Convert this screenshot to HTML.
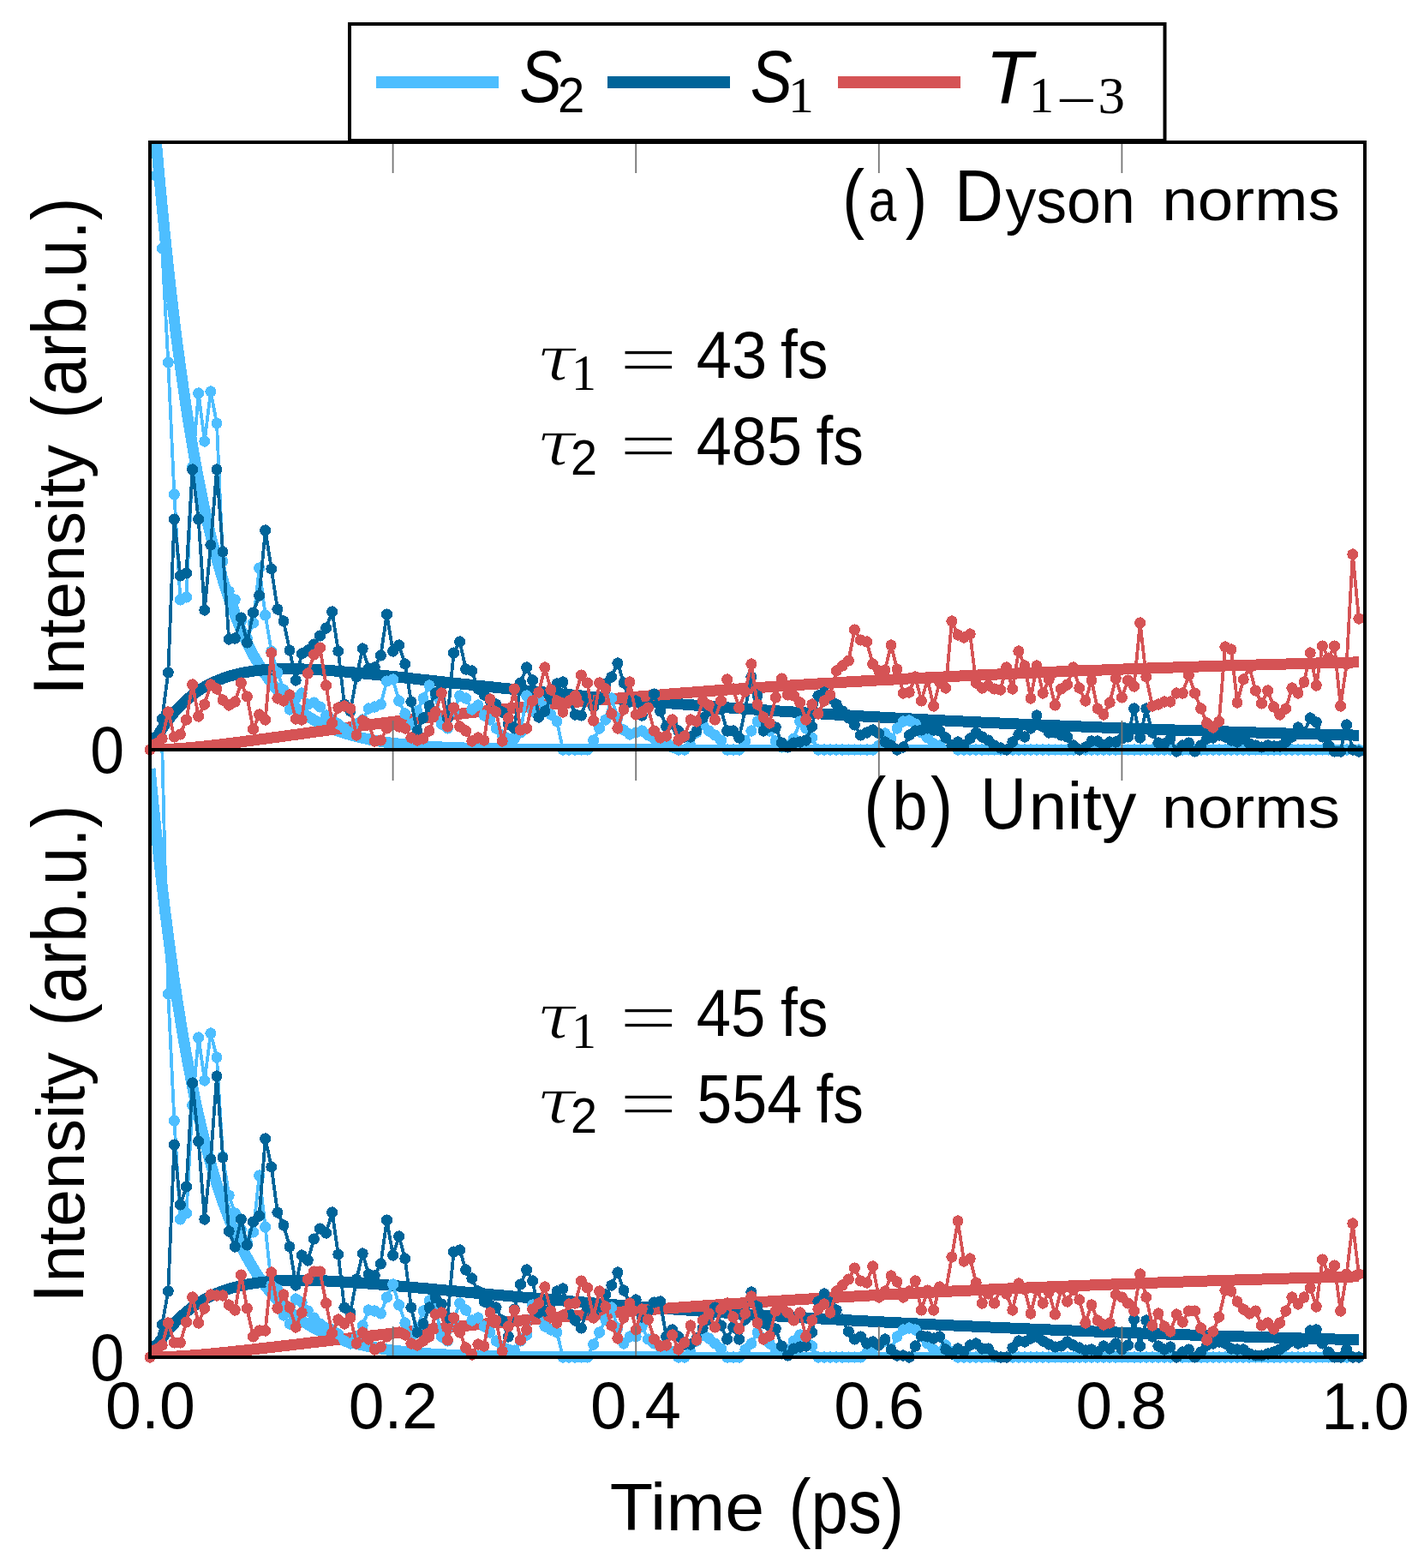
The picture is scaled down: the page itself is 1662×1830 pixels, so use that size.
<!DOCTYPE html>
<html><head><meta charset="utf-8"><title>Dyson and unity norms</title>
<style>
html,body{margin:0;padding:0;background:#fff;}
svg{display:block;}
text{font-family:"Liberation Sans",sans-serif;fill:#000;}
</style></head><body>
<svg width="1662" height="1830" viewBox="0 0 1662 1830">
<defs>
<clipPath id="clipa"><rect x="175" y="166" width="1418" height="709"/></clipPath>
<clipPath id="clipb"><rect x="175" y="875" width="1418" height="709"/></clipPath>
</defs>
<rect width="1662" height="1830" fill="#fff"/>
<g shape-rendering="crispEdges">
<g clip-path="url(#clipa)" fill="none" stroke-width="13" stroke-linejoin="round">
<path d="M175.0 75.0 L178.5 120.0 L182.1 162.4 L185.6 202.5 L189.1 240.3 L192.6 275.9 L196.2 309.6 L199.7 341.4 L203.2 371.4 L206.7 399.7 L210.3 426.4 L213.8 451.6 L217.3 475.4 L220.9 497.9 L224.4 519.1 L227.9 539.1 L231.4 558.0 L235.0 575.8 L238.5 592.6 L242.0 608.5 L245.5 623.5 L249.1 637.6 L252.6 650.9 L256.1 663.5 L259.7 675.4 L263.2 686.6 L266.7 697.2 L270.2 707.2 L273.8 716.6 L277.3 725.5 L280.8 733.9 L284.3 741.9 L287.9 749.4 L291.4 756.4 L294.9 763.1 L298.5 769.4 L302.0 775.3 L305.5 780.9 L309.0 786.2 L312.6 791.2 L316.1 795.9 L319.6 800.4 L323.1 804.5 L326.7 808.5 L330.2 812.2 L333.7 815.8 L337.3 819.1 L340.8 822.2 L344.3 825.2 L347.8 828.0 L351.4 830.6 L354.9 833.1 L358.4 835.5 L361.9 837.7 L365.5 839.8 L369.0 841.8 L372.5 843.7 L376.1 845.4 L379.6 847.1 L383.1 848.6 L386.6 850.1 L390.2 851.5 L393.7 852.8 L397.2 854.1 L400.7 855.3 L404.3 856.4 L407.8 857.4 L411.3 858.4 L414.9 859.3 L418.4 860.2 L421.9 861.1 L425.4 861.8 L429.0 862.6 L432.5 863.3 L436.0 863.9 L439.5 864.6 L443.1 865.1 L446.6 865.7 L450.1 866.2 L453.7 866.7 L457.2 867.2 L460.7 867.6 L464.2 868.0 L467.8 868.4 L471.3 868.8 L474.8 869.1 L478.3 869.5 L481.9 869.8 L485.4 870.1 L488.9 870.4 L492.5 870.6 L496.0 870.9 L499.5 871.1 L503.0 871.3 L506.6 871.5 L510.1 871.7 L513.6 871.9 L517.1 872.1 L520.7 872.2 L524.2 872.4 L527.7 872.5 L531.3 872.7 L534.8 872.8 L538.3 872.9 L541.8 873.0 L545.4 873.2 L548.9 873.3 L552.4 873.4 L555.9 873.5 L559.5 873.5 L563.0 873.6 L566.5 873.7 L570.1 873.8 L573.6 873.8 L577.1 873.9 L580.6 874.0 L584.2 874.0 L587.7 874.1 L591.2 874.1 L594.7 874.2 L598.3 874.2 L601.8 874.3 L605.3 874.3 L608.9 874.4 L612.4 874.4 L615.9 874.4 L619.4 874.5 L623.0 874.5 L626.5 874.5 L630.0 874.5 L633.5 874.6 L637.1 874.6 L640.6 874.6 L644.1 874.6 L647.7 874.7 L651.2 874.7 L654.7 874.7 L658.2 874.7 L661.8 874.7 L665.3 874.7 L668.8 874.8 L672.3 874.8 L675.9 874.8 L679.4 874.8 L682.9 874.8 L686.5 874.8 L690.0 874.8 L693.5 874.8 L697.0 874.8 L700.6 874.9 L704.1 874.9 L707.6 874.9 L711.1 874.9 L714.7 874.9 L718.2 874.9 L721.7 874.9 L725.3 874.9 L728.8 874.9 L732.3 874.9 L735.8 874.9 L739.4 874.9 L742.9 874.9 L746.4 874.9 L749.9 874.9 L753.5 874.9 L757.0 874.9 L760.5 874.9 L764.1 874.9 L767.6 875.0 L771.1 875.0 L774.6 875.0 L778.2 875.0 L781.7 875.0 L785.2 875.0 L788.7 875.0 L792.3 875.0 L795.8 875.0 L799.3 875.0 L802.9 875.0 L806.4 875.0 L809.9 875.0 L813.4 875.0 L817.0 875.0 L820.5 875.0 L824.0 875.0 L827.5 875.0 L831.1 875.0 L834.6 875.0 L838.1 875.0 L841.7 875.0 L845.2 875.0 L848.7 875.0 L852.2 875.0 L855.8 875.0 L859.3 875.0 L862.8 875.0 L866.3 875.0 L869.9 875.0 L873.4 875.0 L876.9 875.0 L880.5 875.0 L884.0 875.0 L887.5 875.0 L891.0 875.0 L894.6 875.0 L898.1 875.0 L901.6 875.0 L905.1 875.0 L908.7 875.0 L912.2 875.0 L915.7 875.0 L919.3 875.0 L922.8 875.0 L926.3 875.0 L929.8 875.0 L933.4 875.0 L936.9 875.0 L940.4 875.0 L943.9 875.0 L947.5 875.0 L951.0 875.0 L954.5 875.0 L958.1 875.0 L961.6 875.0 L965.1 875.0 L968.6 875.0 L972.2 875.0 L975.7 875.0 L979.2 875.0 L982.7 875.0 L986.3 875.0 L989.8 875.0 L993.3 875.0 L996.9 875.0 L1000.4 875.0 L1003.9 875.0 L1007.4 875.0 L1011.0 875.0 L1014.5 875.0 L1018.0 875.0 L1021.5 875.0 L1025.1 875.0 L1028.6 875.0 L1032.1 875.0 L1035.7 875.0 L1039.2 875.0 L1042.7 875.0 L1046.2 875.0 L1049.8 875.0 L1053.3 875.0 L1056.8 875.0 L1060.3 875.0 L1063.9 875.0 L1067.4 875.0 L1070.9 875.0 L1074.5 875.0 L1078.0 875.0 L1081.5 875.0 L1085.0 875.0 L1088.6 875.0 L1092.1 875.0 L1095.6 875.0 L1099.1 875.0 L1102.7 875.0 L1106.2 875.0 L1109.7 875.0 L1113.3 875.0 L1116.8 875.0 L1120.3 875.0 L1123.8 875.0 L1127.4 875.0 L1130.9 875.0 L1134.4 875.0 L1137.9 875.0 L1141.5 875.0 L1145.0 875.0 L1148.5 875.0 L1152.1 875.0 L1155.6 875.0 L1159.1 875.0 L1162.6 875.0 L1166.2 875.0 L1169.7 875.0 L1173.2 875.0 L1176.7 875.0 L1180.3 875.0 L1183.8 875.0 L1187.3 875.0 L1190.9 875.0 L1194.4 875.0 L1197.9 875.0 L1201.4 875.0 L1205.0 875.0 L1208.5 875.0 L1212.0 875.0 L1215.5 875.0 L1219.1 875.0 L1222.6 875.0 L1226.1 875.0 L1229.7 875.0 L1233.2 875.0 L1236.7 875.0 L1240.2 875.0 L1243.8 875.0 L1247.3 875.0 L1250.8 875.0 L1254.3 875.0 L1257.9 875.0 L1261.4 875.0 L1264.9 875.0 L1268.5 875.0 L1272.0 875.0 L1275.5 875.0 L1279.0 875.0 L1282.6 875.0 L1286.1 875.0 L1289.6 875.0 L1293.1 875.0 L1296.7 875.0 L1300.2 875.0 L1303.7 875.0 L1307.3 875.0 L1310.8 875.0 L1314.3 875.0 L1317.8 875.0 L1321.4 875.0 L1324.9 875.0 L1328.4 875.0 L1331.9 875.0 L1335.5 875.0 L1339.0 875.0 L1342.5 875.0 L1346.1 875.0 L1349.6 875.0 L1353.1 875.0 L1356.6 875.0 L1360.2 875.0 L1363.7 875.0 L1367.2 875.0 L1370.7 875.0 L1374.3 875.0 L1377.8 875.0 L1381.3 875.0 L1384.9 875.0 L1388.4 875.0 L1391.9 875.0 L1395.4 875.0 L1399.0 875.0 L1402.5 875.0 L1406.0 875.0 L1409.5 875.0 L1413.1 875.0 L1416.6 875.0 L1420.1 875.0 L1423.7 875.0 L1427.2 875.0 L1430.7 875.0 L1434.2 875.0 L1437.8 875.0 L1441.3 875.0 L1444.8 875.0 L1448.3 875.0 L1451.9 875.0 L1455.4 875.0 L1458.9 875.0 L1462.5 875.0 L1466.0 875.0 L1469.5 875.0 L1473.0 875.0 L1476.6 875.0 L1480.1 875.0 L1483.6 875.0 L1487.1 875.0 L1490.7 875.0 L1494.2 875.0 L1497.7 875.0 L1501.3 875.0 L1504.8 875.0 L1508.3 875.0 L1511.8 875.0 L1515.4 875.0 L1518.9 875.0 L1522.4 875.0 L1525.9 875.0 L1529.5 875.0 L1533.0 875.0 L1536.5 875.0 L1540.1 875.0 L1543.6 875.0 L1547.1 875.0 L1550.6 875.0 L1554.2 875.0 L1557.7 875.0 L1561.2 875.0 L1564.7 875.0 L1568.3 875.0 L1571.8 875.0 L1575.3 875.0 L1578.9 875.0 L1582.4 875.0 L1585.9 875.0" stroke="#4DBEFF"/>
<path d="M175.0 875.0 L178.5 868.3 L182.1 862.0 L185.6 856.1 L189.1 850.6 L192.6 845.4 L196.2 840.6 L199.7 836.0 L203.2 831.7 L206.7 827.7 L210.3 824.0 L213.8 820.5 L217.3 817.3 L220.9 814.2 L224.4 811.4 L227.9 808.7 L231.4 806.2 L235.0 803.9 L238.5 801.8 L242.0 799.8 L245.5 798.0 L249.1 796.3 L252.6 794.7 L256.1 793.2 L259.7 791.9 L263.2 790.6 L266.7 789.5 L270.2 788.4 L273.8 787.5 L277.3 786.6 L280.8 785.8 L284.3 785.1 L287.9 784.4 L291.4 783.8 L294.9 783.3 L298.5 782.8 L302.0 782.4 L305.5 782.0 L309.0 781.7 L312.6 781.5 L316.1 781.2 L319.6 781.1 L323.1 780.9 L326.7 780.8 L330.2 780.7 L333.7 780.7 L337.3 780.7 L340.8 780.7 L344.3 780.7 L347.8 780.8 L351.4 780.9 L354.9 781.0 L358.4 781.1 L361.9 781.3 L365.5 781.5 L369.0 781.6 L372.5 781.8 L376.1 782.1 L379.6 782.3 L383.1 782.5 L386.6 782.8 L390.2 783.0 L393.7 783.3 L397.2 783.6 L400.7 783.9 L404.3 784.2 L407.8 784.5 L411.3 784.8 L414.9 785.1 L418.4 785.5 L421.9 785.8 L425.4 786.1 L429.0 786.5 L432.5 786.8 L436.0 787.2 L439.5 787.5 L443.1 787.9 L446.6 788.3 L450.1 788.6 L453.7 789.0 L457.2 789.4 L460.7 789.7 L464.2 790.1 L467.8 790.5 L471.3 790.9 L474.8 791.2 L478.3 791.6 L481.9 792.0 L485.4 792.4 L488.9 792.8 L492.5 793.2 L496.0 793.5 L499.5 793.9 L503.0 794.3 L506.6 794.7 L510.1 795.1 L513.6 795.4 L517.1 795.8 L520.7 796.2 L524.2 796.6 L527.7 797.0 L531.3 797.3 L534.8 797.7 L538.3 798.1 L541.8 798.5 L545.4 798.8 L548.9 799.2 L552.4 799.6 L555.9 800.0 L559.5 800.3 L563.0 800.7 L566.5 801.1 L570.1 801.4 L573.6 801.8 L577.1 802.2 L580.6 802.5 L584.2 802.9 L587.7 803.3 L591.2 803.6 L594.7 804.0 L598.3 804.3 L601.8 804.7 L605.3 805.0 L608.9 805.4 L612.4 805.7 L615.9 806.1 L619.4 806.4 L623.0 806.8 L626.5 807.1 L630.0 807.5 L633.5 807.8 L637.1 808.2 L640.6 808.5 L644.1 808.8 L647.7 809.2 L651.2 809.5 L654.7 809.8 L658.2 810.2 L661.8 810.5 L665.3 810.8 L668.8 811.2 L672.3 811.5 L675.9 811.8 L679.4 812.1 L682.9 812.4 L686.5 812.8 L690.0 813.1 L693.5 813.4 L697.0 813.7 L700.6 814.0 L704.1 814.3 L707.6 814.6 L711.1 814.9 L714.7 815.3 L718.2 815.6 L721.7 815.9 L725.3 816.2 L728.8 816.5 L732.3 816.8 L735.8 817.1 L739.4 817.4 L742.9 817.6 L746.4 817.9 L749.9 818.2 L753.5 818.5 L757.0 818.8 L760.5 819.1 L764.1 819.4 L767.6 819.7 L771.1 819.9 L774.6 820.2 L778.2 820.5 L781.7 820.8 L785.2 821.1 L788.7 821.3 L792.3 821.6 L795.8 821.9 L799.3 822.2 L802.9 822.4 L806.4 822.7 L809.9 823.0 L813.4 823.2 L817.0 823.5 L820.5 823.8 L824.0 824.0 L827.5 824.3 L831.1 824.5 L834.6 824.8 L838.1 825.1 L841.7 825.3 L845.2 825.6 L848.7 825.8 L852.2 826.1 L855.8 826.3 L859.3 826.6 L862.8 826.8 L866.3 827.1 L869.9 827.3 L873.4 827.6 L876.9 827.8 L880.5 828.0 L884.0 828.3 L887.5 828.5 L891.0 828.8 L894.6 829.0 L898.1 829.2 L901.6 829.5 L905.1 829.7 L908.7 829.9 L912.2 830.2 L915.7 830.4 L919.3 830.6 L922.8 830.8 L926.3 831.1 L929.8 831.3 L933.4 831.5 L936.9 831.7 L940.4 832.0 L943.9 832.2 L947.5 832.4 L951.0 832.6 L954.5 832.8 L958.1 833.0 L961.6 833.3 L965.1 833.5 L968.6 833.7 L972.2 833.9 L975.7 834.1 L979.2 834.3 L982.7 834.5 L986.3 834.7 L989.8 834.9 L993.3 835.1 L996.9 835.3 L1000.4 835.5 L1003.9 835.8 L1007.4 836.0 L1011.0 836.2 L1014.5 836.4 L1018.0 836.5 L1021.5 836.7 L1025.1 836.9 L1028.6 837.1 L1032.1 837.3 L1035.7 837.5 L1039.2 837.7 L1042.7 837.9 L1046.2 838.1 L1049.8 838.3 L1053.3 838.5 L1056.8 838.7 L1060.3 838.8 L1063.9 839.0 L1067.4 839.2 L1070.9 839.4 L1074.5 839.6 L1078.0 839.8 L1081.5 839.9 L1085.0 840.1 L1088.6 840.3 L1092.1 840.5 L1095.6 840.7 L1099.1 840.8 L1102.7 841.0 L1106.2 841.2 L1109.7 841.3 L1113.3 841.5 L1116.8 841.7 L1120.3 841.9 L1123.8 842.0 L1127.4 842.2 L1130.9 842.4 L1134.4 842.5 L1137.9 842.7 L1141.5 842.9 L1145.0 843.0 L1148.5 843.2 L1152.1 843.4 L1155.6 843.5 L1159.1 843.7 L1162.6 843.8 L1166.2 844.0 L1169.7 844.2 L1173.2 844.3 L1176.7 844.5 L1180.3 844.6 L1183.8 844.8 L1187.3 844.9 L1190.9 845.1 L1194.4 845.2 L1197.9 845.4 L1201.4 845.5 L1205.0 845.7 L1208.5 845.9 L1212.0 846.0 L1215.5 846.1 L1219.1 846.3 L1222.6 846.4 L1226.1 846.6 L1229.7 846.7 L1233.2 846.9 L1236.7 847.0 L1240.2 847.2 L1243.8 847.3 L1247.3 847.4 L1250.8 847.6 L1254.3 847.7 L1257.9 847.9 L1261.4 848.0 L1264.9 848.1 L1268.5 848.3 L1272.0 848.4 L1275.5 848.6 L1279.0 848.7 L1282.6 848.8 L1286.1 849.0 L1289.6 849.1 L1293.1 849.2 L1296.7 849.4 L1300.2 849.5 L1303.7 849.6 L1307.3 849.7 L1310.8 849.9 L1314.3 850.0 L1317.8 850.1 L1321.4 850.3 L1324.9 850.4 L1328.4 850.5 L1331.9 850.6 L1335.5 850.8 L1339.0 850.9 L1342.5 851.0 L1346.1 851.1 L1349.6 851.3 L1353.1 851.4 L1356.6 851.5 L1360.2 851.6 L1363.7 851.7 L1367.2 851.9 L1370.7 852.0 L1374.3 852.1 L1377.8 852.2 L1381.3 852.3 L1384.9 852.4 L1388.4 852.6 L1391.9 852.7 L1395.4 852.8 L1399.0 852.9 L1402.5 853.0 L1406.0 853.1 L1409.5 853.2 L1413.1 853.4 L1416.6 853.5 L1420.1 853.6 L1423.7 853.7 L1427.2 853.8 L1430.7 853.9 L1434.2 854.0 L1437.8 854.1 L1441.3 854.2 L1444.8 854.3 L1448.3 854.4 L1451.9 854.5 L1455.4 854.6 L1458.9 854.7 L1462.5 854.9 L1466.0 855.0 L1469.5 855.1 L1473.0 855.2 L1476.6 855.3 L1480.1 855.4 L1483.6 855.5 L1487.1 855.6 L1490.7 855.7 L1494.2 855.8 L1497.7 855.9 L1501.3 856.0 L1504.8 856.1 L1508.3 856.2 L1511.8 856.2 L1515.4 856.3 L1518.9 856.4 L1522.4 856.5 L1525.9 856.6 L1529.5 856.7 L1533.0 856.8 L1536.5 856.9 L1540.1 857.0 L1543.6 857.1 L1547.1 857.2 L1550.6 857.3 L1554.2 857.4 L1557.7 857.5 L1561.2 857.5 L1564.7 857.6 L1568.3 857.7 L1571.8 857.8 L1575.3 857.9 L1578.9 858.0 L1582.4 858.1 L1585.9 858.2" stroke="#006499"/>
<path d="M175.0 875.0 L178.5 875.0 L182.1 874.9 L185.6 874.9 L189.1 874.7 L192.6 874.6 L196.2 874.4 L199.7 874.3 L203.2 874.0 L206.7 873.8 L210.3 873.6 L213.8 873.3 L217.3 873.0 L220.9 872.7 L224.4 872.4 L227.9 872.0 L231.4 871.7 L235.0 871.3 L238.5 871.0 L242.0 870.6 L245.5 870.2 L249.1 869.8 L252.6 869.4 L256.1 869.0 L259.7 868.6 L263.2 868.1 L266.7 867.7 L270.2 867.3 L273.8 866.8 L277.3 866.4 L280.8 865.9 L284.3 865.5 L287.9 865.0 L291.4 864.5 L294.9 864.1 L298.5 863.6 L302.0 863.1 L305.5 862.6 L309.0 862.2 L312.6 861.7 L316.1 861.2 L319.6 860.7 L323.1 860.3 L326.7 859.8 L330.2 859.3 L333.7 858.8 L337.3 858.3 L340.8 857.8 L344.3 857.4 L347.8 856.9 L351.4 856.4 L354.9 855.9 L358.4 855.4 L361.9 855.0 L365.5 854.5 L369.0 854.0 L372.5 853.5 L376.1 853.0 L379.6 852.6 L383.1 852.1 L386.6 851.6 L390.2 851.2 L393.7 850.7 L397.2 850.2 L400.7 849.8 L404.3 849.3 L407.8 848.8 L411.3 848.4 L414.9 847.9 L418.4 847.4 L421.9 847.0 L425.4 846.5 L429.0 846.1 L432.5 845.6 L436.0 845.2 L439.5 844.7 L443.1 844.3 L446.6 843.8 L450.1 843.4 L453.7 843.0 L457.2 842.5 L460.7 842.1 L464.2 841.6 L467.8 841.2 L471.3 840.8 L474.8 840.4 L478.3 839.9 L481.9 839.5 L485.4 839.1 L488.9 838.7 L492.5 838.2 L496.0 837.8 L499.5 837.4 L503.0 837.0 L506.6 836.6 L510.1 836.2 L513.6 835.8 L517.1 835.4 L520.7 835.0 L524.2 834.5 L527.7 834.1 L531.3 833.8 L534.8 833.4 L538.3 833.0 L541.8 832.6 L545.4 832.2 L548.9 831.8 L552.4 831.4 L555.9 831.0 L559.5 830.6 L563.0 830.3 L566.5 829.9 L570.1 829.5 L573.6 829.1 L577.1 828.8 L580.6 828.4 L584.2 828.0 L587.7 827.6 L591.2 827.3 L594.7 826.9 L598.3 826.6 L601.8 826.2 L605.3 825.8 L608.9 825.5 L612.4 825.1 L615.9 824.8 L619.4 824.4 L623.0 824.1 L626.5 823.7 L630.0 823.4 L633.5 823.0 L637.1 822.7 L640.6 822.3 L644.1 822.0 L647.7 821.7 L651.2 821.3 L654.7 821.0 L658.2 820.7 L661.8 820.3 L665.3 820.0 L668.8 819.7 L672.3 819.4 L675.9 819.0 L679.4 818.7 L682.9 818.4 L686.5 818.1 L690.0 817.8 L693.5 817.4 L697.0 817.1 L700.6 816.8 L704.1 816.5 L707.6 816.2 L711.1 815.9 L714.7 815.6 L718.2 815.3 L721.7 815.0 L725.3 814.7 L728.8 814.4 L732.3 814.1 L735.8 813.8 L739.4 813.5 L742.9 813.2 L746.4 812.9 L749.9 812.6 L753.5 812.3 L757.0 812.0 L760.5 811.7 L764.1 811.4 L767.6 811.2 L771.1 810.9 L774.6 810.6 L778.2 810.3 L781.7 810.0 L785.2 809.8 L788.7 809.5 L792.3 809.2 L795.8 808.9 L799.3 808.7 L802.9 808.4 L806.4 808.1 L809.9 807.9 L813.4 807.6 L817.0 807.3 L820.5 807.1 L824.0 806.8 L827.5 806.6 L831.1 806.3 L834.6 806.0 L838.1 805.8 L841.7 805.5 L845.2 805.3 L848.7 805.0 L852.2 804.8 L855.8 804.5 L859.3 804.3 L862.8 804.0 L866.3 803.8 L869.9 803.5 L873.4 803.3 L876.9 803.1 L880.5 802.8 L884.0 802.6 L887.5 802.3 L891.0 802.1 L894.6 801.9 L898.1 801.6 L901.6 801.4 L905.1 801.2 L908.7 800.9 L912.2 800.7 L915.7 800.5 L919.3 800.2 L922.8 800.0 L926.3 799.8 L929.8 799.6 L933.4 799.3 L936.9 799.1 L940.4 798.9 L943.9 798.7 L947.5 798.5 L951.0 798.3 L954.5 798.0 L958.1 797.8 L961.6 797.6 L965.1 797.4 L968.6 797.2 L972.2 797.0 L975.7 796.8 L979.2 796.6 L982.7 796.3 L986.3 796.1 L989.8 795.9 L993.3 795.7 L996.9 795.5 L1000.4 795.3 L1003.9 795.1 L1007.4 794.9 L1011.0 794.7 L1014.5 794.5 L1018.0 794.3 L1021.5 794.1 L1025.1 793.9 L1028.6 793.7 L1032.1 793.5 L1035.7 793.4 L1039.2 793.2 L1042.7 793.0 L1046.2 792.8 L1049.8 792.6 L1053.3 792.4 L1056.8 792.2 L1060.3 792.0 L1063.9 791.9 L1067.4 791.7 L1070.9 791.5 L1074.5 791.3 L1078.0 791.1 L1081.5 790.9 L1085.0 790.8 L1088.6 790.6 L1092.1 790.4 L1095.6 790.2 L1099.1 790.1 L1102.7 789.9 L1106.2 789.7 L1109.7 789.5 L1113.3 789.4 L1116.8 789.2 L1120.3 789.0 L1123.8 788.9 L1127.4 788.7 L1130.9 788.5 L1134.4 788.4 L1137.9 788.2 L1141.5 788.0 L1145.0 787.9 L1148.5 787.7 L1152.1 787.5 L1155.6 787.4 L1159.1 787.2 L1162.6 787.1 L1166.2 786.9 L1169.7 786.7 L1173.2 786.6 L1176.7 786.4 L1180.3 786.3 L1183.8 786.1 L1187.3 786.0 L1190.9 785.8 L1194.4 785.7 L1197.9 785.5 L1201.4 785.4 L1205.0 785.2 L1208.5 785.1 L1212.0 784.9 L1215.5 784.8 L1219.1 784.6 L1222.6 784.5 L1226.1 784.3 L1229.7 784.2 L1233.2 784.0 L1236.7 783.9 L1240.2 783.7 L1243.8 783.6 L1247.3 783.5 L1250.8 783.3 L1254.3 783.2 L1257.9 783.0 L1261.4 782.9 L1264.9 782.8 L1268.5 782.6 L1272.0 782.5 L1275.5 782.4 L1279.0 782.2 L1282.6 782.1 L1286.1 782.0 L1289.6 781.8 L1293.1 781.7 L1296.7 781.6 L1300.2 781.4 L1303.7 781.3 L1307.3 781.2 L1310.8 781.0 L1314.3 780.9 L1317.8 780.8 L1321.4 780.7 L1324.9 780.5 L1328.4 780.4 L1331.9 780.3 L1335.5 780.2 L1339.0 780.0 L1342.5 779.9 L1346.1 779.8 L1349.6 779.7 L1353.1 779.5 L1356.6 779.4 L1360.2 779.3 L1363.7 779.2 L1367.2 779.1 L1370.7 778.9 L1374.3 778.8 L1377.8 778.7 L1381.3 778.6 L1384.9 778.5 L1388.4 778.4 L1391.9 778.3 L1395.4 778.1 L1399.0 778.0 L1402.5 777.9 L1406.0 777.8 L1409.5 777.7 L1413.1 777.6 L1416.6 777.5 L1420.1 777.4 L1423.7 777.2 L1427.2 777.1 L1430.7 777.0 L1434.2 776.9 L1437.8 776.8 L1441.3 776.7 L1444.8 776.6 L1448.3 776.5 L1451.9 776.4 L1455.4 776.3 L1458.9 776.2 L1462.5 776.1 L1466.0 776.0 L1469.5 775.9 L1473.0 775.8 L1476.6 775.7 L1480.1 775.6 L1483.6 775.5 L1487.1 775.4 L1490.7 775.3 L1494.2 775.2 L1497.7 775.1 L1501.3 775.0 L1504.8 774.9 L1508.3 774.8 L1511.8 774.7 L1515.4 774.6 L1518.9 774.5 L1522.4 774.4 L1525.9 774.3 L1529.5 774.2 L1533.0 774.1 L1536.5 774.0 L1540.1 773.9 L1543.6 773.8 L1547.1 773.8 L1550.6 773.7 L1554.2 773.6 L1557.7 773.5 L1561.2 773.4 L1564.7 773.3 L1568.3 773.2 L1571.8 773.1 L1575.3 773.0 L1578.9 773.0 L1582.4 772.9 L1585.9 772.8" stroke="#D55355"/>
</g>
<path d="M175.0 -200.0 L182.1 205.0 L189.2 290.0 L196.3 423.0 L203.4 577.0 L210.4 700.0 L217.5 697.0 L224.6 545.0 L231.7 459.0 L238.8 515.0 L245.9 457.0 L253.0 494.0 L260.1 655.0 L267.2 690.0 L274.3 700.0 L281.4 725.0 L288.4 745.0 L295.5 727.0 L302.6 663.0 L309.7 718.0 L316.8 760.0 L323.9 785.0 L331.0 805.0 L338.1 828.0 L345.2 815.0 L352.2 809.0 L359.3 822.0 L366.4 820.0 L373.5 825.0 L380.6 835.0 L387.7 840.0 L394.8 845.0 L401.9 850.0 L409.0 855.0 L416.1 845.0 L423.2 840.0 L430.2 827.0 L437.3 825.0 L444.4 822.0 L451.5 795.0 L458.6 793.0 L465.7 818.0 L472.8 833.0 L479.9 845.0 L487.0 830.0 L494.1 815.0 L501.1 800.0 L508.2 812.0 L515.3 845.0 L522.4 850.0 L529.5 830.0 L536.6 812.0 L543.7 815.0 L550.8 828.0 L557.9 823.0 L565.0 835.0 L572.0 840.0 L579.1 850.0 L586.2 858.0 L593.3 862.0 L600.4 862.0 L607.5 855.0 L614.6 812.0 L621.7 830.0 L628.8 816.0 L635.9 825.0 L642.9 834.0 L650.0 842.0 L657.1 875.0 L664.2 875.0 L671.3 875.0 L678.4 875.0 L685.5 875.0 L692.6 864.0 L699.7 850.0 L706.8 840.0 L713.8 815.0 L720.9 838.0 L728.0 852.0 L735.1 857.0 L742.2 855.0 L749.3 853.0 L756.4 858.0 L763.5 862.0 L770.6 866.0 L777.6 866.0 L784.7 872.0 L791.8 875.0 L798.9 875.0 L806.0 870.0 L813.1 855.0 L820.2 845.0 L827.3 853.0 L834.4 858.0 L841.5 864.0 L848.6 875.0 L855.6 875.0 L862.7 875.0 L869.8 865.0 L876.9 853.0 L884.0 842.0 L891.1 850.0 L898.2 853.0 L905.3 865.0 L912.4 872.0 L919.5 870.0 L926.5 862.0 L933.6 842.0 L940.7 850.0 L947.8 861.0 L954.9 875.0 L962.0 875.0 L969.1 875.0 L976.2 875.0 L983.3 875.0 L990.4 875.0 L997.4 875.0 L1004.5 875.0 L1011.6 875.0 L1018.7 875.0 L1025.8 870.0 L1032.9 856.0 L1040.0 862.0 L1047.1 850.0 L1054.2 842.0 L1061.2 841.0 L1068.3 845.0 L1075.4 855.0 L1082.5 861.0 L1089.6 868.0 L1096.7 870.0 L1103.8 861.0 L1110.9 870.0 L1118.0 875.0 L1125.1 875.0 L1132.2 875.0 L1139.2 875.0 L1146.3 875.0 L1153.4 875.0 L1160.5 875.0 L1167.6 875.0 L1174.7 875.0 L1181.8 875.0 L1188.9 875.0 L1196.0 875.0 L1203.0 875.0 L1210.1 875.0 L1217.2 875.0 L1224.3 875.0 L1231.4 875.0 L1238.5 875.0 L1245.6 875.0 L1252.7 875.0 L1259.8 875.0 L1266.9 875.0 L1274.0 875.0 L1281.0 875.0 L1288.1 875.0 L1295.2 875.0 L1302.3 875.0 L1309.4 875.0 L1316.5 875.0 L1323.6 875.0 L1330.7 875.0 L1337.8 875.0 L1344.9 875.0 L1351.9 875.0 L1359.0 875.0 L1366.1 875.0 L1373.2 875.0 L1380.3 875.0 L1387.4 875.0 L1394.5 875.0 L1401.6 875.0 L1408.7 875.0 L1415.8 875.0 L1422.8 875.0 L1429.9 875.0 L1437.0 875.0 L1444.1 875.0 L1451.2 875.0 L1458.3 875.0 L1465.4 875.0 L1472.5 875.0 L1479.6 875.0 L1486.7 875.0 L1493.7 875.0 L1500.8 875.0 L1507.9 875.0 L1515.0 875.0 L1522.1 875.0 L1529.2 875.0 L1536.3 875.0 L1543.4 875.0 L1550.5 875.0 L1557.5 875.0 L1564.6 875.0 L1571.7 875.0 L1578.8 875.0 L1585.9 875.0" fill="none" stroke="#4DBEFF" stroke-width="3.8" stroke-linejoin="round" clip-path="url(#clipa)"/>
<path d="M182.1 198.0v14.0M189.2 283.0v14.0M196.3 416.0v14.0M203.4 570.0v14.0M210.4 693.0v14.0M217.5 690.0v14.0M224.6 538.0v14.0M231.7 452.0v14.0M238.8 508.0v14.0M245.9 450.0v14.0M253.0 487.0v14.0M260.1 648.0v14.0M267.2 683.0v14.0M274.3 693.0v14.0M281.4 718.0v14.0M288.4 738.0v14.0M295.5 720.0v14.0M302.6 656.0v14.0M309.7 711.0v14.0M316.8 753.0v14.0M323.9 778.0v14.0M331.0 798.0v14.0M338.1 821.0v14.0M345.2 808.0v14.0M352.2 802.0v14.0M359.3 815.0v14.0M366.4 813.0v14.0M373.5 818.0v14.0M380.6 828.0v14.0M387.7 833.0v14.0M394.8 838.0v14.0M401.9 843.0v14.0M409.0 848.0v14.0M416.1 838.0v14.0M423.2 833.0v14.0M430.2 820.0v14.0M437.3 818.0v14.0M444.4 815.0v14.0M451.5 788.0v14.0M458.6 786.0v14.0M465.7 811.0v14.0M472.8 826.0v14.0M479.9 838.0v14.0M487.0 823.0v14.0M494.1 808.0v14.0M501.1 793.0v14.0M508.2 805.0v14.0M515.3 838.0v14.0M522.4 843.0v14.0M529.5 823.0v14.0M536.6 805.0v14.0M543.7 808.0v14.0M550.8 821.0v14.0M557.9 816.0v14.0M565.0 828.0v14.0M572.0 833.0v14.0M579.1 843.0v14.0M586.2 851.0v14.0M593.3 855.0v14.0M600.4 855.0v14.0M607.5 848.0v14.0M614.6 805.0v14.0M621.7 823.0v14.0M628.8 809.0v14.0M635.9 818.0v14.0M642.9 827.0v14.0M650.0 835.0v14.0M657.1 868.0v14.0M664.2 868.0v14.0M671.3 868.0v14.0M678.4 868.0v14.0M685.5 868.0v14.0M692.6 857.0v14.0M699.7 843.0v14.0M706.8 833.0v14.0M713.8 808.0v14.0M720.9 831.0v14.0M728.0 845.0v14.0M735.1 850.0v14.0M742.2 848.0v14.0M749.3 846.0v14.0M756.4 851.0v14.0M763.5 855.0v14.0M770.6 859.0v14.0M777.6 859.0v14.0M784.7 865.0v14.0M791.8 868.0v14.0M798.9 868.0v14.0M806.0 863.0v14.0M813.1 848.0v14.0M820.2 838.0v14.0M827.3 846.0v14.0M834.4 851.0v14.0M841.5 857.0v14.0M848.6 868.0v14.0M855.6 868.0v14.0M862.7 868.0v14.0M869.8 858.0v14.0M876.9 846.0v14.0M884.0 835.0v14.0M891.1 843.0v14.0M898.2 846.0v14.0M905.3 858.0v14.0M912.4 865.0v14.0M919.5 863.0v14.0M926.5 855.0v14.0M933.6 835.0v14.0M940.7 843.0v14.0M947.8 854.0v14.0M954.9 868.0v14.0M962.0 868.0v14.0M969.1 868.0v14.0M976.2 868.0v14.0M983.3 868.0v14.0M990.4 868.0v14.0M997.4 868.0v14.0M1004.5 868.0v14.0M1011.6 868.0v14.0M1018.7 868.0v14.0M1025.8 863.0v14.0M1032.9 849.0v14.0M1040.0 855.0v14.0M1047.1 843.0v14.0M1054.2 835.0v14.0M1061.2 834.0v14.0M1068.3 838.0v14.0M1075.4 848.0v14.0M1082.5 854.0v14.0M1089.6 861.0v14.0M1096.7 863.0v14.0M1103.8 854.0v14.0M1110.9 863.0v14.0M1118.0 868.0v14.0M1125.1 868.0v14.0M1132.2 868.0v14.0M1139.2 868.0v14.0M1146.3 868.0v14.0M1153.4 868.0v14.0M1160.5 868.0v14.0M1167.6 868.0v14.0M1174.7 868.0v14.0M1181.8 868.0v14.0M1188.9 868.0v14.0M1196.0 868.0v14.0M1203.0 868.0v14.0M1210.1 868.0v14.0M1217.2 868.0v14.0M1224.3 868.0v14.0M1231.4 868.0v14.0M1238.5 868.0v14.0M1245.6 868.0v14.0M1252.7 868.0v14.0M1259.8 868.0v14.0M1266.9 868.0v14.0M1274.0 868.0v14.0M1281.0 868.0v14.0M1288.1 868.0v14.0M1295.2 868.0v14.0M1302.3 868.0v14.0M1309.4 868.0v14.0M1316.5 868.0v14.0M1323.6 868.0v14.0M1330.7 868.0v14.0M1337.8 868.0v14.0M1344.9 868.0v14.0M1351.9 868.0v14.0M1359.0 868.0v14.0M1366.1 868.0v14.0M1373.2 868.0v14.0M1380.3 868.0v14.0M1387.4 868.0v14.0M1394.5 868.0v14.0M1401.6 868.0v14.0M1408.7 868.0v14.0M1415.8 868.0v14.0M1422.8 868.0v14.0M1429.9 868.0v14.0M1437.0 868.0v14.0M1444.1 868.0v14.0M1451.2 868.0v14.0M1458.3 868.0v14.0M1465.4 868.0v14.0M1472.5 868.0v14.0M1479.6 868.0v14.0M1486.7 868.0v14.0M1493.7 868.0v14.0M1500.8 868.0v14.0M1507.9 868.0v14.0M1515.0 868.0v14.0M1522.1 868.0v14.0M1529.2 868.0v14.0M1536.3 868.0v14.0M1543.4 868.0v14.0M1550.5 868.0v14.0M1557.5 868.0v14.0M1564.6 868.0v14.0M1571.7 868.0v14.0M1578.8 868.0v14.0M1585.9 868.0v14.0" stroke="#4DBEFF" stroke-width="1.8" fill="none"/>
<g fill="#4DBEFF"><circle cx="182.1" cy="205.0" r="6.5"/><circle cx="189.2" cy="290.0" r="6.5"/><circle cx="196.3" cy="423.0" r="6.5"/><circle cx="203.4" cy="577.0" r="6.5"/><circle cx="210.4" cy="700.0" r="6.5"/><circle cx="217.5" cy="697.0" r="6.5"/><circle cx="224.6" cy="545.0" r="6.5"/><circle cx="231.7" cy="459.0" r="6.5"/><circle cx="238.8" cy="515.0" r="6.5"/><circle cx="245.9" cy="457.0" r="6.5"/><circle cx="253.0" cy="494.0" r="6.5"/><circle cx="260.1" cy="655.0" r="6.5"/><circle cx="267.2" cy="690.0" r="6.5"/><circle cx="274.3" cy="700.0" r="6.5"/><circle cx="281.4" cy="725.0" r="6.5"/><circle cx="288.4" cy="745.0" r="6.5"/><circle cx="295.5" cy="727.0" r="6.5"/><circle cx="302.6" cy="663.0" r="6.5"/><circle cx="309.7" cy="718.0" r="6.5"/><circle cx="316.8" cy="760.0" r="6.5"/><circle cx="323.9" cy="785.0" r="6.5"/><circle cx="331.0" cy="805.0" r="6.5"/><circle cx="338.1" cy="828.0" r="6.5"/><circle cx="345.2" cy="815.0" r="6.5"/><circle cx="352.2" cy="809.0" r="6.5"/><circle cx="359.3" cy="822.0" r="6.5"/><circle cx="366.4" cy="820.0" r="6.5"/><circle cx="373.5" cy="825.0" r="6.5"/><circle cx="380.6" cy="835.0" r="6.5"/><circle cx="387.7" cy="840.0" r="6.5"/><circle cx="394.8" cy="845.0" r="6.5"/><circle cx="401.9" cy="850.0" r="6.5"/><circle cx="409.0" cy="855.0" r="6.5"/><circle cx="416.1" cy="845.0" r="6.5"/><circle cx="423.2" cy="840.0" r="6.5"/><circle cx="430.2" cy="827.0" r="6.5"/><circle cx="437.3" cy="825.0" r="6.5"/><circle cx="444.4" cy="822.0" r="6.5"/><circle cx="451.5" cy="795.0" r="6.5"/><circle cx="458.6" cy="793.0" r="6.5"/><circle cx="465.7" cy="818.0" r="6.5"/><circle cx="472.8" cy="833.0" r="6.5"/><circle cx="479.9" cy="845.0" r="6.5"/><circle cx="487.0" cy="830.0" r="6.5"/><circle cx="494.1" cy="815.0" r="6.5"/><circle cx="501.1" cy="800.0" r="6.5"/><circle cx="508.2" cy="812.0" r="6.5"/><circle cx="515.3" cy="845.0" r="6.5"/><circle cx="522.4" cy="850.0" r="6.5"/><circle cx="529.5" cy="830.0" r="6.5"/><circle cx="536.6" cy="812.0" r="6.5"/><circle cx="543.7" cy="815.0" r="6.5"/><circle cx="550.8" cy="828.0" r="6.5"/><circle cx="557.9" cy="823.0" r="6.5"/><circle cx="565.0" cy="835.0" r="6.5"/><circle cx="572.0" cy="840.0" r="6.5"/><circle cx="579.1" cy="850.0" r="6.5"/><circle cx="586.2" cy="858.0" r="6.5"/><circle cx="593.3" cy="862.0" r="6.5"/><circle cx="600.4" cy="862.0" r="6.5"/><circle cx="607.5" cy="855.0" r="6.5"/><circle cx="614.6" cy="812.0" r="6.5"/><circle cx="621.7" cy="830.0" r="6.5"/><circle cx="628.8" cy="816.0" r="6.5"/><circle cx="635.9" cy="825.0" r="6.5"/><circle cx="642.9" cy="834.0" r="6.5"/><circle cx="650.0" cy="842.0" r="6.5"/><circle cx="657.1" cy="875.0" r="6.5"/><circle cx="664.2" cy="875.0" r="6.5"/><circle cx="671.3" cy="875.0" r="6.5"/><circle cx="678.4" cy="875.0" r="6.5"/><circle cx="685.5" cy="875.0" r="6.5"/><circle cx="692.6" cy="864.0" r="6.5"/><circle cx="699.7" cy="850.0" r="6.5"/><circle cx="706.8" cy="840.0" r="6.5"/><circle cx="713.8" cy="815.0" r="6.5"/><circle cx="720.9" cy="838.0" r="6.5"/><circle cx="728.0" cy="852.0" r="6.5"/><circle cx="735.1" cy="857.0" r="6.5"/><circle cx="742.2" cy="855.0" r="6.5"/><circle cx="749.3" cy="853.0" r="6.5"/><circle cx="756.4" cy="858.0" r="6.5"/><circle cx="763.5" cy="862.0" r="6.5"/><circle cx="770.6" cy="866.0" r="6.5"/><circle cx="777.6" cy="866.0" r="6.5"/><circle cx="784.7" cy="872.0" r="6.5"/><circle cx="791.8" cy="875.0" r="6.5"/><circle cx="798.9" cy="875.0" r="6.5"/><circle cx="806.0" cy="870.0" r="6.5"/><circle cx="813.1" cy="855.0" r="6.5"/><circle cx="820.2" cy="845.0" r="6.5"/><circle cx="827.3" cy="853.0" r="6.5"/><circle cx="834.4" cy="858.0" r="6.5"/><circle cx="841.5" cy="864.0" r="6.5"/><circle cx="848.6" cy="875.0" r="6.5"/><circle cx="855.6" cy="875.0" r="6.5"/><circle cx="862.7" cy="875.0" r="6.5"/><circle cx="869.8" cy="865.0" r="6.5"/><circle cx="876.9" cy="853.0" r="6.5"/><circle cx="884.0" cy="842.0" r="6.5"/><circle cx="891.1" cy="850.0" r="6.5"/><circle cx="898.2" cy="853.0" r="6.5"/><circle cx="905.3" cy="865.0" r="6.5"/><circle cx="912.4" cy="872.0" r="6.5"/><circle cx="919.5" cy="870.0" r="6.5"/><circle cx="926.5" cy="862.0" r="6.5"/><circle cx="933.6" cy="842.0" r="6.5"/><circle cx="940.7" cy="850.0" r="6.5"/><circle cx="947.8" cy="861.0" r="6.5"/><circle cx="954.9" cy="875.0" r="6.5"/><circle cx="962.0" cy="875.0" r="6.5"/><circle cx="969.1" cy="875.0" r="6.5"/><circle cx="976.2" cy="875.0" r="6.5"/><circle cx="983.3" cy="875.0" r="6.5"/><circle cx="990.4" cy="875.0" r="6.5"/><circle cx="997.4" cy="875.0" r="6.5"/><circle cx="1004.5" cy="875.0" r="6.5"/><circle cx="1011.6" cy="875.0" r="6.5"/><circle cx="1018.7" cy="875.0" r="6.5"/><circle cx="1025.8" cy="870.0" r="6.5"/><circle cx="1032.9" cy="856.0" r="6.5"/><circle cx="1040.0" cy="862.0" r="6.5"/><circle cx="1047.1" cy="850.0" r="6.5"/><circle cx="1054.2" cy="842.0" r="6.5"/><circle cx="1061.2" cy="841.0" r="6.5"/><circle cx="1068.3" cy="845.0" r="6.5"/><circle cx="1075.4" cy="855.0" r="6.5"/><circle cx="1082.5" cy="861.0" r="6.5"/><circle cx="1089.6" cy="868.0" r="6.5"/><circle cx="1096.7" cy="870.0" r="6.5"/><circle cx="1103.8" cy="861.0" r="6.5"/><circle cx="1110.9" cy="870.0" r="6.5"/><circle cx="1118.0" cy="875.0" r="6.5"/><circle cx="1125.1" cy="875.0" r="6.5"/><circle cx="1132.2" cy="875.0" r="6.5"/><circle cx="1139.2" cy="875.0" r="6.5"/><circle cx="1146.3" cy="875.0" r="6.5"/><circle cx="1153.4" cy="875.0" r="6.5"/><circle cx="1160.5" cy="875.0" r="6.5"/><circle cx="1167.6" cy="875.0" r="6.5"/><circle cx="1174.7" cy="875.0" r="6.5"/><circle cx="1181.8" cy="875.0" r="6.5"/><circle cx="1188.9" cy="875.0" r="6.5"/><circle cx="1196.0" cy="875.0" r="6.5"/><circle cx="1203.0" cy="875.0" r="6.5"/><circle cx="1210.1" cy="875.0" r="6.5"/><circle cx="1217.2" cy="875.0" r="6.5"/><circle cx="1224.3" cy="875.0" r="6.5"/><circle cx="1231.4" cy="875.0" r="6.5"/><circle cx="1238.5" cy="875.0" r="6.5"/><circle cx="1245.6" cy="875.0" r="6.5"/><circle cx="1252.7" cy="875.0" r="6.5"/><circle cx="1259.8" cy="875.0" r="6.5"/><circle cx="1266.9" cy="875.0" r="6.5"/><circle cx="1274.0" cy="875.0" r="6.5"/><circle cx="1281.0" cy="875.0" r="6.5"/><circle cx="1288.1" cy="875.0" r="6.5"/><circle cx="1295.2" cy="875.0" r="6.5"/><circle cx="1302.3" cy="875.0" r="6.5"/><circle cx="1309.4" cy="875.0" r="6.5"/><circle cx="1316.5" cy="875.0" r="6.5"/><circle cx="1323.6" cy="875.0" r="6.5"/><circle cx="1330.7" cy="875.0" r="6.5"/><circle cx="1337.8" cy="875.0" r="6.5"/><circle cx="1344.9" cy="875.0" r="6.5"/><circle cx="1351.9" cy="875.0" r="6.5"/><circle cx="1359.0" cy="875.0" r="6.5"/><circle cx="1366.1" cy="875.0" r="6.5"/><circle cx="1373.2" cy="875.0" r="6.5"/><circle cx="1380.3" cy="875.0" r="6.5"/><circle cx="1387.4" cy="875.0" r="6.5"/><circle cx="1394.5" cy="875.0" r="6.5"/><circle cx="1401.6" cy="875.0" r="6.5"/><circle cx="1408.7" cy="875.0" r="6.5"/><circle cx="1415.8" cy="875.0" r="6.5"/><circle cx="1422.8" cy="875.0" r="6.5"/><circle cx="1429.9" cy="875.0" r="6.5"/><circle cx="1437.0" cy="875.0" r="6.5"/><circle cx="1444.1" cy="875.0" r="6.5"/><circle cx="1451.2" cy="875.0" r="6.5"/><circle cx="1458.3" cy="875.0" r="6.5"/><circle cx="1465.4" cy="875.0" r="6.5"/><circle cx="1472.5" cy="875.0" r="6.5"/><circle cx="1479.6" cy="875.0" r="6.5"/><circle cx="1486.7" cy="875.0" r="6.5"/><circle cx="1493.7" cy="875.0" r="6.5"/><circle cx="1500.8" cy="875.0" r="6.5"/><circle cx="1507.9" cy="875.0" r="6.5"/><circle cx="1515.0" cy="875.0" r="6.5"/><circle cx="1522.1" cy="875.0" r="6.5"/><circle cx="1529.2" cy="875.0" r="6.5"/><circle cx="1536.3" cy="875.0" r="6.5"/><circle cx="1543.4" cy="875.0" r="6.5"/><circle cx="1550.5" cy="875.0" r="6.5"/><circle cx="1557.5" cy="875.0" r="6.5"/><circle cx="1564.6" cy="875.0" r="6.5"/><circle cx="1571.7" cy="875.0" r="6.5"/><circle cx="1578.8" cy="875.0" r="6.5"/><circle cx="1585.9" cy="875.0" r="6.5"/></g>
<path d="M175.0 875.0 L182.1 860.0 L189.2 839.0 L196.3 785.0 L203.4 606.0 L210.4 672.0 L217.5 669.0 L224.6 548.0 L231.7 606.0 L238.8 712.0 L245.9 636.0 L253.0 548.0 L260.1 644.0 L267.2 746.0 L274.3 745.0 L281.4 721.0 L288.4 750.0 L295.5 715.0 L302.6 695.0 L309.7 619.0 L316.8 664.0 L323.9 711.0 L331.0 725.0 L338.1 759.0 L345.2 794.0 L352.2 763.0 L359.3 759.0 L366.4 752.0 L373.5 742.0 L380.6 733.0 L387.7 714.0 L394.8 760.0 L401.9 822.0 L409.0 830.0 L416.1 790.0 L423.2 757.0 L430.2 780.0 L437.3 779.0 L444.4 765.0 L451.5 717.0 L458.6 760.0 L465.7 753.0 L472.8 775.0 L479.9 819.0 L487.0 853.0 L494.1 838.0 L501.1 824.0 L508.2 809.0 L515.3 800.0 L522.4 838.0 L529.5 762.0 L536.6 749.0 L543.7 781.0 L550.8 783.0 L557.9 804.0 L565.0 811.0 L572.0 818.0 L579.1 822.0 L586.2 831.0 L593.3 845.0 L600.4 850.0 L607.5 797.0 L614.6 779.0 L621.7 794.0 L628.8 837.0 L635.9 830.0 L642.9 815.0 L650.0 798.0 L657.1 796.0 L664.2 815.0 L671.3 834.0 L678.4 835.0 L685.5 814.0 L692.6 825.0 L699.7 816.0 L706.8 798.0 L713.8 790.0 L720.9 774.0 L728.0 797.0 L735.1 819.0 L742.2 818.0 L749.3 835.0 L756.4 825.0 L763.5 810.0 L770.6 830.0 L777.6 848.0 L784.7 845.0 L791.8 853.0 L798.9 860.0 L806.0 860.0 L813.1 853.0 L820.2 838.0 L827.3 830.0 L834.4 828.0 L841.5 828.0 L848.6 853.0 L855.6 853.0 L862.7 861.0 L869.8 828.0 L876.9 790.0 L884.0 812.0 L891.1 853.0 L898.2 848.0 L905.3 849.0 L912.4 867.0 L919.5 872.0 L926.5 867.0 L933.6 866.0 L940.7 864.0 L947.8 848.0 L954.9 812.0 L962.0 808.0 L969.1 815.0 L976.2 822.0 L983.3 830.0 L990.4 838.0 L997.4 846.0 L1004.5 858.0 L1011.6 855.0 L1018.7 852.0 L1025.8 856.0 L1032.9 866.0 L1040.0 870.0 L1047.1 875.0 L1054.2 872.0 L1061.2 858.0 L1068.3 853.0 L1075.4 852.0 L1082.5 850.0 L1089.6 852.0 L1096.7 853.0 L1103.8 861.0 L1110.9 870.0 L1118.0 866.0 L1125.1 870.0 L1132.2 862.0 L1139.2 855.0 L1146.3 860.0 L1153.4 864.0 L1160.5 870.0 L1167.6 873.0 L1174.7 875.0 L1181.8 866.0 L1188.9 857.0 L1196.0 860.0 L1203.0 850.0 L1210.1 835.0 L1217.2 848.0 L1224.3 855.0 L1231.4 855.0 L1238.5 858.0 L1245.6 860.0 L1252.7 870.0 L1259.8 875.0 L1266.9 872.0 L1274.0 865.0 L1281.0 865.0 L1288.1 870.0 L1295.2 866.0 L1302.3 866.0 L1309.4 862.0 L1316.5 860.0 L1323.6 827.0 L1330.7 861.0 L1337.8 827.0 L1344.9 855.0 L1351.9 867.0 L1359.0 868.0 L1366.1 862.0 L1373.2 877.0 L1380.3 870.0 L1387.4 867.0 L1394.5 877.0 L1401.6 870.0 L1408.7 862.0 L1415.8 861.0 L1422.8 858.0 L1429.9 860.0 L1437.0 864.0 L1444.1 866.0 L1451.2 862.0 L1458.3 868.0 L1465.4 870.0 L1472.5 872.0 L1479.6 870.0 L1486.7 871.0 L1493.7 871.0 L1500.8 866.0 L1507.9 860.0 L1515.0 849.0 L1522.1 855.0 L1529.2 838.0 L1536.3 843.0 L1543.4 860.0 L1550.5 870.0 L1557.5 877.0 L1564.6 877.0 L1571.7 846.0 L1578.8 875.0 L1585.9 877.0" fill="none" stroke="#006499" stroke-width="3.8" stroke-linejoin="round" clip-path="url(#clipa)"/>
<path d="M175.0 868.0v14.0M182.1 853.0v14.0M189.2 832.0v14.0M196.3 778.0v14.0M203.4 599.0v14.0M210.4 665.0v14.0M217.5 662.0v14.0M224.6 541.0v14.0M231.7 599.0v14.0M238.8 705.0v14.0M245.9 629.0v14.0M253.0 541.0v14.0M260.1 637.0v14.0M267.2 739.0v14.0M274.3 738.0v14.0M281.4 714.0v14.0M288.4 743.0v14.0M295.5 708.0v14.0M302.6 688.0v14.0M309.7 612.0v14.0M316.8 657.0v14.0M323.9 704.0v14.0M331.0 718.0v14.0M338.1 752.0v14.0M345.2 787.0v14.0M352.2 756.0v14.0M359.3 752.0v14.0M366.4 745.0v14.0M373.5 735.0v14.0M380.6 726.0v14.0M387.7 707.0v14.0M394.8 753.0v14.0M401.9 815.0v14.0M409.0 823.0v14.0M416.1 783.0v14.0M423.2 750.0v14.0M430.2 773.0v14.0M437.3 772.0v14.0M444.4 758.0v14.0M451.5 710.0v14.0M458.6 753.0v14.0M465.7 746.0v14.0M472.8 768.0v14.0M479.9 812.0v14.0M487.0 846.0v14.0M494.1 831.0v14.0M501.1 817.0v14.0M508.2 802.0v14.0M515.3 793.0v14.0M522.4 831.0v14.0M529.5 755.0v14.0M536.6 742.0v14.0M543.7 774.0v14.0M550.8 776.0v14.0M557.9 797.0v14.0M565.0 804.0v14.0M572.0 811.0v14.0M579.1 815.0v14.0M586.2 824.0v14.0M593.3 838.0v14.0M600.4 843.0v14.0M607.5 790.0v14.0M614.6 772.0v14.0M621.7 787.0v14.0M628.8 830.0v14.0M635.9 823.0v14.0M642.9 808.0v14.0M650.0 791.0v14.0M657.1 789.0v14.0M664.2 808.0v14.0M671.3 827.0v14.0M678.4 828.0v14.0M685.5 807.0v14.0M692.6 818.0v14.0M699.7 809.0v14.0M706.8 791.0v14.0M713.8 783.0v14.0M720.9 767.0v14.0M728.0 790.0v14.0M735.1 812.0v14.0M742.2 811.0v14.0M749.3 828.0v14.0M756.4 818.0v14.0M763.5 803.0v14.0M770.6 823.0v14.0M777.6 841.0v14.0M784.7 838.0v14.0M791.8 846.0v14.0M798.9 853.0v14.0M806.0 853.0v14.0M813.1 846.0v14.0M820.2 831.0v14.0M827.3 823.0v14.0M834.4 821.0v14.0M841.5 821.0v14.0M848.6 846.0v14.0M855.6 846.0v14.0M862.7 854.0v14.0M869.8 821.0v14.0M876.9 783.0v14.0M884.0 805.0v14.0M891.1 846.0v14.0M898.2 841.0v14.0M905.3 842.0v14.0M912.4 860.0v14.0M919.5 865.0v14.0M926.5 860.0v14.0M933.6 859.0v14.0M940.7 857.0v14.0M947.8 841.0v14.0M954.9 805.0v14.0M962.0 801.0v14.0M969.1 808.0v14.0M976.2 815.0v14.0M983.3 823.0v14.0M990.4 831.0v14.0M997.4 839.0v14.0M1004.5 851.0v14.0M1011.6 848.0v14.0M1018.7 845.0v14.0M1025.8 849.0v14.0M1032.9 859.0v14.0M1040.0 863.0v14.0M1047.1 868.0v14.0M1054.2 865.0v14.0M1061.2 851.0v14.0M1068.3 846.0v14.0M1075.4 845.0v14.0M1082.5 843.0v14.0M1089.6 845.0v14.0M1096.7 846.0v14.0M1103.8 854.0v14.0M1110.9 863.0v14.0M1118.0 859.0v14.0M1125.1 863.0v14.0M1132.2 855.0v14.0M1139.2 848.0v14.0M1146.3 853.0v14.0M1153.4 857.0v14.0M1160.5 863.0v14.0M1167.6 866.0v14.0M1174.7 868.0v14.0M1181.8 859.0v14.0M1188.9 850.0v14.0M1196.0 853.0v14.0M1203.0 843.0v14.0M1210.1 828.0v14.0M1217.2 841.0v14.0M1224.3 848.0v14.0M1231.4 848.0v14.0M1238.5 851.0v14.0M1245.6 853.0v14.0M1252.7 863.0v14.0M1259.8 868.0v14.0M1266.9 865.0v14.0M1274.0 858.0v14.0M1281.0 858.0v14.0M1288.1 863.0v14.0M1295.2 859.0v14.0M1302.3 859.0v14.0M1309.4 855.0v14.0M1316.5 853.0v14.0M1323.6 820.0v14.0M1330.7 854.0v14.0M1337.8 820.0v14.0M1344.9 848.0v14.0M1351.9 860.0v14.0M1359.0 861.0v14.0M1366.1 855.0v14.0M1373.2 870.0v14.0M1380.3 863.0v14.0M1387.4 860.0v14.0M1394.5 870.0v14.0M1401.6 863.0v14.0M1408.7 855.0v14.0M1415.8 854.0v14.0M1422.8 851.0v14.0M1429.9 853.0v14.0M1437.0 857.0v14.0M1444.1 859.0v14.0M1451.2 855.0v14.0M1458.3 861.0v14.0M1465.4 863.0v14.0M1472.5 865.0v14.0M1479.6 863.0v14.0M1486.7 864.0v14.0M1493.7 864.0v14.0M1500.8 859.0v14.0M1507.9 853.0v14.0M1515.0 842.0v14.0M1522.1 848.0v14.0M1529.2 831.0v14.0M1536.3 836.0v14.0M1543.4 853.0v14.0M1550.5 863.0v14.0M1557.5 870.0v14.0M1564.6 870.0v14.0M1571.7 839.0v14.0M1578.8 868.0v14.0M1585.9 870.0v14.0" stroke="#006499" stroke-width="1.8" fill="none"/>
<g fill="#006499"><circle cx="175.0" cy="875.0" r="6.5"/><circle cx="182.1" cy="860.0" r="6.5"/><circle cx="189.2" cy="839.0" r="6.5"/><circle cx="196.3" cy="785.0" r="6.5"/><circle cx="203.4" cy="606.0" r="6.5"/><circle cx="210.4" cy="672.0" r="6.5"/><circle cx="217.5" cy="669.0" r="6.5"/><circle cx="224.6" cy="548.0" r="6.5"/><circle cx="231.7" cy="606.0" r="6.5"/><circle cx="238.8" cy="712.0" r="6.5"/><circle cx="245.9" cy="636.0" r="6.5"/><circle cx="253.0" cy="548.0" r="6.5"/><circle cx="260.1" cy="644.0" r="6.5"/><circle cx="267.2" cy="746.0" r="6.5"/><circle cx="274.3" cy="745.0" r="6.5"/><circle cx="281.4" cy="721.0" r="6.5"/><circle cx="288.4" cy="750.0" r="6.5"/><circle cx="295.5" cy="715.0" r="6.5"/><circle cx="302.6" cy="695.0" r="6.5"/><circle cx="309.7" cy="619.0" r="6.5"/><circle cx="316.8" cy="664.0" r="6.5"/><circle cx="323.9" cy="711.0" r="6.5"/><circle cx="331.0" cy="725.0" r="6.5"/><circle cx="338.1" cy="759.0" r="6.5"/><circle cx="345.2" cy="794.0" r="6.5"/><circle cx="352.2" cy="763.0" r="6.5"/><circle cx="359.3" cy="759.0" r="6.5"/><circle cx="366.4" cy="752.0" r="6.5"/><circle cx="373.5" cy="742.0" r="6.5"/><circle cx="380.6" cy="733.0" r="6.5"/><circle cx="387.7" cy="714.0" r="6.5"/><circle cx="394.8" cy="760.0" r="6.5"/><circle cx="401.9" cy="822.0" r="6.5"/><circle cx="409.0" cy="830.0" r="6.5"/><circle cx="416.1" cy="790.0" r="6.5"/><circle cx="423.2" cy="757.0" r="6.5"/><circle cx="430.2" cy="780.0" r="6.5"/><circle cx="437.3" cy="779.0" r="6.5"/><circle cx="444.4" cy="765.0" r="6.5"/><circle cx="451.5" cy="717.0" r="6.5"/><circle cx="458.6" cy="760.0" r="6.5"/><circle cx="465.7" cy="753.0" r="6.5"/><circle cx="472.8" cy="775.0" r="6.5"/><circle cx="479.9" cy="819.0" r="6.5"/><circle cx="487.0" cy="853.0" r="6.5"/><circle cx="494.1" cy="838.0" r="6.5"/><circle cx="501.1" cy="824.0" r="6.5"/><circle cx="508.2" cy="809.0" r="6.5"/><circle cx="515.3" cy="800.0" r="6.5"/><circle cx="522.4" cy="838.0" r="6.5"/><circle cx="529.5" cy="762.0" r="6.5"/><circle cx="536.6" cy="749.0" r="6.5"/><circle cx="543.7" cy="781.0" r="6.5"/><circle cx="550.8" cy="783.0" r="6.5"/><circle cx="557.9" cy="804.0" r="6.5"/><circle cx="565.0" cy="811.0" r="6.5"/><circle cx="572.0" cy="818.0" r="6.5"/><circle cx="579.1" cy="822.0" r="6.5"/><circle cx="586.2" cy="831.0" r="6.5"/><circle cx="593.3" cy="845.0" r="6.5"/><circle cx="600.4" cy="850.0" r="6.5"/><circle cx="607.5" cy="797.0" r="6.5"/><circle cx="614.6" cy="779.0" r="6.5"/><circle cx="621.7" cy="794.0" r="6.5"/><circle cx="628.8" cy="837.0" r="6.5"/><circle cx="635.9" cy="830.0" r="6.5"/><circle cx="642.9" cy="815.0" r="6.5"/><circle cx="650.0" cy="798.0" r="6.5"/><circle cx="657.1" cy="796.0" r="6.5"/><circle cx="664.2" cy="815.0" r="6.5"/><circle cx="671.3" cy="834.0" r="6.5"/><circle cx="678.4" cy="835.0" r="6.5"/><circle cx="685.5" cy="814.0" r="6.5"/><circle cx="692.6" cy="825.0" r="6.5"/><circle cx="699.7" cy="816.0" r="6.5"/><circle cx="706.8" cy="798.0" r="6.5"/><circle cx="713.8" cy="790.0" r="6.5"/><circle cx="720.9" cy="774.0" r="6.5"/><circle cx="728.0" cy="797.0" r="6.5"/><circle cx="735.1" cy="819.0" r="6.5"/><circle cx="742.2" cy="818.0" r="6.5"/><circle cx="749.3" cy="835.0" r="6.5"/><circle cx="756.4" cy="825.0" r="6.5"/><circle cx="763.5" cy="810.0" r="6.5"/><circle cx="770.6" cy="830.0" r="6.5"/><circle cx="777.6" cy="848.0" r="6.5"/><circle cx="784.7" cy="845.0" r="6.5"/><circle cx="791.8" cy="853.0" r="6.5"/><circle cx="798.9" cy="860.0" r="6.5"/><circle cx="806.0" cy="860.0" r="6.5"/><circle cx="813.1" cy="853.0" r="6.5"/><circle cx="820.2" cy="838.0" r="6.5"/><circle cx="827.3" cy="830.0" r="6.5"/><circle cx="834.4" cy="828.0" r="6.5"/><circle cx="841.5" cy="828.0" r="6.5"/><circle cx="848.6" cy="853.0" r="6.5"/><circle cx="855.6" cy="853.0" r="6.5"/><circle cx="862.7" cy="861.0" r="6.5"/><circle cx="869.8" cy="828.0" r="6.5"/><circle cx="876.9" cy="790.0" r="6.5"/><circle cx="884.0" cy="812.0" r="6.5"/><circle cx="891.1" cy="853.0" r="6.5"/><circle cx="898.2" cy="848.0" r="6.5"/><circle cx="905.3" cy="849.0" r="6.5"/><circle cx="912.4" cy="867.0" r="6.5"/><circle cx="919.5" cy="872.0" r="6.5"/><circle cx="926.5" cy="867.0" r="6.5"/><circle cx="933.6" cy="866.0" r="6.5"/><circle cx="940.7" cy="864.0" r="6.5"/><circle cx="947.8" cy="848.0" r="6.5"/><circle cx="954.9" cy="812.0" r="6.5"/><circle cx="962.0" cy="808.0" r="6.5"/><circle cx="969.1" cy="815.0" r="6.5"/><circle cx="976.2" cy="822.0" r="6.5"/><circle cx="983.3" cy="830.0" r="6.5"/><circle cx="990.4" cy="838.0" r="6.5"/><circle cx="997.4" cy="846.0" r="6.5"/><circle cx="1004.5" cy="858.0" r="6.5"/><circle cx="1011.6" cy="855.0" r="6.5"/><circle cx="1018.7" cy="852.0" r="6.5"/><circle cx="1025.8" cy="856.0" r="6.5"/><circle cx="1032.9" cy="866.0" r="6.5"/><circle cx="1040.0" cy="870.0" r="6.5"/><circle cx="1047.1" cy="875.0" r="6.5"/><circle cx="1054.2" cy="872.0" r="6.5"/><circle cx="1061.2" cy="858.0" r="6.5"/><circle cx="1068.3" cy="853.0" r="6.5"/><circle cx="1075.4" cy="852.0" r="6.5"/><circle cx="1082.5" cy="850.0" r="6.5"/><circle cx="1089.6" cy="852.0" r="6.5"/><circle cx="1096.7" cy="853.0" r="6.5"/><circle cx="1103.8" cy="861.0" r="6.5"/><circle cx="1110.9" cy="870.0" r="6.5"/><circle cx="1118.0" cy="866.0" r="6.5"/><circle cx="1125.1" cy="870.0" r="6.5"/><circle cx="1132.2" cy="862.0" r="6.5"/><circle cx="1139.2" cy="855.0" r="6.5"/><circle cx="1146.3" cy="860.0" r="6.5"/><circle cx="1153.4" cy="864.0" r="6.5"/><circle cx="1160.5" cy="870.0" r="6.5"/><circle cx="1167.6" cy="873.0" r="6.5"/><circle cx="1174.7" cy="875.0" r="6.5"/><circle cx="1181.8" cy="866.0" r="6.5"/><circle cx="1188.9" cy="857.0" r="6.5"/><circle cx="1196.0" cy="860.0" r="6.5"/><circle cx="1203.0" cy="850.0" r="6.5"/><circle cx="1210.1" cy="835.0" r="6.5"/><circle cx="1217.2" cy="848.0" r="6.5"/><circle cx="1224.3" cy="855.0" r="6.5"/><circle cx="1231.4" cy="855.0" r="6.5"/><circle cx="1238.5" cy="858.0" r="6.5"/><circle cx="1245.6" cy="860.0" r="6.5"/><circle cx="1252.7" cy="870.0" r="6.5"/><circle cx="1259.8" cy="875.0" r="6.5"/><circle cx="1266.9" cy="872.0" r="6.5"/><circle cx="1274.0" cy="865.0" r="6.5"/><circle cx="1281.0" cy="865.0" r="6.5"/><circle cx="1288.1" cy="870.0" r="6.5"/><circle cx="1295.2" cy="866.0" r="6.5"/><circle cx="1302.3" cy="866.0" r="6.5"/><circle cx="1309.4" cy="862.0" r="6.5"/><circle cx="1316.5" cy="860.0" r="6.5"/><circle cx="1323.6" cy="827.0" r="6.5"/><circle cx="1330.7" cy="861.0" r="6.5"/><circle cx="1337.8" cy="827.0" r="6.5"/><circle cx="1344.9" cy="855.0" r="6.5"/><circle cx="1351.9" cy="867.0" r="6.5"/><circle cx="1359.0" cy="868.0" r="6.5"/><circle cx="1366.1" cy="862.0" r="6.5"/><circle cx="1373.2" cy="877.0" r="6.5"/><circle cx="1380.3" cy="870.0" r="6.5"/><circle cx="1387.4" cy="867.0" r="6.5"/><circle cx="1394.5" cy="877.0" r="6.5"/><circle cx="1401.6" cy="870.0" r="6.5"/><circle cx="1408.7" cy="862.0" r="6.5"/><circle cx="1415.8" cy="861.0" r="6.5"/><circle cx="1422.8" cy="858.0" r="6.5"/><circle cx="1429.9" cy="860.0" r="6.5"/><circle cx="1437.0" cy="864.0" r="6.5"/><circle cx="1444.1" cy="866.0" r="6.5"/><circle cx="1451.2" cy="862.0" r="6.5"/><circle cx="1458.3" cy="868.0" r="6.5"/><circle cx="1465.4" cy="870.0" r="6.5"/><circle cx="1472.5" cy="872.0" r="6.5"/><circle cx="1479.6" cy="870.0" r="6.5"/><circle cx="1486.7" cy="871.0" r="6.5"/><circle cx="1493.7" cy="871.0" r="6.5"/><circle cx="1500.8" cy="866.0" r="6.5"/><circle cx="1507.9" cy="860.0" r="6.5"/><circle cx="1515.0" cy="849.0" r="6.5"/><circle cx="1522.1" cy="855.0" r="6.5"/><circle cx="1529.2" cy="838.0" r="6.5"/><circle cx="1536.3" cy="843.0" r="6.5"/><circle cx="1543.4" cy="860.0" r="6.5"/><circle cx="1550.5" cy="870.0" r="6.5"/><circle cx="1557.5" cy="877.0" r="6.5"/><circle cx="1564.6" cy="877.0" r="6.5"/><circle cx="1571.7" cy="846.0" r="6.5"/><circle cx="1578.8" cy="875.0" r="6.5"/><circle cx="1585.9" cy="877.0" r="6.5"/></g>
<path d="M175.0 875.0 L182.1 868.0 L189.2 862.0 L196.3 831.0 L203.4 860.0 L210.4 857.0 L217.5 840.0 L224.6 799.0 L231.7 836.0 L238.8 822.0 L245.9 799.0 L253.0 804.0 L260.1 817.0 L267.2 823.0 L274.3 819.0 L281.4 797.0 L288.4 813.0 L295.5 851.0 L302.6 834.0 L309.7 840.0 L316.8 762.0 L323.9 815.0 L331.0 818.0 L338.1 811.0 L345.2 839.0 L352.2 840.0 L359.3 786.0 L366.4 764.0 L373.5 756.0 L380.6 800.0 L387.7 844.0 L394.8 826.0 L401.9 824.0 L409.0 827.0 L416.1 858.0 L423.2 841.0 L430.2 845.0 L437.3 865.0 L444.4 864.0 L451.5 850.0 L458.6 845.0 L465.7 848.0 L472.8 850.0 L479.9 861.0 L487.0 864.0 L494.1 862.0 L501.1 853.0 L508.2 831.0 L515.3 809.0 L522.4 848.0 L529.5 826.0 L536.6 848.0 L543.7 853.0 L550.8 865.0 L557.9 861.0 L565.0 864.0 L572.0 816.0 L579.1 831.0 L586.2 865.0 L593.3 838.0 L600.4 804.0 L607.5 852.0 L614.6 850.0 L621.7 818.0 L628.8 808.0 L635.9 779.0 L642.9 805.0 L650.0 818.0 L657.1 831.0 L664.2 818.0 L671.3 812.0 L678.4 788.0 L685.5 797.0 L692.6 841.0 L699.7 797.0 L706.8 804.0 L713.8 833.0 L720.9 850.0 L728.0 828.0 L735.1 796.0 L742.2 834.0 L749.3 831.0 L756.4 826.0 L763.5 853.0 L770.6 861.0 L777.6 859.0 L784.7 840.0 L791.8 864.0 L798.9 859.0 L806.0 840.0 L813.1 842.0 L820.2 818.0 L827.3 823.0 L834.4 840.0 L841.5 818.0 L848.6 793.0 L855.6 804.0 L862.7 826.0 L869.8 807.0 L876.9 775.0 L884.0 822.0 L891.1 837.0 L898.2 844.0 L905.3 814.0 L912.4 792.0 L919.5 811.0 L926.5 812.0 L933.6 820.0 L940.7 840.0 L947.8 822.0 L954.9 833.0 L962.0 818.0 L969.1 811.0 L976.2 783.0 L983.3 777.0 L990.4 771.0 L997.4 735.0 L1004.5 747.0 L1011.6 749.0 L1018.7 775.0 L1025.8 783.0 L1032.9 782.0 L1040.0 753.0 L1047.1 781.0 L1054.2 809.0 L1061.2 808.0 L1068.3 790.0 L1075.4 818.0 L1082.5 793.0 L1089.6 824.0 L1096.7 796.0 L1103.8 803.0 L1110.9 725.0 L1118.0 741.0 L1125.1 744.0 L1132.2 740.0 L1139.2 797.0 L1146.3 803.0 L1153.4 800.0 L1160.5 804.0 L1167.6 805.0 L1174.7 779.0 L1181.8 804.0 L1188.9 760.0 L1196.0 777.0 L1203.0 815.0 L1210.1 777.0 L1217.2 809.0 L1224.3 793.0 L1231.4 823.0 L1238.5 804.0 L1245.6 799.0 L1252.7 779.0 L1259.8 803.0 L1266.9 818.0 L1274.0 794.0 L1281.0 827.0 L1288.1 834.0 L1295.2 820.0 L1302.3 792.0 L1309.4 814.0 L1316.5 794.0 L1323.6 801.0 L1330.7 727.0 L1337.8 790.0 L1344.9 824.0 L1351.9 822.0 L1359.0 819.0 L1366.1 819.0 L1373.2 809.0 L1380.3 809.0 L1387.4 788.0 L1394.5 809.0 L1401.6 827.0 L1408.7 844.0 L1415.8 849.0 L1422.8 842.0 L1429.9 755.0 L1437.0 758.0 L1444.1 820.0 L1451.2 793.0 L1458.3 779.0 L1465.4 806.0 L1472.5 821.0 L1479.6 806.0 L1486.7 825.0 L1493.7 834.0 L1500.8 827.0 L1507.9 803.0 L1515.0 809.0 L1522.1 796.0 L1529.2 762.0 L1536.3 800.0 L1543.4 754.0 L1550.5 768.0 L1557.5 754.0 L1564.6 824.0 L1571.7 775.0 L1578.8 647.0 L1585.9 722.0" fill="none" stroke="#D55355" stroke-width="3.8" stroke-linejoin="round" clip-path="url(#clipa)"/>
<path d="M175.0 868.0v14.0M182.1 861.0v14.0M189.2 855.0v14.0M196.3 824.0v14.0M203.4 853.0v14.0M210.4 850.0v14.0M217.5 833.0v14.0M224.6 792.0v14.0M231.7 829.0v14.0M238.8 815.0v14.0M245.9 792.0v14.0M253.0 797.0v14.0M260.1 810.0v14.0M267.2 816.0v14.0M274.3 812.0v14.0M281.4 790.0v14.0M288.4 806.0v14.0M295.5 844.0v14.0M302.6 827.0v14.0M309.7 833.0v14.0M316.8 755.0v14.0M323.9 808.0v14.0M331.0 811.0v14.0M338.1 804.0v14.0M345.2 832.0v14.0M352.2 833.0v14.0M359.3 779.0v14.0M366.4 757.0v14.0M373.5 749.0v14.0M380.6 793.0v14.0M387.7 837.0v14.0M394.8 819.0v14.0M401.9 817.0v14.0M409.0 820.0v14.0M416.1 851.0v14.0M423.2 834.0v14.0M430.2 838.0v14.0M437.3 858.0v14.0M444.4 857.0v14.0M451.5 843.0v14.0M458.6 838.0v14.0M465.7 841.0v14.0M472.8 843.0v14.0M479.9 854.0v14.0M487.0 857.0v14.0M494.1 855.0v14.0M501.1 846.0v14.0M508.2 824.0v14.0M515.3 802.0v14.0M522.4 841.0v14.0M529.5 819.0v14.0M536.6 841.0v14.0M543.7 846.0v14.0M550.8 858.0v14.0M557.9 854.0v14.0M565.0 857.0v14.0M572.0 809.0v14.0M579.1 824.0v14.0M586.2 858.0v14.0M593.3 831.0v14.0M600.4 797.0v14.0M607.5 845.0v14.0M614.6 843.0v14.0M621.7 811.0v14.0M628.8 801.0v14.0M635.9 772.0v14.0M642.9 798.0v14.0M650.0 811.0v14.0M657.1 824.0v14.0M664.2 811.0v14.0M671.3 805.0v14.0M678.4 781.0v14.0M685.5 790.0v14.0M692.6 834.0v14.0M699.7 790.0v14.0M706.8 797.0v14.0M713.8 826.0v14.0M720.9 843.0v14.0M728.0 821.0v14.0M735.1 789.0v14.0M742.2 827.0v14.0M749.3 824.0v14.0M756.4 819.0v14.0M763.5 846.0v14.0M770.6 854.0v14.0M777.6 852.0v14.0M784.7 833.0v14.0M791.8 857.0v14.0M798.9 852.0v14.0M806.0 833.0v14.0M813.1 835.0v14.0M820.2 811.0v14.0M827.3 816.0v14.0M834.4 833.0v14.0M841.5 811.0v14.0M848.6 786.0v14.0M855.6 797.0v14.0M862.7 819.0v14.0M869.8 800.0v14.0M876.9 768.0v14.0M884.0 815.0v14.0M891.1 830.0v14.0M898.2 837.0v14.0M905.3 807.0v14.0M912.4 785.0v14.0M919.5 804.0v14.0M926.5 805.0v14.0M933.6 813.0v14.0M940.7 833.0v14.0M947.8 815.0v14.0M954.9 826.0v14.0M962.0 811.0v14.0M969.1 804.0v14.0M976.2 776.0v14.0M983.3 770.0v14.0M990.4 764.0v14.0M997.4 728.0v14.0M1004.5 740.0v14.0M1011.6 742.0v14.0M1018.7 768.0v14.0M1025.8 776.0v14.0M1032.9 775.0v14.0M1040.0 746.0v14.0M1047.1 774.0v14.0M1054.2 802.0v14.0M1061.2 801.0v14.0M1068.3 783.0v14.0M1075.4 811.0v14.0M1082.5 786.0v14.0M1089.6 817.0v14.0M1096.7 789.0v14.0M1103.8 796.0v14.0M1110.9 718.0v14.0M1118.0 734.0v14.0M1125.1 737.0v14.0M1132.2 733.0v14.0M1139.2 790.0v14.0M1146.3 796.0v14.0M1153.4 793.0v14.0M1160.5 797.0v14.0M1167.6 798.0v14.0M1174.7 772.0v14.0M1181.8 797.0v14.0M1188.9 753.0v14.0M1196.0 770.0v14.0M1203.0 808.0v14.0M1210.1 770.0v14.0M1217.2 802.0v14.0M1224.3 786.0v14.0M1231.4 816.0v14.0M1238.5 797.0v14.0M1245.6 792.0v14.0M1252.7 772.0v14.0M1259.8 796.0v14.0M1266.9 811.0v14.0M1274.0 787.0v14.0M1281.0 820.0v14.0M1288.1 827.0v14.0M1295.2 813.0v14.0M1302.3 785.0v14.0M1309.4 807.0v14.0M1316.5 787.0v14.0M1323.6 794.0v14.0M1330.7 720.0v14.0M1337.8 783.0v14.0M1344.9 817.0v14.0M1351.9 815.0v14.0M1359.0 812.0v14.0M1366.1 812.0v14.0M1373.2 802.0v14.0M1380.3 802.0v14.0M1387.4 781.0v14.0M1394.5 802.0v14.0M1401.6 820.0v14.0M1408.7 837.0v14.0M1415.8 842.0v14.0M1422.8 835.0v14.0M1429.9 748.0v14.0M1437.0 751.0v14.0M1444.1 813.0v14.0M1451.2 786.0v14.0M1458.3 772.0v14.0M1465.4 799.0v14.0M1472.5 814.0v14.0M1479.6 799.0v14.0M1486.7 818.0v14.0M1493.7 827.0v14.0M1500.8 820.0v14.0M1507.9 796.0v14.0M1515.0 802.0v14.0M1522.1 789.0v14.0M1529.2 755.0v14.0M1536.3 793.0v14.0M1543.4 747.0v14.0M1550.5 761.0v14.0M1557.5 747.0v14.0M1564.6 817.0v14.0M1571.7 768.0v14.0M1578.8 640.0v14.0M1585.9 715.0v14.0" stroke="#D55355" stroke-width="1.8" fill="none"/>
<g fill="#D55355"><circle cx="175.0" cy="875.0" r="6.5"/><circle cx="182.1" cy="868.0" r="6.5"/><circle cx="189.2" cy="862.0" r="6.5"/><circle cx="196.3" cy="831.0" r="6.5"/><circle cx="203.4" cy="860.0" r="6.5"/><circle cx="210.4" cy="857.0" r="6.5"/><circle cx="217.5" cy="840.0" r="6.5"/><circle cx="224.6" cy="799.0" r="6.5"/><circle cx="231.7" cy="836.0" r="6.5"/><circle cx="238.8" cy="822.0" r="6.5"/><circle cx="245.9" cy="799.0" r="6.5"/><circle cx="253.0" cy="804.0" r="6.5"/><circle cx="260.1" cy="817.0" r="6.5"/><circle cx="267.2" cy="823.0" r="6.5"/><circle cx="274.3" cy="819.0" r="6.5"/><circle cx="281.4" cy="797.0" r="6.5"/><circle cx="288.4" cy="813.0" r="6.5"/><circle cx="295.5" cy="851.0" r="6.5"/><circle cx="302.6" cy="834.0" r="6.5"/><circle cx="309.7" cy="840.0" r="6.5"/><circle cx="316.8" cy="762.0" r="6.5"/><circle cx="323.9" cy="815.0" r="6.5"/><circle cx="331.0" cy="818.0" r="6.5"/><circle cx="338.1" cy="811.0" r="6.5"/><circle cx="345.2" cy="839.0" r="6.5"/><circle cx="352.2" cy="840.0" r="6.5"/><circle cx="359.3" cy="786.0" r="6.5"/><circle cx="366.4" cy="764.0" r="6.5"/><circle cx="373.5" cy="756.0" r="6.5"/><circle cx="380.6" cy="800.0" r="6.5"/><circle cx="387.7" cy="844.0" r="6.5"/><circle cx="394.8" cy="826.0" r="6.5"/><circle cx="401.9" cy="824.0" r="6.5"/><circle cx="409.0" cy="827.0" r="6.5"/><circle cx="416.1" cy="858.0" r="6.5"/><circle cx="423.2" cy="841.0" r="6.5"/><circle cx="430.2" cy="845.0" r="6.5"/><circle cx="437.3" cy="865.0" r="6.5"/><circle cx="444.4" cy="864.0" r="6.5"/><circle cx="451.5" cy="850.0" r="6.5"/><circle cx="458.6" cy="845.0" r="6.5"/><circle cx="465.7" cy="848.0" r="6.5"/><circle cx="472.8" cy="850.0" r="6.5"/><circle cx="479.9" cy="861.0" r="6.5"/><circle cx="487.0" cy="864.0" r="6.5"/><circle cx="494.1" cy="862.0" r="6.5"/><circle cx="501.1" cy="853.0" r="6.5"/><circle cx="508.2" cy="831.0" r="6.5"/><circle cx="515.3" cy="809.0" r="6.5"/><circle cx="522.4" cy="848.0" r="6.5"/><circle cx="529.5" cy="826.0" r="6.5"/><circle cx="536.6" cy="848.0" r="6.5"/><circle cx="543.7" cy="853.0" r="6.5"/><circle cx="550.8" cy="865.0" r="6.5"/><circle cx="557.9" cy="861.0" r="6.5"/><circle cx="565.0" cy="864.0" r="6.5"/><circle cx="572.0" cy="816.0" r="6.5"/><circle cx="579.1" cy="831.0" r="6.5"/><circle cx="586.2" cy="865.0" r="6.5"/><circle cx="593.3" cy="838.0" r="6.5"/><circle cx="600.4" cy="804.0" r="6.5"/><circle cx="607.5" cy="852.0" r="6.5"/><circle cx="614.6" cy="850.0" r="6.5"/><circle cx="621.7" cy="818.0" r="6.5"/><circle cx="628.8" cy="808.0" r="6.5"/><circle cx="635.9" cy="779.0" r="6.5"/><circle cx="642.9" cy="805.0" r="6.5"/><circle cx="650.0" cy="818.0" r="6.5"/><circle cx="657.1" cy="831.0" r="6.5"/><circle cx="664.2" cy="818.0" r="6.5"/><circle cx="671.3" cy="812.0" r="6.5"/><circle cx="678.4" cy="788.0" r="6.5"/><circle cx="685.5" cy="797.0" r="6.5"/><circle cx="692.6" cy="841.0" r="6.5"/><circle cx="699.7" cy="797.0" r="6.5"/><circle cx="706.8" cy="804.0" r="6.5"/><circle cx="713.8" cy="833.0" r="6.5"/><circle cx="720.9" cy="850.0" r="6.5"/><circle cx="728.0" cy="828.0" r="6.5"/><circle cx="735.1" cy="796.0" r="6.5"/><circle cx="742.2" cy="834.0" r="6.5"/><circle cx="749.3" cy="831.0" r="6.5"/><circle cx="756.4" cy="826.0" r="6.5"/><circle cx="763.5" cy="853.0" r="6.5"/><circle cx="770.6" cy="861.0" r="6.5"/><circle cx="777.6" cy="859.0" r="6.5"/><circle cx="784.7" cy="840.0" r="6.5"/><circle cx="791.8" cy="864.0" r="6.5"/><circle cx="798.9" cy="859.0" r="6.5"/><circle cx="806.0" cy="840.0" r="6.5"/><circle cx="813.1" cy="842.0" r="6.5"/><circle cx="820.2" cy="818.0" r="6.5"/><circle cx="827.3" cy="823.0" r="6.5"/><circle cx="834.4" cy="840.0" r="6.5"/><circle cx="841.5" cy="818.0" r="6.5"/><circle cx="848.6" cy="793.0" r="6.5"/><circle cx="855.6" cy="804.0" r="6.5"/><circle cx="862.7" cy="826.0" r="6.5"/><circle cx="869.8" cy="807.0" r="6.5"/><circle cx="876.9" cy="775.0" r="6.5"/><circle cx="884.0" cy="822.0" r="6.5"/><circle cx="891.1" cy="837.0" r="6.5"/><circle cx="898.2" cy="844.0" r="6.5"/><circle cx="905.3" cy="814.0" r="6.5"/><circle cx="912.4" cy="792.0" r="6.5"/><circle cx="919.5" cy="811.0" r="6.5"/><circle cx="926.5" cy="812.0" r="6.5"/><circle cx="933.6" cy="820.0" r="6.5"/><circle cx="940.7" cy="840.0" r="6.5"/><circle cx="947.8" cy="822.0" r="6.5"/><circle cx="954.9" cy="833.0" r="6.5"/><circle cx="962.0" cy="818.0" r="6.5"/><circle cx="969.1" cy="811.0" r="6.5"/><circle cx="976.2" cy="783.0" r="6.5"/><circle cx="983.3" cy="777.0" r="6.5"/><circle cx="990.4" cy="771.0" r="6.5"/><circle cx="997.4" cy="735.0" r="6.5"/><circle cx="1004.5" cy="747.0" r="6.5"/><circle cx="1011.6" cy="749.0" r="6.5"/><circle cx="1018.7" cy="775.0" r="6.5"/><circle cx="1025.8" cy="783.0" r="6.5"/><circle cx="1032.9" cy="782.0" r="6.5"/><circle cx="1040.0" cy="753.0" r="6.5"/><circle cx="1047.1" cy="781.0" r="6.5"/><circle cx="1054.2" cy="809.0" r="6.5"/><circle cx="1061.2" cy="808.0" r="6.5"/><circle cx="1068.3" cy="790.0" r="6.5"/><circle cx="1075.4" cy="818.0" r="6.5"/><circle cx="1082.5" cy="793.0" r="6.5"/><circle cx="1089.6" cy="824.0" r="6.5"/><circle cx="1096.7" cy="796.0" r="6.5"/><circle cx="1103.8" cy="803.0" r="6.5"/><circle cx="1110.9" cy="725.0" r="6.5"/><circle cx="1118.0" cy="741.0" r="6.5"/><circle cx="1125.1" cy="744.0" r="6.5"/><circle cx="1132.2" cy="740.0" r="6.5"/><circle cx="1139.2" cy="797.0" r="6.5"/><circle cx="1146.3" cy="803.0" r="6.5"/><circle cx="1153.4" cy="800.0" r="6.5"/><circle cx="1160.5" cy="804.0" r="6.5"/><circle cx="1167.6" cy="805.0" r="6.5"/><circle cx="1174.7" cy="779.0" r="6.5"/><circle cx="1181.8" cy="804.0" r="6.5"/><circle cx="1188.9" cy="760.0" r="6.5"/><circle cx="1196.0" cy="777.0" r="6.5"/><circle cx="1203.0" cy="815.0" r="6.5"/><circle cx="1210.1" cy="777.0" r="6.5"/><circle cx="1217.2" cy="809.0" r="6.5"/><circle cx="1224.3" cy="793.0" r="6.5"/><circle cx="1231.4" cy="823.0" r="6.5"/><circle cx="1238.5" cy="804.0" r="6.5"/><circle cx="1245.6" cy="799.0" r="6.5"/><circle cx="1252.7" cy="779.0" r="6.5"/><circle cx="1259.8" cy="803.0" r="6.5"/><circle cx="1266.9" cy="818.0" r="6.5"/><circle cx="1274.0" cy="794.0" r="6.5"/><circle cx="1281.0" cy="827.0" r="6.5"/><circle cx="1288.1" cy="834.0" r="6.5"/><circle cx="1295.2" cy="820.0" r="6.5"/><circle cx="1302.3" cy="792.0" r="6.5"/><circle cx="1309.4" cy="814.0" r="6.5"/><circle cx="1316.5" cy="794.0" r="6.5"/><circle cx="1323.6" cy="801.0" r="6.5"/><circle cx="1330.7" cy="727.0" r="6.5"/><circle cx="1337.8" cy="790.0" r="6.5"/><circle cx="1344.9" cy="824.0" r="6.5"/><circle cx="1351.9" cy="822.0" r="6.5"/><circle cx="1359.0" cy="819.0" r="6.5"/><circle cx="1366.1" cy="819.0" r="6.5"/><circle cx="1373.2" cy="809.0" r="6.5"/><circle cx="1380.3" cy="809.0" r="6.5"/><circle cx="1387.4" cy="788.0" r="6.5"/><circle cx="1394.5" cy="809.0" r="6.5"/><circle cx="1401.6" cy="827.0" r="6.5"/><circle cx="1408.7" cy="844.0" r="6.5"/><circle cx="1415.8" cy="849.0" r="6.5"/><circle cx="1422.8" cy="842.0" r="6.5"/><circle cx="1429.9" cy="755.0" r="6.5"/><circle cx="1437.0" cy="758.0" r="6.5"/><circle cx="1444.1" cy="820.0" r="6.5"/><circle cx="1451.2" cy="793.0" r="6.5"/><circle cx="1458.3" cy="779.0" r="6.5"/><circle cx="1465.4" cy="806.0" r="6.5"/><circle cx="1472.5" cy="821.0" r="6.5"/><circle cx="1479.6" cy="806.0" r="6.5"/><circle cx="1486.7" cy="825.0" r="6.5"/><circle cx="1493.7" cy="834.0" r="6.5"/><circle cx="1500.8" cy="827.0" r="6.5"/><circle cx="1507.9" cy="803.0" r="6.5"/><circle cx="1515.0" cy="809.0" r="6.5"/><circle cx="1522.1" cy="796.0" r="6.5"/><circle cx="1529.2" cy="762.0" r="6.5"/><circle cx="1536.3" cy="800.0" r="6.5"/><circle cx="1543.4" cy="754.0" r="6.5"/><circle cx="1550.5" cy="768.0" r="6.5"/><circle cx="1557.5" cy="754.0" r="6.5"/><circle cx="1564.6" cy="824.0" r="6.5"/><circle cx="1571.7" cy="775.0" r="6.5"/><circle cx="1578.8" cy="647.0" r="6.5"/><circle cx="1585.9" cy="722.0" r="6.5"/></g>
<g clip-path="url(#clipb)" fill="none" stroke-width="13" stroke-linejoin="round">
<path d="M175.0 897.0 L178.5 933.9 L182.1 968.9 L185.6 1002.0 L189.1 1033.3 L192.6 1062.9 L196.2 1090.9 L199.7 1117.4 L203.2 1142.5 L206.7 1166.3 L210.3 1188.7 L213.8 1210.0 L217.3 1230.1 L220.9 1249.1 L224.4 1267.1 L227.9 1284.2 L231.4 1300.3 L235.0 1315.6 L238.5 1330.0 L242.0 1343.7 L245.5 1356.6 L249.1 1368.8 L252.6 1380.4 L256.1 1391.3 L259.7 1401.7 L263.2 1411.5 L266.7 1420.8 L270.2 1429.6 L273.8 1437.9 L277.3 1445.7 L280.8 1453.2 L284.3 1460.2 L287.9 1466.9 L291.4 1473.2 L294.9 1479.1 L298.5 1484.8 L302.0 1490.1 L305.5 1495.1 L309.0 1499.9 L312.6 1504.4 L316.1 1508.7 L319.6 1512.8 L323.1 1516.6 L326.7 1520.2 L330.2 1523.7 L333.7 1526.9 L337.3 1530.0 L340.8 1532.9 L344.3 1535.6 L347.8 1538.2 L351.4 1540.7 L354.9 1543.0 L358.4 1545.2 L361.9 1547.3 L365.5 1549.3 L369.0 1551.1 L372.5 1552.9 L376.1 1554.6 L379.6 1556.2 L383.1 1557.7 L386.6 1559.1 L390.2 1560.4 L393.7 1561.7 L397.2 1562.9 L400.7 1564.0 L404.3 1565.1 L407.8 1566.1 L411.3 1567.1 L414.9 1568.0 L418.4 1568.8 L421.9 1569.7 L425.4 1570.4 L429.0 1571.2 L432.5 1571.9 L436.0 1572.5 L439.5 1573.1 L443.1 1573.7 L446.6 1574.3 L450.1 1574.8 L453.7 1575.3 L457.2 1575.8 L460.7 1576.2 L464.2 1576.6 L467.8 1577.0 L471.3 1577.4 L474.8 1577.7 L478.3 1578.1 L481.9 1578.4 L485.4 1578.7 L488.9 1579.0 L492.5 1579.3 L496.0 1579.5 L499.5 1579.8 L503.0 1580.0 L506.6 1580.2 L510.1 1580.4 L513.6 1580.6 L517.1 1580.8 L520.7 1581.0 L524.2 1581.1 L527.7 1581.3 L531.3 1581.4 L534.8 1581.6 L538.3 1581.7 L541.8 1581.8 L545.4 1581.9 L548.9 1582.0 L552.4 1582.1 L555.9 1582.2 L559.5 1582.3 L563.0 1582.4 L566.5 1582.5 L570.1 1582.6 L573.6 1582.7 L577.1 1582.7 L580.6 1582.8 L584.2 1582.9 L587.7 1582.9 L591.2 1583.0 L594.7 1583.0 L598.3 1583.1 L601.8 1583.1 L605.3 1583.2 L608.9 1583.2 L612.4 1583.3 L615.9 1583.3 L619.4 1583.4 L623.0 1583.4 L626.5 1583.4 L630.0 1583.5 L633.5 1583.5 L637.1 1583.5 L640.6 1583.5 L644.1 1583.6 L647.7 1583.6 L651.2 1583.6 L654.7 1583.6 L658.2 1583.6 L661.8 1583.7 L665.3 1583.7 L668.8 1583.7 L672.3 1583.7 L675.9 1583.7 L679.4 1583.7 L682.9 1583.8 L686.5 1583.8 L690.0 1583.8 L693.5 1583.8 L697.0 1583.8 L700.6 1583.8 L704.1 1583.8 L707.6 1583.8 L711.1 1583.8 L714.7 1583.9 L718.2 1583.9 L721.7 1583.9 L725.3 1583.9 L728.8 1583.9 L732.3 1583.9 L735.8 1583.9 L739.4 1583.9 L742.9 1583.9 L746.4 1583.9 L749.9 1583.9 L753.5 1583.9 L757.0 1583.9 L760.5 1583.9 L764.1 1583.9 L767.6 1583.9 L771.1 1583.9 L774.6 1583.9 L778.2 1583.9 L781.7 1583.9 L785.2 1584.0 L788.7 1584.0 L792.3 1584.0 L795.8 1584.0 L799.3 1584.0 L802.9 1584.0 L806.4 1584.0 L809.9 1584.0 L813.4 1584.0 L817.0 1584.0 L820.5 1584.0 L824.0 1584.0 L827.5 1584.0 L831.1 1584.0 L834.6 1584.0 L838.1 1584.0 L841.7 1584.0 L845.2 1584.0 L848.7 1584.0 L852.2 1584.0 L855.8 1584.0 L859.3 1584.0 L862.8 1584.0 L866.3 1584.0 L869.9 1584.0 L873.4 1584.0 L876.9 1584.0 L880.5 1584.0 L884.0 1584.0 L887.5 1584.0 L891.0 1584.0 L894.6 1584.0 L898.1 1584.0 L901.6 1584.0 L905.1 1584.0 L908.7 1584.0 L912.2 1584.0 L915.7 1584.0 L919.3 1584.0 L922.8 1584.0 L926.3 1584.0 L929.8 1584.0 L933.4 1584.0 L936.9 1584.0 L940.4 1584.0 L943.9 1584.0 L947.5 1584.0 L951.0 1584.0 L954.5 1584.0 L958.1 1584.0 L961.6 1584.0 L965.1 1584.0 L968.6 1584.0 L972.2 1584.0 L975.7 1584.0 L979.2 1584.0 L982.7 1584.0 L986.3 1584.0 L989.8 1584.0 L993.3 1584.0 L996.9 1584.0 L1000.4 1584.0 L1003.9 1584.0 L1007.4 1584.0 L1011.0 1584.0 L1014.5 1584.0 L1018.0 1584.0 L1021.5 1584.0 L1025.1 1584.0 L1028.6 1584.0 L1032.1 1584.0 L1035.7 1584.0 L1039.2 1584.0 L1042.7 1584.0 L1046.2 1584.0 L1049.8 1584.0 L1053.3 1584.0 L1056.8 1584.0 L1060.3 1584.0 L1063.9 1584.0 L1067.4 1584.0 L1070.9 1584.0 L1074.5 1584.0 L1078.0 1584.0 L1081.5 1584.0 L1085.0 1584.0 L1088.6 1584.0 L1092.1 1584.0 L1095.6 1584.0 L1099.1 1584.0 L1102.7 1584.0 L1106.2 1584.0 L1109.7 1584.0 L1113.3 1584.0 L1116.8 1584.0 L1120.3 1584.0 L1123.8 1584.0 L1127.4 1584.0 L1130.9 1584.0 L1134.4 1584.0 L1137.9 1584.0 L1141.5 1584.0 L1145.0 1584.0 L1148.5 1584.0 L1152.1 1584.0 L1155.6 1584.0 L1159.1 1584.0 L1162.6 1584.0 L1166.2 1584.0 L1169.7 1584.0 L1173.2 1584.0 L1176.7 1584.0 L1180.3 1584.0 L1183.8 1584.0 L1187.3 1584.0 L1190.9 1584.0 L1194.4 1584.0 L1197.9 1584.0 L1201.4 1584.0 L1205.0 1584.0 L1208.5 1584.0 L1212.0 1584.0 L1215.5 1584.0 L1219.1 1584.0 L1222.6 1584.0 L1226.1 1584.0 L1229.7 1584.0 L1233.2 1584.0 L1236.7 1584.0 L1240.2 1584.0 L1243.8 1584.0 L1247.3 1584.0 L1250.8 1584.0 L1254.3 1584.0 L1257.9 1584.0 L1261.4 1584.0 L1264.9 1584.0 L1268.5 1584.0 L1272.0 1584.0 L1275.5 1584.0 L1279.0 1584.0 L1282.6 1584.0 L1286.1 1584.0 L1289.6 1584.0 L1293.1 1584.0 L1296.7 1584.0 L1300.2 1584.0 L1303.7 1584.0 L1307.3 1584.0 L1310.8 1584.0 L1314.3 1584.0 L1317.8 1584.0 L1321.4 1584.0 L1324.9 1584.0 L1328.4 1584.0 L1331.9 1584.0 L1335.5 1584.0 L1339.0 1584.0 L1342.5 1584.0 L1346.1 1584.0 L1349.6 1584.0 L1353.1 1584.0 L1356.6 1584.0 L1360.2 1584.0 L1363.7 1584.0 L1367.2 1584.0 L1370.7 1584.0 L1374.3 1584.0 L1377.8 1584.0 L1381.3 1584.0 L1384.9 1584.0 L1388.4 1584.0 L1391.9 1584.0 L1395.4 1584.0 L1399.0 1584.0 L1402.5 1584.0 L1406.0 1584.0 L1409.5 1584.0 L1413.1 1584.0 L1416.6 1584.0 L1420.1 1584.0 L1423.7 1584.0 L1427.2 1584.0 L1430.7 1584.0 L1434.2 1584.0 L1437.8 1584.0 L1441.3 1584.0 L1444.8 1584.0 L1448.3 1584.0 L1451.9 1584.0 L1455.4 1584.0 L1458.9 1584.0 L1462.5 1584.0 L1466.0 1584.0 L1469.5 1584.0 L1473.0 1584.0 L1476.6 1584.0 L1480.1 1584.0 L1483.6 1584.0 L1487.1 1584.0 L1490.7 1584.0 L1494.2 1584.0 L1497.7 1584.0 L1501.3 1584.0 L1504.8 1584.0 L1508.3 1584.0 L1511.8 1584.0 L1515.4 1584.0 L1518.9 1584.0 L1522.4 1584.0 L1525.9 1584.0 L1529.5 1584.0 L1533.0 1584.0 L1536.5 1584.0 L1540.1 1584.0 L1543.6 1584.0 L1547.1 1584.0 L1550.6 1584.0 L1554.2 1584.0 L1557.7 1584.0 L1561.2 1584.0 L1564.7 1584.0 L1568.3 1584.0 L1571.8 1584.0 L1575.3 1584.0 L1578.9 1584.0 L1582.4 1584.0 L1585.9 1584.0" stroke="#4DBEFF"/>
<path d="M175.0 1584.0 L178.5 1578.0 L182.1 1572.3 L185.6 1567.0 L189.1 1562.0 L192.6 1557.2 L196.2 1552.8 L199.7 1548.6 L203.2 1544.7 L206.7 1541.0 L210.3 1537.5 L213.8 1534.3 L217.3 1531.2 L220.9 1528.4 L224.4 1525.7 L227.9 1523.2 L231.4 1520.8 L235.0 1518.6 L238.5 1516.6 L242.0 1514.7 L245.5 1512.9 L249.1 1511.2 L252.6 1509.6 L256.1 1508.2 L259.7 1506.8 L263.2 1505.6 L266.7 1504.4 L270.2 1503.4 L273.8 1502.4 L277.3 1501.5 L280.8 1500.6 L284.3 1499.8 L287.9 1499.1 L291.4 1498.5 L294.9 1497.9 L298.5 1497.4 L302.0 1496.9 L305.5 1496.5 L309.0 1496.1 L312.6 1495.7 L316.1 1495.4 L319.6 1495.2 L323.1 1494.9 L326.7 1494.7 L330.2 1494.6 L333.7 1494.5 L337.3 1494.4 L340.8 1494.3 L344.3 1494.2 L347.8 1494.2 L351.4 1494.2 L354.9 1494.2 L358.4 1494.3 L361.9 1494.4 L365.5 1494.4 L369.0 1494.5 L372.5 1494.6 L376.1 1494.8 L379.6 1494.9 L383.1 1495.1 L386.6 1495.2 L390.2 1495.4 L393.7 1495.6 L397.2 1495.8 L400.7 1496.0 L404.3 1496.2 L407.8 1496.5 L411.3 1496.7 L414.9 1496.9 L418.4 1497.2 L421.9 1497.4 L425.4 1497.7 L429.0 1498.0 L432.5 1498.3 L436.0 1498.5 L439.5 1498.8 L443.1 1499.1 L446.6 1499.4 L450.1 1499.7 L453.7 1500.0 L457.2 1500.3 L460.7 1500.6 L464.2 1500.9 L467.8 1501.2 L471.3 1501.5 L474.8 1501.8 L478.3 1502.1 L481.9 1502.4 L485.4 1502.8 L488.9 1503.1 L492.5 1503.4 L496.0 1503.7 L499.5 1504.0 L503.0 1504.4 L506.6 1504.7 L510.1 1505.0 L513.6 1505.3 L517.1 1505.6 L520.7 1506.0 L524.2 1506.3 L527.7 1506.6 L531.3 1506.9 L534.8 1507.3 L538.3 1507.6 L541.8 1507.9 L545.4 1508.2 L548.9 1508.5 L552.4 1508.9 L555.9 1509.2 L559.5 1509.5 L563.0 1509.8 L566.5 1510.1 L570.1 1510.5 L573.6 1510.8 L577.1 1511.1 L580.6 1511.4 L584.2 1511.7 L587.7 1512.0 L591.2 1512.4 L594.7 1512.7 L598.3 1513.0 L601.8 1513.3 L605.3 1513.6 L608.9 1513.9 L612.4 1514.2 L615.9 1514.5 L619.4 1514.8 L623.0 1515.1 L626.5 1515.4 L630.0 1515.7 L633.5 1516.0 L637.1 1516.3 L640.6 1516.6 L644.1 1516.9 L647.7 1517.2 L651.2 1517.5 L654.7 1517.8 L658.2 1518.1 L661.8 1518.4 L665.3 1518.7 L668.8 1519.0 L672.3 1519.3 L675.9 1519.6 L679.4 1519.8 L682.9 1520.1 L686.5 1520.4 L690.0 1520.7 L693.5 1521.0 L697.0 1521.3 L700.6 1521.5 L704.1 1521.8 L707.6 1522.1 L711.1 1522.4 L714.7 1522.6 L718.2 1522.9 L721.7 1523.2 L725.3 1523.5 L728.8 1523.7 L732.3 1524.0 L735.8 1524.3 L739.4 1524.5 L742.9 1524.8 L746.4 1525.1 L749.9 1525.3 L753.5 1525.6 L757.0 1525.9 L760.5 1526.1 L764.1 1526.4 L767.6 1526.6 L771.1 1526.9 L774.6 1527.1 L778.2 1527.4 L781.7 1527.7 L785.2 1527.9 L788.7 1528.2 L792.3 1528.4 L795.8 1528.7 L799.3 1528.9 L802.9 1529.1 L806.4 1529.4 L809.9 1529.6 L813.4 1529.9 L817.0 1530.1 L820.5 1530.4 L824.0 1530.6 L827.5 1530.8 L831.1 1531.1 L834.6 1531.3 L838.1 1531.6 L841.7 1531.8 L845.2 1532.0 L848.7 1532.3 L852.2 1532.5 L855.8 1532.7 L859.3 1532.9 L862.8 1533.2 L866.3 1533.4 L869.9 1533.6 L873.4 1533.9 L876.9 1534.1 L880.5 1534.3 L884.0 1534.5 L887.5 1534.7 L891.0 1535.0 L894.6 1535.2 L898.1 1535.4 L901.6 1535.6 L905.1 1535.8 L908.7 1536.1 L912.2 1536.3 L915.7 1536.5 L919.3 1536.7 L922.8 1536.9 L926.3 1537.1 L929.8 1537.3 L933.4 1537.5 L936.9 1537.7 L940.4 1538.0 L943.9 1538.2 L947.5 1538.4 L951.0 1538.6 L954.5 1538.8 L958.1 1539.0 L961.6 1539.2 L965.1 1539.4 L968.6 1539.6 L972.2 1539.8 L975.7 1540.0 L979.2 1540.2 L982.7 1540.4 L986.3 1540.6 L989.8 1540.8 L993.3 1541.0 L996.9 1541.1 L1000.4 1541.3 L1003.9 1541.5 L1007.4 1541.7 L1011.0 1541.9 L1014.5 1542.1 L1018.0 1542.3 L1021.5 1542.5 L1025.1 1542.7 L1028.6 1542.8 L1032.1 1543.0 L1035.7 1543.2 L1039.2 1543.4 L1042.7 1543.6 L1046.2 1543.8 L1049.8 1543.9 L1053.3 1544.1 L1056.8 1544.3 L1060.3 1544.5 L1063.9 1544.6 L1067.4 1544.8 L1070.9 1545.0 L1074.5 1545.2 L1078.0 1545.3 L1081.5 1545.5 L1085.0 1545.7 L1088.6 1545.9 L1092.1 1546.0 L1095.6 1546.2 L1099.1 1546.4 L1102.7 1546.5 L1106.2 1546.7 L1109.7 1546.9 L1113.3 1547.0 L1116.8 1547.2 L1120.3 1547.4 L1123.8 1547.5 L1127.4 1547.7 L1130.9 1547.9 L1134.4 1548.0 L1137.9 1548.2 L1141.5 1548.4 L1145.0 1548.5 L1148.5 1548.7 L1152.1 1548.8 L1155.6 1549.0 L1159.1 1549.1 L1162.6 1549.3 L1166.2 1549.5 L1169.7 1549.6 L1173.2 1549.8 L1176.7 1549.9 L1180.3 1550.1 L1183.8 1550.2 L1187.3 1550.4 L1190.9 1550.5 L1194.4 1550.7 L1197.9 1550.8 L1201.4 1551.0 L1205.0 1551.1 L1208.5 1551.3 L1212.0 1551.4 L1215.5 1551.6 L1219.1 1551.7 L1222.6 1551.8 L1226.1 1552.0 L1229.7 1552.1 L1233.2 1552.3 L1236.7 1552.4 L1240.2 1552.6 L1243.8 1552.7 L1247.3 1552.8 L1250.8 1553.0 L1254.3 1553.1 L1257.9 1553.3 L1261.4 1553.4 L1264.9 1553.5 L1268.5 1553.7 L1272.0 1553.8 L1275.5 1553.9 L1279.0 1554.1 L1282.6 1554.2 L1286.1 1554.3 L1289.6 1554.5 L1293.1 1554.6 L1296.7 1554.7 L1300.2 1554.9 L1303.7 1555.0 L1307.3 1555.1 L1310.8 1555.3 L1314.3 1555.4 L1317.8 1555.5 L1321.4 1555.6 L1324.9 1555.8 L1328.4 1555.9 L1331.9 1556.0 L1335.5 1556.2 L1339.0 1556.3 L1342.5 1556.4 L1346.1 1556.5 L1349.6 1556.6 L1353.1 1556.8 L1356.6 1556.9 L1360.2 1557.0 L1363.7 1557.1 L1367.2 1557.3 L1370.7 1557.4 L1374.3 1557.5 L1377.8 1557.6 L1381.3 1557.7 L1384.9 1557.8 L1388.4 1558.0 L1391.9 1558.1 L1395.4 1558.2 L1399.0 1558.3 L1402.5 1558.4 L1406.0 1558.5 L1409.5 1558.7 L1413.1 1558.8 L1416.6 1558.9 L1420.1 1559.0 L1423.7 1559.1 L1427.2 1559.2 L1430.7 1559.3 L1434.2 1559.4 L1437.8 1559.6 L1441.3 1559.7 L1444.8 1559.8 L1448.3 1559.9 L1451.9 1560.0 L1455.4 1560.1 L1458.9 1560.2 L1462.5 1560.3 L1466.0 1560.4 L1469.5 1560.5 L1473.0 1560.6 L1476.6 1560.7 L1480.1 1560.8 L1483.6 1560.9 L1487.1 1561.0 L1490.7 1561.1 L1494.2 1561.2 L1497.7 1561.3 L1501.3 1561.4 L1504.8 1561.6 L1508.3 1561.7 L1511.8 1561.8 L1515.4 1561.9 L1518.9 1562.0 L1522.4 1562.0 L1525.9 1562.1 L1529.5 1562.2 L1533.0 1562.3 L1536.5 1562.4 L1540.1 1562.5 L1543.6 1562.6 L1547.1 1562.7 L1550.6 1562.8 L1554.2 1562.9 L1557.7 1563.0 L1561.2 1563.1 L1564.7 1563.2 L1568.3 1563.3 L1571.8 1563.4 L1575.3 1563.5 L1578.9 1563.6 L1582.4 1563.7 L1585.9 1563.8" stroke="#006499"/>
<path d="M175.0 1584.0 L178.5 1584.0 L182.1 1583.9 L185.6 1583.9 L189.1 1583.8 L192.6 1583.7 L196.2 1583.5 L199.7 1583.4 L203.2 1583.2 L206.7 1583.0 L210.3 1582.8 L213.8 1582.6 L217.3 1582.4 L220.9 1582.1 L224.4 1581.9 L227.9 1581.6 L231.4 1581.3 L235.0 1581.0 L238.5 1580.7 L242.0 1580.4 L245.5 1580.1 L249.1 1579.7 L252.6 1579.4 L256.1 1579.0 L259.7 1578.7 L263.2 1578.3 L266.7 1578.0 L270.2 1577.6 L273.8 1577.2 L277.3 1576.8 L280.8 1576.5 L284.3 1576.1 L287.9 1575.7 L291.4 1575.3 L294.9 1574.9 L298.5 1574.5 L302.0 1574.1 L305.5 1573.7 L309.0 1573.3 L312.6 1572.9 L316.1 1572.5 L319.6 1572.1 L323.1 1571.7 L326.7 1571.2 L330.2 1570.8 L333.7 1570.4 L337.3 1570.0 L340.8 1569.6 L344.3 1569.2 L347.8 1568.8 L351.4 1568.4 L354.9 1567.9 L358.4 1567.5 L361.9 1567.1 L365.5 1566.7 L369.0 1566.3 L372.5 1565.9 L376.1 1565.5 L379.6 1565.1 L383.1 1564.6 L386.6 1564.2 L390.2 1563.8 L393.7 1563.4 L397.2 1563.0 L400.7 1562.6 L404.3 1562.2 L407.8 1561.8 L411.3 1561.4 L414.9 1561.0 L418.4 1560.6 L421.9 1560.2 L425.4 1559.8 L429.0 1559.4 L432.5 1559.0 L436.0 1558.6 L439.5 1558.2 L443.1 1557.8 L446.6 1557.4 L450.1 1557.0 L453.7 1556.7 L457.2 1556.3 L460.7 1555.9 L464.2 1555.5 L467.8 1555.1 L471.3 1554.7 L474.8 1554.4 L478.3 1554.0 L481.9 1553.6 L485.4 1553.2 L488.9 1552.9 L492.5 1552.5 L496.0 1552.1 L499.5 1551.7 L503.0 1551.4 L506.6 1551.0 L510.1 1550.6 L513.6 1550.3 L517.1 1549.9 L520.7 1549.6 L524.2 1549.2 L527.7 1548.8 L531.3 1548.5 L534.8 1548.1 L538.3 1547.8 L541.8 1547.4 L545.4 1547.1 L548.9 1546.7 L552.4 1546.4 L555.9 1546.0 L559.5 1545.7 L563.0 1545.4 L566.5 1545.0 L570.1 1544.7 L573.6 1544.3 L577.1 1544.0 L580.6 1543.7 L584.2 1543.3 L587.7 1543.0 L591.2 1542.7 L594.7 1542.3 L598.3 1542.0 L601.8 1541.7 L605.3 1541.4 L608.9 1541.0 L612.4 1540.7 L615.9 1540.4 L619.4 1540.1 L623.0 1539.8 L626.5 1539.4 L630.0 1539.1 L633.5 1538.8 L637.1 1538.5 L640.6 1538.2 L644.1 1537.9 L647.7 1537.6 L651.2 1537.3 L654.7 1537.0 L658.2 1536.7 L661.8 1536.4 L665.3 1536.1 L668.8 1535.8 L672.3 1535.5 L675.9 1535.2 L679.4 1534.9 L682.9 1534.6 L686.5 1534.3 L690.0 1534.0 L693.5 1533.7 L697.0 1533.4 L700.6 1533.1 L704.1 1532.8 L707.6 1532.5 L711.1 1532.3 L714.7 1532.0 L718.2 1531.7 L721.7 1531.4 L725.3 1531.1 L728.8 1530.8 L732.3 1530.6 L735.8 1530.3 L739.4 1530.0 L742.9 1529.7 L746.4 1529.5 L749.9 1529.2 L753.5 1528.9 L757.0 1528.7 L760.5 1528.4 L764.1 1528.1 L767.6 1527.9 L771.1 1527.6 L774.6 1527.3 L778.2 1527.1 L781.7 1526.8 L785.2 1526.6 L788.7 1526.3 L792.3 1526.0 L795.8 1525.8 L799.3 1525.5 L802.9 1525.3 L806.4 1525.0 L809.9 1524.8 L813.4 1524.5 L817.0 1524.3 L820.5 1524.0 L824.0 1523.8 L827.5 1523.5 L831.1 1523.3 L834.6 1523.1 L838.1 1522.8 L841.7 1522.6 L845.2 1522.3 L848.7 1522.1 L852.2 1521.9 L855.8 1521.6 L859.3 1521.4 L862.8 1521.1 L866.3 1520.9 L869.9 1520.7 L873.4 1520.5 L876.9 1520.2 L880.5 1520.0 L884.0 1519.8 L887.5 1519.5 L891.0 1519.3 L894.6 1519.1 L898.1 1518.9 L901.6 1518.6 L905.1 1518.4 L908.7 1518.2 L912.2 1518.0 L915.7 1517.8 L919.3 1517.5 L922.8 1517.3 L926.3 1517.1 L929.8 1516.9 L933.4 1516.7 L936.9 1516.5 L940.4 1516.2 L943.9 1516.0 L947.5 1515.8 L951.0 1515.6 L954.5 1515.4 L958.1 1515.2 L961.6 1515.0 L965.1 1514.8 L968.6 1514.6 L972.2 1514.4 L975.7 1514.2 L979.2 1514.0 L982.7 1513.8 L986.3 1513.6 L989.8 1513.4 L993.3 1513.2 L996.9 1513.0 L1000.4 1512.8 L1003.9 1512.6 L1007.4 1512.4 L1011.0 1512.2 L1014.5 1512.0 L1018.0 1511.8 L1021.5 1511.6 L1025.1 1511.4 L1028.6 1511.2 L1032.1 1511.0 L1035.7 1510.8 L1039.2 1510.7 L1042.7 1510.5 L1046.2 1510.3 L1049.8 1510.1 L1053.3 1509.9 L1056.8 1509.7 L1060.3 1509.6 L1063.9 1509.4 L1067.4 1509.2 L1070.9 1509.0 L1074.5 1508.8 L1078.0 1508.7 L1081.5 1508.5 L1085.0 1508.3 L1088.6 1508.1 L1092.1 1507.9 L1095.6 1507.8 L1099.1 1507.6 L1102.7 1507.4 L1106.2 1507.3 L1109.7 1507.1 L1113.3 1506.9 L1116.8 1506.7 L1120.3 1506.6 L1123.8 1506.4 L1127.4 1506.2 L1130.9 1506.1 L1134.4 1505.9 L1137.9 1505.7 L1141.5 1505.6 L1145.0 1505.4 L1148.5 1505.2 L1152.1 1505.1 L1155.6 1504.9 L1159.1 1504.8 L1162.6 1504.6 L1166.2 1504.4 L1169.7 1504.3 L1173.2 1504.1 L1176.7 1504.0 L1180.3 1503.8 L1183.8 1503.7 L1187.3 1503.5 L1190.9 1503.3 L1194.4 1503.2 L1197.9 1503.0 L1201.4 1502.9 L1205.0 1502.7 L1208.5 1502.6 L1212.0 1502.4 L1215.5 1502.3 L1219.1 1502.1 L1222.6 1502.0 L1226.1 1501.8 L1229.7 1501.7 L1233.2 1501.5 L1236.7 1501.4 L1240.2 1501.3 L1243.8 1501.1 L1247.3 1501.0 L1250.8 1500.8 L1254.3 1500.7 L1257.9 1500.5 L1261.4 1500.4 L1264.9 1500.3 L1268.5 1500.1 L1272.0 1500.0 L1275.5 1499.8 L1279.0 1499.7 L1282.6 1499.6 L1286.1 1499.4 L1289.6 1499.3 L1293.1 1499.2 L1296.7 1499.0 L1300.2 1498.9 L1303.7 1498.7 L1307.3 1498.6 L1310.8 1498.5 L1314.3 1498.4 L1317.8 1498.2 L1321.4 1498.1 L1324.9 1498.0 L1328.4 1497.8 L1331.9 1497.7 L1335.5 1497.6 L1339.0 1497.4 L1342.5 1497.3 L1346.1 1497.2 L1349.6 1497.1 L1353.1 1496.9 L1356.6 1496.8 L1360.2 1496.7 L1363.7 1496.6 L1367.2 1496.4 L1370.7 1496.3 L1374.3 1496.2 L1377.8 1496.1 L1381.3 1496.0 L1384.9 1495.8 L1388.4 1495.7 L1391.9 1495.6 L1395.4 1495.5 L1399.0 1495.4 L1402.5 1495.2 L1406.0 1495.1 L1409.5 1495.0 L1413.1 1494.9 L1416.6 1494.8 L1420.1 1494.7 L1423.7 1494.5 L1427.2 1494.4 L1430.7 1494.3 L1434.2 1494.2 L1437.8 1494.1 L1441.3 1494.0 L1444.8 1493.9 L1448.3 1493.7 L1451.9 1493.6 L1455.4 1493.5 L1458.9 1493.4 L1462.5 1493.3 L1466.0 1493.2 L1469.5 1493.1 L1473.0 1493.0 L1476.6 1492.9 L1480.1 1492.8 L1483.6 1492.7 L1487.1 1492.6 L1490.7 1492.4 L1494.2 1492.3 L1497.7 1492.2 L1501.3 1492.1 L1504.8 1492.0 L1508.3 1491.9 L1511.8 1491.8 L1515.4 1491.7 L1518.9 1491.6 L1522.4 1491.5 L1525.9 1491.4 L1529.5 1491.3 L1533.0 1491.2 L1536.5 1491.1 L1540.1 1491.0 L1543.6 1490.9 L1547.1 1490.8 L1550.6 1490.7 L1554.2 1490.6 L1557.7 1490.5 L1561.2 1490.4 L1564.7 1490.3 L1568.3 1490.2 L1571.8 1490.1 L1575.3 1490.1 L1578.9 1490.0 L1582.4 1489.9 L1585.9 1489.8" stroke="#D55355"/>
</g>
<path d="M175.0 700.0 L182.1 820.0 L189.2 870.0 L196.3 1160.0 L203.4 1308.0 L210.4 1423.0 L217.5 1416.0 L224.6 1290.0 L231.7 1211.0 L238.8 1261.0 L245.9 1206.0 L253.0 1234.0 L260.1 1350.0 L267.2 1395.0 L274.3 1416.0 L281.4 1435.0 L288.4 1450.0 L295.5 1438.0 L302.6 1372.0 L309.7 1432.0 L316.8 1500.0 L323.9 1505.0 L331.0 1535.0 L338.1 1545.0 L345.2 1516.0 L352.2 1520.0 L359.3 1530.0 L366.4 1538.0 L373.5 1545.0 L380.6 1550.0 L387.7 1552.0 L394.8 1557.0 L401.9 1565.0 L409.0 1568.0 L416.1 1560.0 L423.2 1547.0 L430.2 1529.0 L437.3 1530.0 L444.4 1533.0 L451.5 1514.0 L458.6 1499.0 L465.7 1523.0 L472.8 1544.0 L479.9 1560.0 L487.0 1550.0 L494.1 1530.0 L501.1 1518.0 L508.2 1525.0 L515.3 1560.0 L522.4 1565.0 L529.5 1540.0 L536.6 1521.0 L543.7 1529.0 L550.8 1541.0 L557.9 1538.0 L565.0 1548.0 L572.0 1555.0 L579.1 1565.0 L586.2 1572.0 L593.3 1575.0 L600.4 1576.0 L607.5 1565.0 L614.6 1558.0 L621.7 1523.0 L628.8 1530.0 L635.9 1548.0 L642.9 1552.0 L650.0 1555.0 L657.1 1584.0 L664.2 1584.0 L671.3 1584.0 L678.4 1584.0 L685.5 1584.0 L692.6 1569.0 L699.7 1555.0 L706.8 1540.0 L713.8 1526.0 L720.9 1550.0 L728.0 1568.0 L735.1 1560.0 L742.2 1560.0 L749.3 1548.0 L756.4 1563.0 L763.5 1568.0 L770.6 1572.0 L777.6 1572.0 L784.7 1578.0 L791.8 1584.0 L798.9 1584.0 L806.0 1578.0 L813.1 1565.0 L820.2 1558.0 L827.3 1562.0 L834.4 1568.0 L841.5 1574.0 L848.6 1584.0 L855.6 1584.0 L862.7 1584.0 L869.8 1575.0 L876.9 1568.0 L884.0 1555.0 L891.1 1562.0 L898.2 1568.0 L905.3 1575.0 L912.4 1580.0 L919.5 1575.0 L926.5 1565.0 L933.6 1558.0 L940.7 1565.0 L947.8 1571.0 L954.9 1584.0 L962.0 1584.0 L969.1 1584.0 L976.2 1584.0 L983.3 1584.0 L990.4 1584.0 L997.4 1584.0 L1004.5 1584.0 L1011.6 1579.2 L1018.7 1574.5 L1025.8 1569.8 L1032.9 1565.0 L1040.0 1575.0 L1047.1 1560.0 L1054.2 1552.0 L1061.2 1550.0 L1068.3 1552.0 L1075.4 1560.0 L1082.5 1568.0 L1089.6 1575.0 L1096.7 1578.0 L1103.8 1570.0 L1110.9 1578.0 L1118.0 1584.0 L1125.1 1584.0 L1132.2 1584.0 L1139.2 1584.0 L1146.3 1584.0 L1153.4 1584.0 L1160.5 1584.0 L1167.6 1584.0 L1174.7 1584.0 L1181.8 1584.0 L1188.9 1584.0 L1196.0 1584.0 L1203.0 1584.0 L1210.1 1584.0 L1217.2 1584.0 L1224.3 1584.0 L1231.4 1584.0 L1238.5 1584.0 L1245.6 1584.0 L1252.7 1584.0 L1259.8 1584.0 L1266.9 1584.0 L1274.0 1584.0 L1281.0 1584.0 L1288.1 1584.0 L1295.2 1584.0 L1302.3 1584.0 L1309.4 1584.0 L1316.5 1584.0 L1323.6 1584.0 L1330.7 1584.0 L1337.8 1584.0 L1344.9 1584.0 L1351.9 1584.0 L1359.0 1584.0 L1366.1 1584.0 L1373.2 1584.0 L1380.3 1584.0 L1387.4 1584.0 L1394.5 1584.0 L1401.6 1584.0 L1408.7 1584.0 L1415.8 1584.0 L1422.8 1584.0 L1429.9 1584.0 L1437.0 1584.0 L1444.1 1584.0 L1451.2 1584.0 L1458.3 1584.0 L1465.4 1584.0 L1472.5 1584.0 L1479.6 1584.0 L1486.7 1584.0 L1493.7 1584.0 L1500.8 1584.0 L1507.9 1584.0 L1515.0 1584.0 L1522.1 1584.0 L1529.2 1584.0 L1536.3 1584.0 L1543.4 1584.0 L1550.5 1584.0 L1557.5 1584.0 L1564.6 1584.0 L1571.7 1584.0 L1578.8 1584.0 L1585.9 1584.0" fill="none" stroke="#4DBEFF" stroke-width="3.8" stroke-linejoin="round" clip-path="url(#clipb)"/>
<path d="M196.3 1153.0v14.0M203.4 1301.0v14.0M210.4 1416.0v14.0M217.5 1409.0v14.0M224.6 1283.0v14.0M231.7 1204.0v14.0M238.8 1254.0v14.0M245.9 1199.0v14.0M253.0 1227.0v14.0M260.1 1343.0v14.0M267.2 1388.0v14.0M274.3 1409.0v14.0M281.4 1428.0v14.0M288.4 1443.0v14.0M295.5 1431.0v14.0M302.6 1365.0v14.0M309.7 1425.0v14.0M316.8 1493.0v14.0M323.9 1498.0v14.0M331.0 1528.0v14.0M338.1 1538.0v14.0M345.2 1509.0v14.0M352.2 1513.0v14.0M359.3 1523.0v14.0M366.4 1531.0v14.0M373.5 1538.0v14.0M380.6 1543.0v14.0M387.7 1545.0v14.0M394.8 1550.0v14.0M401.9 1558.0v14.0M409.0 1561.0v14.0M416.1 1553.0v14.0M423.2 1540.0v14.0M430.2 1522.0v14.0M437.3 1523.0v14.0M444.4 1526.0v14.0M451.5 1507.0v14.0M458.6 1492.0v14.0M465.7 1516.0v14.0M472.8 1537.0v14.0M479.9 1553.0v14.0M487.0 1543.0v14.0M494.1 1523.0v14.0M501.1 1511.0v14.0M508.2 1518.0v14.0M515.3 1553.0v14.0M522.4 1558.0v14.0M529.5 1533.0v14.0M536.6 1514.0v14.0M543.7 1522.0v14.0M550.8 1534.0v14.0M557.9 1531.0v14.0M565.0 1541.0v14.0M572.0 1548.0v14.0M579.1 1558.0v14.0M586.2 1565.0v14.0M593.3 1568.0v14.0M600.4 1569.0v14.0M607.5 1558.0v14.0M614.6 1551.0v14.0M621.7 1516.0v14.0M628.8 1523.0v14.0M635.9 1541.0v14.0M642.9 1545.0v14.0M650.0 1548.0v14.0M657.1 1577.0v14.0M664.2 1577.0v14.0M671.3 1577.0v14.0M678.4 1577.0v14.0M685.5 1577.0v14.0M692.6 1562.0v14.0M699.7 1548.0v14.0M706.8 1533.0v14.0M713.8 1519.0v14.0M720.9 1543.0v14.0M728.0 1561.0v14.0M735.1 1553.0v14.0M742.2 1553.0v14.0M749.3 1541.0v14.0M756.4 1556.0v14.0M763.5 1561.0v14.0M770.6 1565.0v14.0M777.6 1565.0v14.0M784.7 1571.0v14.0M791.8 1577.0v14.0M798.9 1577.0v14.0M806.0 1571.0v14.0M813.1 1558.0v14.0M820.2 1551.0v14.0M827.3 1555.0v14.0M834.4 1561.0v14.0M841.5 1567.0v14.0M848.6 1577.0v14.0M855.6 1577.0v14.0M862.7 1577.0v14.0M869.8 1568.0v14.0M876.9 1561.0v14.0M884.0 1548.0v14.0M891.1 1555.0v14.0M898.2 1561.0v14.0M905.3 1568.0v14.0M912.4 1573.0v14.0M919.5 1568.0v14.0M926.5 1558.0v14.0M933.6 1551.0v14.0M940.7 1558.0v14.0M947.8 1564.0v14.0M954.9 1577.0v14.0M962.0 1577.0v14.0M969.1 1577.0v14.0M976.2 1577.0v14.0M983.3 1577.0v14.0M990.4 1577.0v14.0M997.4 1577.0v14.0M1004.5 1577.0v14.0M1011.6 1572.2v14.0M1018.7 1567.5v14.0M1025.8 1562.8v14.0M1032.9 1558.0v14.0M1040.0 1568.0v14.0M1047.1 1553.0v14.0M1054.2 1545.0v14.0M1061.2 1543.0v14.0M1068.3 1545.0v14.0M1075.4 1553.0v14.0M1082.5 1561.0v14.0M1089.6 1568.0v14.0M1096.7 1571.0v14.0M1103.8 1563.0v14.0M1110.9 1571.0v14.0M1118.0 1577.0v14.0M1125.1 1577.0v14.0M1132.2 1577.0v14.0M1139.2 1577.0v14.0M1146.3 1577.0v14.0M1153.4 1577.0v14.0M1160.5 1577.0v14.0M1167.6 1577.0v14.0M1174.7 1577.0v14.0M1181.8 1577.0v14.0M1188.9 1577.0v14.0M1196.0 1577.0v14.0M1203.0 1577.0v14.0M1210.1 1577.0v14.0M1217.2 1577.0v14.0M1224.3 1577.0v14.0M1231.4 1577.0v14.0M1238.5 1577.0v14.0M1245.6 1577.0v14.0M1252.7 1577.0v14.0M1259.8 1577.0v14.0M1266.9 1577.0v14.0M1274.0 1577.0v14.0M1281.0 1577.0v14.0M1288.1 1577.0v14.0M1295.2 1577.0v14.0M1302.3 1577.0v14.0M1309.4 1577.0v14.0M1316.5 1577.0v14.0M1323.6 1577.0v14.0M1330.7 1577.0v14.0M1337.8 1577.0v14.0M1344.9 1577.0v14.0M1351.9 1577.0v14.0M1359.0 1577.0v14.0M1366.1 1577.0v14.0M1373.2 1577.0v14.0M1380.3 1577.0v14.0M1387.4 1577.0v14.0M1394.5 1577.0v14.0M1401.6 1577.0v14.0M1408.7 1577.0v14.0M1415.8 1577.0v14.0M1422.8 1577.0v14.0M1429.9 1577.0v14.0M1437.0 1577.0v14.0M1444.1 1577.0v14.0M1451.2 1577.0v14.0M1458.3 1577.0v14.0M1465.4 1577.0v14.0M1472.5 1577.0v14.0M1479.6 1577.0v14.0M1486.7 1577.0v14.0M1493.7 1577.0v14.0M1500.8 1577.0v14.0M1507.9 1577.0v14.0M1515.0 1577.0v14.0M1522.1 1577.0v14.0M1529.2 1577.0v14.0M1536.3 1577.0v14.0M1543.4 1577.0v14.0M1550.5 1577.0v14.0M1557.5 1577.0v14.0M1564.6 1577.0v14.0M1571.7 1577.0v14.0M1578.8 1577.0v14.0M1585.9 1577.0v14.0" stroke="#4DBEFF" stroke-width="1.8" fill="none"/>
<g fill="#4DBEFF"><circle cx="196.3" cy="1160.0" r="6.5"/><circle cx="203.4" cy="1308.0" r="6.5"/><circle cx="210.4" cy="1423.0" r="6.5"/><circle cx="217.5" cy="1416.0" r="6.5"/><circle cx="224.6" cy="1290.0" r="6.5"/><circle cx="231.7" cy="1211.0" r="6.5"/><circle cx="238.8" cy="1261.0" r="6.5"/><circle cx="245.9" cy="1206.0" r="6.5"/><circle cx="253.0" cy="1234.0" r="6.5"/><circle cx="260.1" cy="1350.0" r="6.5"/><circle cx="267.2" cy="1395.0" r="6.5"/><circle cx="274.3" cy="1416.0" r="6.5"/><circle cx="281.4" cy="1435.0" r="6.5"/><circle cx="288.4" cy="1450.0" r="6.5"/><circle cx="295.5" cy="1438.0" r="6.5"/><circle cx="302.6" cy="1372.0" r="6.5"/><circle cx="309.7" cy="1432.0" r="6.5"/><circle cx="316.8" cy="1500.0" r="6.5"/><circle cx="323.9" cy="1505.0" r="6.5"/><circle cx="331.0" cy="1535.0" r="6.5"/><circle cx="338.1" cy="1545.0" r="6.5"/><circle cx="345.2" cy="1516.0" r="6.5"/><circle cx="352.2" cy="1520.0" r="6.5"/><circle cx="359.3" cy="1530.0" r="6.5"/><circle cx="366.4" cy="1538.0" r="6.5"/><circle cx="373.5" cy="1545.0" r="6.5"/><circle cx="380.6" cy="1550.0" r="6.5"/><circle cx="387.7" cy="1552.0" r="6.5"/><circle cx="394.8" cy="1557.0" r="6.5"/><circle cx="401.9" cy="1565.0" r="6.5"/><circle cx="409.0" cy="1568.0" r="6.5"/><circle cx="416.1" cy="1560.0" r="6.5"/><circle cx="423.2" cy="1547.0" r="6.5"/><circle cx="430.2" cy="1529.0" r="6.5"/><circle cx="437.3" cy="1530.0" r="6.5"/><circle cx="444.4" cy="1533.0" r="6.5"/><circle cx="451.5" cy="1514.0" r="6.5"/><circle cx="458.6" cy="1499.0" r="6.5"/><circle cx="465.7" cy="1523.0" r="6.5"/><circle cx="472.8" cy="1544.0" r="6.5"/><circle cx="479.9" cy="1560.0" r="6.5"/><circle cx="487.0" cy="1550.0" r="6.5"/><circle cx="494.1" cy="1530.0" r="6.5"/><circle cx="501.1" cy="1518.0" r="6.5"/><circle cx="508.2" cy="1525.0" r="6.5"/><circle cx="515.3" cy="1560.0" r="6.5"/><circle cx="522.4" cy="1565.0" r="6.5"/><circle cx="529.5" cy="1540.0" r="6.5"/><circle cx="536.6" cy="1521.0" r="6.5"/><circle cx="543.7" cy="1529.0" r="6.5"/><circle cx="550.8" cy="1541.0" r="6.5"/><circle cx="557.9" cy="1538.0" r="6.5"/><circle cx="565.0" cy="1548.0" r="6.5"/><circle cx="572.0" cy="1555.0" r="6.5"/><circle cx="579.1" cy="1565.0" r="6.5"/><circle cx="586.2" cy="1572.0" r="6.5"/><circle cx="593.3" cy="1575.0" r="6.5"/><circle cx="600.4" cy="1576.0" r="6.5"/><circle cx="607.5" cy="1565.0" r="6.5"/><circle cx="614.6" cy="1558.0" r="6.5"/><circle cx="621.7" cy="1523.0" r="6.5"/><circle cx="628.8" cy="1530.0" r="6.5"/><circle cx="635.9" cy="1548.0" r="6.5"/><circle cx="642.9" cy="1552.0" r="6.5"/><circle cx="650.0" cy="1555.0" r="6.5"/><circle cx="657.1" cy="1584.0" r="6.5"/><circle cx="664.2" cy="1584.0" r="6.5"/><circle cx="671.3" cy="1584.0" r="6.5"/><circle cx="678.4" cy="1584.0" r="6.5"/><circle cx="685.5" cy="1584.0" r="6.5"/><circle cx="692.6" cy="1569.0" r="6.5"/><circle cx="699.7" cy="1555.0" r="6.5"/><circle cx="706.8" cy="1540.0" r="6.5"/><circle cx="713.8" cy="1526.0" r="6.5"/><circle cx="720.9" cy="1550.0" r="6.5"/><circle cx="728.0" cy="1568.0" r="6.5"/><circle cx="735.1" cy="1560.0" r="6.5"/><circle cx="742.2" cy="1560.0" r="6.5"/><circle cx="749.3" cy="1548.0" r="6.5"/><circle cx="756.4" cy="1563.0" r="6.5"/><circle cx="763.5" cy="1568.0" r="6.5"/><circle cx="770.6" cy="1572.0" r="6.5"/><circle cx="777.6" cy="1572.0" r="6.5"/><circle cx="784.7" cy="1578.0" r="6.5"/><circle cx="791.8" cy="1584.0" r="6.5"/><circle cx="798.9" cy="1584.0" r="6.5"/><circle cx="806.0" cy="1578.0" r="6.5"/><circle cx="813.1" cy="1565.0" r="6.5"/><circle cx="820.2" cy="1558.0" r="6.5"/><circle cx="827.3" cy="1562.0" r="6.5"/><circle cx="834.4" cy="1568.0" r="6.5"/><circle cx="841.5" cy="1574.0" r="6.5"/><circle cx="848.6" cy="1584.0" r="6.5"/><circle cx="855.6" cy="1584.0" r="6.5"/><circle cx="862.7" cy="1584.0" r="6.5"/><circle cx="869.8" cy="1575.0" r="6.5"/><circle cx="876.9" cy="1568.0" r="6.5"/><circle cx="884.0" cy="1555.0" r="6.5"/><circle cx="891.1" cy="1562.0" r="6.5"/><circle cx="898.2" cy="1568.0" r="6.5"/><circle cx="905.3" cy="1575.0" r="6.5"/><circle cx="912.4" cy="1580.0" r="6.5"/><circle cx="919.5" cy="1575.0" r="6.5"/><circle cx="926.5" cy="1565.0" r="6.5"/><circle cx="933.6" cy="1558.0" r="6.5"/><circle cx="940.7" cy="1565.0" r="6.5"/><circle cx="947.8" cy="1571.0" r="6.5"/><circle cx="954.9" cy="1584.0" r="6.5"/><circle cx="962.0" cy="1584.0" r="6.5"/><circle cx="969.1" cy="1584.0" r="6.5"/><circle cx="976.2" cy="1584.0" r="6.5"/><circle cx="983.3" cy="1584.0" r="6.5"/><circle cx="990.4" cy="1584.0" r="6.5"/><circle cx="997.4" cy="1584.0" r="6.5"/><circle cx="1004.5" cy="1584.0" r="6.5"/><circle cx="1011.6" cy="1579.2" r="6.5"/><circle cx="1018.7" cy="1574.5" r="6.5"/><circle cx="1025.8" cy="1569.8" r="6.5"/><circle cx="1032.9" cy="1565.0" r="6.5"/><circle cx="1040.0" cy="1575.0" r="6.5"/><circle cx="1047.1" cy="1560.0" r="6.5"/><circle cx="1054.2" cy="1552.0" r="6.5"/><circle cx="1061.2" cy="1550.0" r="6.5"/><circle cx="1068.3" cy="1552.0" r="6.5"/><circle cx="1075.4" cy="1560.0" r="6.5"/><circle cx="1082.5" cy="1568.0" r="6.5"/><circle cx="1089.6" cy="1575.0" r="6.5"/><circle cx="1096.7" cy="1578.0" r="6.5"/><circle cx="1103.8" cy="1570.0" r="6.5"/><circle cx="1110.9" cy="1578.0" r="6.5"/><circle cx="1118.0" cy="1584.0" r="6.5"/><circle cx="1125.1" cy="1584.0" r="6.5"/><circle cx="1132.2" cy="1584.0" r="6.5"/><circle cx="1139.2" cy="1584.0" r="6.5"/><circle cx="1146.3" cy="1584.0" r="6.5"/><circle cx="1153.4" cy="1584.0" r="6.5"/><circle cx="1160.5" cy="1584.0" r="6.5"/><circle cx="1167.6" cy="1584.0" r="6.5"/><circle cx="1174.7" cy="1584.0" r="6.5"/><circle cx="1181.8" cy="1584.0" r="6.5"/><circle cx="1188.9" cy="1584.0" r="6.5"/><circle cx="1196.0" cy="1584.0" r="6.5"/><circle cx="1203.0" cy="1584.0" r="6.5"/><circle cx="1210.1" cy="1584.0" r="6.5"/><circle cx="1217.2" cy="1584.0" r="6.5"/><circle cx="1224.3" cy="1584.0" r="6.5"/><circle cx="1231.4" cy="1584.0" r="6.5"/><circle cx="1238.5" cy="1584.0" r="6.5"/><circle cx="1245.6" cy="1584.0" r="6.5"/><circle cx="1252.7" cy="1584.0" r="6.5"/><circle cx="1259.8" cy="1584.0" r="6.5"/><circle cx="1266.9" cy="1584.0" r="6.5"/><circle cx="1274.0" cy="1584.0" r="6.5"/><circle cx="1281.0" cy="1584.0" r="6.5"/><circle cx="1288.1" cy="1584.0" r="6.5"/><circle cx="1295.2" cy="1584.0" r="6.5"/><circle cx="1302.3" cy="1584.0" r="6.5"/><circle cx="1309.4" cy="1584.0" r="6.5"/><circle cx="1316.5" cy="1584.0" r="6.5"/><circle cx="1323.6" cy="1584.0" r="6.5"/><circle cx="1330.7" cy="1584.0" r="6.5"/><circle cx="1337.8" cy="1584.0" r="6.5"/><circle cx="1344.9" cy="1584.0" r="6.5"/><circle cx="1351.9" cy="1584.0" r="6.5"/><circle cx="1359.0" cy="1584.0" r="6.5"/><circle cx="1366.1" cy="1584.0" r="6.5"/><circle cx="1373.2" cy="1584.0" r="6.5"/><circle cx="1380.3" cy="1584.0" r="6.5"/><circle cx="1387.4" cy="1584.0" r="6.5"/><circle cx="1394.5" cy="1584.0" r="6.5"/><circle cx="1401.6" cy="1584.0" r="6.5"/><circle cx="1408.7" cy="1584.0" r="6.5"/><circle cx="1415.8" cy="1584.0" r="6.5"/><circle cx="1422.8" cy="1584.0" r="6.5"/><circle cx="1429.9" cy="1584.0" r="6.5"/><circle cx="1437.0" cy="1584.0" r="6.5"/><circle cx="1444.1" cy="1584.0" r="6.5"/><circle cx="1451.2" cy="1584.0" r="6.5"/><circle cx="1458.3" cy="1584.0" r="6.5"/><circle cx="1465.4" cy="1584.0" r="6.5"/><circle cx="1472.5" cy="1584.0" r="6.5"/><circle cx="1479.6" cy="1584.0" r="6.5"/><circle cx="1486.7" cy="1584.0" r="6.5"/><circle cx="1493.7" cy="1584.0" r="6.5"/><circle cx="1500.8" cy="1584.0" r="6.5"/><circle cx="1507.9" cy="1584.0" r="6.5"/><circle cx="1515.0" cy="1584.0" r="6.5"/><circle cx="1522.1" cy="1584.0" r="6.5"/><circle cx="1529.2" cy="1584.0" r="6.5"/><circle cx="1536.3" cy="1584.0" r="6.5"/><circle cx="1543.4" cy="1584.0" r="6.5"/><circle cx="1550.5" cy="1584.0" r="6.5"/><circle cx="1557.5" cy="1584.0" r="6.5"/><circle cx="1564.6" cy="1584.0" r="6.5"/><circle cx="1571.7" cy="1584.0" r="6.5"/><circle cx="1578.8" cy="1584.0" r="6.5"/><circle cx="1585.9" cy="1584.0" r="6.5"/></g>
<path d="M175.0 1584.0 L182.1 1570.0 L189.2 1546.0 L196.3 1507.0 L203.4 1336.0 L210.4 1406.0 L217.5 1385.0 L224.6 1264.0 L231.7 1332.0 L238.8 1423.0 L245.9 1353.0 L253.0 1256.0 L260.1 1351.0 L267.2 1437.0 L274.3 1455.0 L281.4 1423.0 L288.4 1453.0 L295.5 1426.0 L302.6 1419.0 L309.7 1329.0 L316.8 1362.0 L323.9 1415.0 L331.0 1430.0 L338.1 1455.0 L345.2 1500.0 L352.2 1465.0 L359.3 1471.0 L366.4 1446.0 L373.5 1434.0 L380.6 1439.0 L387.7 1415.0 L394.8 1464.0 L401.9 1526.0 L409.0 1532.0 L416.1 1493.0 L423.2 1463.0 L430.2 1487.0 L437.3 1489.0 L444.4 1475.0 L451.5 1424.0 L458.6 1465.0 L465.7 1443.0 L472.8 1469.0 L479.9 1526.0 L487.0 1555.0 L494.1 1545.0 L501.1 1526.0 L508.2 1514.0 L515.3 1522.0 L522.4 1538.0 L529.5 1461.0 L536.6 1459.0 L543.7 1482.0 L550.8 1492.0 L557.9 1507.0 L565.0 1519.0 L572.0 1523.0 L579.1 1526.0 L586.2 1541.0 L593.3 1560.0 L600.4 1528.0 L607.5 1499.0 L614.6 1482.0 L621.7 1495.0 L628.8 1532.0 L635.9 1530.0 L642.9 1520.0 L650.0 1507.0 L657.1 1504.0 L664.2 1533.0 L671.3 1541.0 L678.4 1550.0 L685.5 1526.0 L692.6 1535.0 L699.7 1525.0 L706.8 1511.0 L713.8 1500.0 L720.9 1485.0 L728.0 1506.0 L735.1 1521.0 L742.2 1517.0 L749.3 1537.0 L756.4 1530.0 L763.5 1520.0 L770.6 1519.0 L777.6 1560.0 L784.7 1552.0 L791.8 1560.0 L798.9 1569.0 L806.0 1569.0 L813.1 1562.0 L820.2 1550.0 L827.3 1540.0 L834.4 1526.0 L841.5 1547.0 L848.6 1563.0 L855.6 1549.0 L862.7 1563.0 L869.8 1540.0 L876.9 1508.0 L884.0 1525.0 L891.1 1544.0 L898.2 1548.0 L905.3 1551.0 L912.4 1571.0 L919.5 1582.0 L926.5 1574.0 L933.6 1572.0 L940.7 1571.0 L947.8 1555.0 L954.9 1519.0 L962.0 1510.0 L969.1 1520.0 L976.2 1529.0 L983.3 1540.0 L990.4 1554.0 L997.4 1563.0 L1004.5 1560.0 L1011.6 1568.0 L1018.7 1566.0 L1025.8 1570.0 L1032.9 1563.0 L1040.0 1575.0 L1047.1 1582.0 L1054.2 1582.0 L1061.2 1584.0 L1068.3 1571.0 L1075.4 1559.0 L1082.5 1560.0 L1089.6 1562.0 L1096.7 1560.0 L1103.8 1575.0 L1110.9 1580.0 L1118.0 1574.0 L1125.1 1578.0 L1132.2 1570.0 L1139.2 1568.0 L1146.3 1574.0 L1153.4 1574.0 L1160.5 1582.0 L1167.6 1584.0 L1174.7 1584.0 L1181.8 1573.0 L1188.9 1565.0 L1196.0 1566.0 L1203.0 1562.0 L1210.1 1560.0 L1217.2 1565.0 L1224.3 1569.0 L1231.4 1572.0 L1238.5 1571.0 L1245.6 1566.0 L1252.7 1570.0 L1259.8 1573.0 L1266.9 1576.0 L1274.0 1575.0 L1281.0 1578.0 L1288.1 1571.0 L1295.2 1574.0 L1302.3 1568.0 L1309.4 1575.0 L1316.5 1570.0 L1323.6 1540.0 L1330.7 1571.0 L1337.8 1541.0 L1344.9 1560.0 L1351.9 1571.0 L1359.0 1575.0 L1366.1 1572.0 L1373.2 1584.0 L1380.3 1578.0 L1387.4 1575.0 L1394.5 1584.0 L1401.6 1578.0 L1408.7 1570.0 L1415.8 1568.0 L1422.8 1566.0 L1429.9 1568.0 L1437.0 1574.0 L1444.1 1575.0 L1451.2 1575.0 L1458.3 1580.0 L1465.4 1582.0 L1472.5 1582.0 L1479.6 1580.0 L1486.7 1578.0 L1493.7 1575.0 L1500.8 1570.0 L1507.9 1565.0 L1515.0 1568.0 L1522.1 1566.0 L1529.2 1553.0 L1536.3 1552.0 L1543.4 1568.0 L1550.5 1578.0 L1557.5 1584.0 L1564.6 1584.0 L1571.7 1575.0 L1578.8 1584.0 L1585.9 1584.0" fill="none" stroke="#006499" stroke-width="3.8" stroke-linejoin="round" clip-path="url(#clipb)"/>
<path d="M175.0 1577.0v14.0M182.1 1563.0v14.0M189.2 1539.0v14.0M196.3 1500.0v14.0M203.4 1329.0v14.0M210.4 1399.0v14.0M217.5 1378.0v14.0M224.6 1257.0v14.0M231.7 1325.0v14.0M238.8 1416.0v14.0M245.9 1346.0v14.0M253.0 1249.0v14.0M260.1 1344.0v14.0M267.2 1430.0v14.0M274.3 1448.0v14.0M281.4 1416.0v14.0M288.4 1446.0v14.0M295.5 1419.0v14.0M302.6 1412.0v14.0M309.7 1322.0v14.0M316.8 1355.0v14.0M323.9 1408.0v14.0M331.0 1423.0v14.0M338.1 1448.0v14.0M345.2 1493.0v14.0M352.2 1458.0v14.0M359.3 1464.0v14.0M366.4 1439.0v14.0M373.5 1427.0v14.0M380.6 1432.0v14.0M387.7 1408.0v14.0M394.8 1457.0v14.0M401.9 1519.0v14.0M409.0 1525.0v14.0M416.1 1486.0v14.0M423.2 1456.0v14.0M430.2 1480.0v14.0M437.3 1482.0v14.0M444.4 1468.0v14.0M451.5 1417.0v14.0M458.6 1458.0v14.0M465.7 1436.0v14.0M472.8 1462.0v14.0M479.9 1519.0v14.0M487.0 1548.0v14.0M494.1 1538.0v14.0M501.1 1519.0v14.0M508.2 1507.0v14.0M515.3 1515.0v14.0M522.4 1531.0v14.0M529.5 1454.0v14.0M536.6 1452.0v14.0M543.7 1475.0v14.0M550.8 1485.0v14.0M557.9 1500.0v14.0M565.0 1512.0v14.0M572.0 1516.0v14.0M579.1 1519.0v14.0M586.2 1534.0v14.0M593.3 1553.0v14.0M600.4 1521.0v14.0M607.5 1492.0v14.0M614.6 1475.0v14.0M621.7 1488.0v14.0M628.8 1525.0v14.0M635.9 1523.0v14.0M642.9 1513.0v14.0M650.0 1500.0v14.0M657.1 1497.0v14.0M664.2 1526.0v14.0M671.3 1534.0v14.0M678.4 1543.0v14.0M685.5 1519.0v14.0M692.6 1528.0v14.0M699.7 1518.0v14.0M706.8 1504.0v14.0M713.8 1493.0v14.0M720.9 1478.0v14.0M728.0 1499.0v14.0M735.1 1514.0v14.0M742.2 1510.0v14.0M749.3 1530.0v14.0M756.4 1523.0v14.0M763.5 1513.0v14.0M770.6 1512.0v14.0M777.6 1553.0v14.0M784.7 1545.0v14.0M791.8 1553.0v14.0M798.9 1562.0v14.0M806.0 1562.0v14.0M813.1 1555.0v14.0M820.2 1543.0v14.0M827.3 1533.0v14.0M834.4 1519.0v14.0M841.5 1540.0v14.0M848.6 1556.0v14.0M855.6 1542.0v14.0M862.7 1556.0v14.0M869.8 1533.0v14.0M876.9 1501.0v14.0M884.0 1518.0v14.0M891.1 1537.0v14.0M898.2 1541.0v14.0M905.3 1544.0v14.0M912.4 1564.0v14.0M919.5 1575.0v14.0M926.5 1567.0v14.0M933.6 1565.0v14.0M940.7 1564.0v14.0M947.8 1548.0v14.0M954.9 1512.0v14.0M962.0 1503.0v14.0M969.1 1513.0v14.0M976.2 1522.0v14.0M983.3 1533.0v14.0M990.4 1547.0v14.0M997.4 1556.0v14.0M1004.5 1553.0v14.0M1011.6 1561.0v14.0M1018.7 1559.0v14.0M1025.8 1563.0v14.0M1032.9 1556.0v14.0M1040.0 1568.0v14.0M1047.1 1575.0v14.0M1054.2 1575.0v14.0M1061.2 1577.0v14.0M1068.3 1564.0v14.0M1075.4 1552.0v14.0M1082.5 1553.0v14.0M1089.6 1555.0v14.0M1096.7 1553.0v14.0M1103.8 1568.0v14.0M1110.9 1573.0v14.0M1118.0 1567.0v14.0M1125.1 1571.0v14.0M1132.2 1563.0v14.0M1139.2 1561.0v14.0M1146.3 1567.0v14.0M1153.4 1567.0v14.0M1160.5 1575.0v14.0M1167.6 1577.0v14.0M1174.7 1577.0v14.0M1181.8 1566.0v14.0M1188.9 1558.0v14.0M1196.0 1559.0v14.0M1203.0 1555.0v14.0M1210.1 1553.0v14.0M1217.2 1558.0v14.0M1224.3 1562.0v14.0M1231.4 1565.0v14.0M1238.5 1564.0v14.0M1245.6 1559.0v14.0M1252.7 1563.0v14.0M1259.8 1566.0v14.0M1266.9 1569.0v14.0M1274.0 1568.0v14.0M1281.0 1571.0v14.0M1288.1 1564.0v14.0M1295.2 1567.0v14.0M1302.3 1561.0v14.0M1309.4 1568.0v14.0M1316.5 1563.0v14.0M1323.6 1533.0v14.0M1330.7 1564.0v14.0M1337.8 1534.0v14.0M1344.9 1553.0v14.0M1351.9 1564.0v14.0M1359.0 1568.0v14.0M1366.1 1565.0v14.0M1373.2 1577.0v14.0M1380.3 1571.0v14.0M1387.4 1568.0v14.0M1394.5 1577.0v14.0M1401.6 1571.0v14.0M1408.7 1563.0v14.0M1415.8 1561.0v14.0M1422.8 1559.0v14.0M1429.9 1561.0v14.0M1437.0 1567.0v14.0M1444.1 1568.0v14.0M1451.2 1568.0v14.0M1458.3 1573.0v14.0M1465.4 1575.0v14.0M1472.5 1575.0v14.0M1479.6 1573.0v14.0M1486.7 1571.0v14.0M1493.7 1568.0v14.0M1500.8 1563.0v14.0M1507.9 1558.0v14.0M1515.0 1561.0v14.0M1522.1 1559.0v14.0M1529.2 1546.0v14.0M1536.3 1545.0v14.0M1543.4 1561.0v14.0M1550.5 1571.0v14.0M1557.5 1577.0v14.0M1564.6 1577.0v14.0M1571.7 1568.0v14.0M1578.8 1577.0v14.0M1585.9 1577.0v14.0" stroke="#006499" stroke-width="1.8" fill="none"/>
<g fill="#006499"><circle cx="175.0" cy="1584.0" r="6.5"/><circle cx="182.1" cy="1570.0" r="6.5"/><circle cx="189.2" cy="1546.0" r="6.5"/><circle cx="196.3" cy="1507.0" r="6.5"/><circle cx="203.4" cy="1336.0" r="6.5"/><circle cx="210.4" cy="1406.0" r="6.5"/><circle cx="217.5" cy="1385.0" r="6.5"/><circle cx="224.6" cy="1264.0" r="6.5"/><circle cx="231.7" cy="1332.0" r="6.5"/><circle cx="238.8" cy="1423.0" r="6.5"/><circle cx="245.9" cy="1353.0" r="6.5"/><circle cx="253.0" cy="1256.0" r="6.5"/><circle cx="260.1" cy="1351.0" r="6.5"/><circle cx="267.2" cy="1437.0" r="6.5"/><circle cx="274.3" cy="1455.0" r="6.5"/><circle cx="281.4" cy="1423.0" r="6.5"/><circle cx="288.4" cy="1453.0" r="6.5"/><circle cx="295.5" cy="1426.0" r="6.5"/><circle cx="302.6" cy="1419.0" r="6.5"/><circle cx="309.7" cy="1329.0" r="6.5"/><circle cx="316.8" cy="1362.0" r="6.5"/><circle cx="323.9" cy="1415.0" r="6.5"/><circle cx="331.0" cy="1430.0" r="6.5"/><circle cx="338.1" cy="1455.0" r="6.5"/><circle cx="345.2" cy="1500.0" r="6.5"/><circle cx="352.2" cy="1465.0" r="6.5"/><circle cx="359.3" cy="1471.0" r="6.5"/><circle cx="366.4" cy="1446.0" r="6.5"/><circle cx="373.5" cy="1434.0" r="6.5"/><circle cx="380.6" cy="1439.0" r="6.5"/><circle cx="387.7" cy="1415.0" r="6.5"/><circle cx="394.8" cy="1464.0" r="6.5"/><circle cx="401.9" cy="1526.0" r="6.5"/><circle cx="409.0" cy="1532.0" r="6.5"/><circle cx="416.1" cy="1493.0" r="6.5"/><circle cx="423.2" cy="1463.0" r="6.5"/><circle cx="430.2" cy="1487.0" r="6.5"/><circle cx="437.3" cy="1489.0" r="6.5"/><circle cx="444.4" cy="1475.0" r="6.5"/><circle cx="451.5" cy="1424.0" r="6.5"/><circle cx="458.6" cy="1465.0" r="6.5"/><circle cx="465.7" cy="1443.0" r="6.5"/><circle cx="472.8" cy="1469.0" r="6.5"/><circle cx="479.9" cy="1526.0" r="6.5"/><circle cx="487.0" cy="1555.0" r="6.5"/><circle cx="494.1" cy="1545.0" r="6.5"/><circle cx="501.1" cy="1526.0" r="6.5"/><circle cx="508.2" cy="1514.0" r="6.5"/><circle cx="515.3" cy="1522.0" r="6.5"/><circle cx="522.4" cy="1538.0" r="6.5"/><circle cx="529.5" cy="1461.0" r="6.5"/><circle cx="536.6" cy="1459.0" r="6.5"/><circle cx="543.7" cy="1482.0" r="6.5"/><circle cx="550.8" cy="1492.0" r="6.5"/><circle cx="557.9" cy="1507.0" r="6.5"/><circle cx="565.0" cy="1519.0" r="6.5"/><circle cx="572.0" cy="1523.0" r="6.5"/><circle cx="579.1" cy="1526.0" r="6.5"/><circle cx="586.2" cy="1541.0" r="6.5"/><circle cx="593.3" cy="1560.0" r="6.5"/><circle cx="600.4" cy="1528.0" r="6.5"/><circle cx="607.5" cy="1499.0" r="6.5"/><circle cx="614.6" cy="1482.0" r="6.5"/><circle cx="621.7" cy="1495.0" r="6.5"/><circle cx="628.8" cy="1532.0" r="6.5"/><circle cx="635.9" cy="1530.0" r="6.5"/><circle cx="642.9" cy="1520.0" r="6.5"/><circle cx="650.0" cy="1507.0" r="6.5"/><circle cx="657.1" cy="1504.0" r="6.5"/><circle cx="664.2" cy="1533.0" r="6.5"/><circle cx="671.3" cy="1541.0" r="6.5"/><circle cx="678.4" cy="1550.0" r="6.5"/><circle cx="685.5" cy="1526.0" r="6.5"/><circle cx="692.6" cy="1535.0" r="6.5"/><circle cx="699.7" cy="1525.0" r="6.5"/><circle cx="706.8" cy="1511.0" r="6.5"/><circle cx="713.8" cy="1500.0" r="6.5"/><circle cx="720.9" cy="1485.0" r="6.5"/><circle cx="728.0" cy="1506.0" r="6.5"/><circle cx="735.1" cy="1521.0" r="6.5"/><circle cx="742.2" cy="1517.0" r="6.5"/><circle cx="749.3" cy="1537.0" r="6.5"/><circle cx="756.4" cy="1530.0" r="6.5"/><circle cx="763.5" cy="1520.0" r="6.5"/><circle cx="770.6" cy="1519.0" r="6.5"/><circle cx="777.6" cy="1560.0" r="6.5"/><circle cx="784.7" cy="1552.0" r="6.5"/><circle cx="791.8" cy="1560.0" r="6.5"/><circle cx="798.9" cy="1569.0" r="6.5"/><circle cx="806.0" cy="1569.0" r="6.5"/><circle cx="813.1" cy="1562.0" r="6.5"/><circle cx="820.2" cy="1550.0" r="6.5"/><circle cx="827.3" cy="1540.0" r="6.5"/><circle cx="834.4" cy="1526.0" r="6.5"/><circle cx="841.5" cy="1547.0" r="6.5"/><circle cx="848.6" cy="1563.0" r="6.5"/><circle cx="855.6" cy="1549.0" r="6.5"/><circle cx="862.7" cy="1563.0" r="6.5"/><circle cx="869.8" cy="1540.0" r="6.5"/><circle cx="876.9" cy="1508.0" r="6.5"/><circle cx="884.0" cy="1525.0" r="6.5"/><circle cx="891.1" cy="1544.0" r="6.5"/><circle cx="898.2" cy="1548.0" r="6.5"/><circle cx="905.3" cy="1551.0" r="6.5"/><circle cx="912.4" cy="1571.0" r="6.5"/><circle cx="919.5" cy="1582.0" r="6.5"/><circle cx="926.5" cy="1574.0" r="6.5"/><circle cx="933.6" cy="1572.0" r="6.5"/><circle cx="940.7" cy="1571.0" r="6.5"/><circle cx="947.8" cy="1555.0" r="6.5"/><circle cx="954.9" cy="1519.0" r="6.5"/><circle cx="962.0" cy="1510.0" r="6.5"/><circle cx="969.1" cy="1520.0" r="6.5"/><circle cx="976.2" cy="1529.0" r="6.5"/><circle cx="983.3" cy="1540.0" r="6.5"/><circle cx="990.4" cy="1554.0" r="6.5"/><circle cx="997.4" cy="1563.0" r="6.5"/><circle cx="1004.5" cy="1560.0" r="6.5"/><circle cx="1011.6" cy="1568.0" r="6.5"/><circle cx="1018.7" cy="1566.0" r="6.5"/><circle cx="1025.8" cy="1570.0" r="6.5"/><circle cx="1032.9" cy="1563.0" r="6.5"/><circle cx="1040.0" cy="1575.0" r="6.5"/><circle cx="1047.1" cy="1582.0" r="6.5"/><circle cx="1054.2" cy="1582.0" r="6.5"/><circle cx="1061.2" cy="1584.0" r="6.5"/><circle cx="1068.3" cy="1571.0" r="6.5"/><circle cx="1075.4" cy="1559.0" r="6.5"/><circle cx="1082.5" cy="1560.0" r="6.5"/><circle cx="1089.6" cy="1562.0" r="6.5"/><circle cx="1096.7" cy="1560.0" r="6.5"/><circle cx="1103.8" cy="1575.0" r="6.5"/><circle cx="1110.9" cy="1580.0" r="6.5"/><circle cx="1118.0" cy="1574.0" r="6.5"/><circle cx="1125.1" cy="1578.0" r="6.5"/><circle cx="1132.2" cy="1570.0" r="6.5"/><circle cx="1139.2" cy="1568.0" r="6.5"/><circle cx="1146.3" cy="1574.0" r="6.5"/><circle cx="1153.4" cy="1574.0" r="6.5"/><circle cx="1160.5" cy="1582.0" r="6.5"/><circle cx="1167.6" cy="1584.0" r="6.5"/><circle cx="1174.7" cy="1584.0" r="6.5"/><circle cx="1181.8" cy="1573.0" r="6.5"/><circle cx="1188.9" cy="1565.0" r="6.5"/><circle cx="1196.0" cy="1566.0" r="6.5"/><circle cx="1203.0" cy="1562.0" r="6.5"/><circle cx="1210.1" cy="1560.0" r="6.5"/><circle cx="1217.2" cy="1565.0" r="6.5"/><circle cx="1224.3" cy="1569.0" r="6.5"/><circle cx="1231.4" cy="1572.0" r="6.5"/><circle cx="1238.5" cy="1571.0" r="6.5"/><circle cx="1245.6" cy="1566.0" r="6.5"/><circle cx="1252.7" cy="1570.0" r="6.5"/><circle cx="1259.8" cy="1573.0" r="6.5"/><circle cx="1266.9" cy="1576.0" r="6.5"/><circle cx="1274.0" cy="1575.0" r="6.5"/><circle cx="1281.0" cy="1578.0" r="6.5"/><circle cx="1288.1" cy="1571.0" r="6.5"/><circle cx="1295.2" cy="1574.0" r="6.5"/><circle cx="1302.3" cy="1568.0" r="6.5"/><circle cx="1309.4" cy="1575.0" r="6.5"/><circle cx="1316.5" cy="1570.0" r="6.5"/><circle cx="1323.6" cy="1540.0" r="6.5"/><circle cx="1330.7" cy="1571.0" r="6.5"/><circle cx="1337.8" cy="1541.0" r="6.5"/><circle cx="1344.9" cy="1560.0" r="6.5"/><circle cx="1351.9" cy="1571.0" r="6.5"/><circle cx="1359.0" cy="1575.0" r="6.5"/><circle cx="1366.1" cy="1572.0" r="6.5"/><circle cx="1373.2" cy="1584.0" r="6.5"/><circle cx="1380.3" cy="1578.0" r="6.5"/><circle cx="1387.4" cy="1575.0" r="6.5"/><circle cx="1394.5" cy="1584.0" r="6.5"/><circle cx="1401.6" cy="1578.0" r="6.5"/><circle cx="1408.7" cy="1570.0" r="6.5"/><circle cx="1415.8" cy="1568.0" r="6.5"/><circle cx="1422.8" cy="1566.0" r="6.5"/><circle cx="1429.9" cy="1568.0" r="6.5"/><circle cx="1437.0" cy="1574.0" r="6.5"/><circle cx="1444.1" cy="1575.0" r="6.5"/><circle cx="1451.2" cy="1575.0" r="6.5"/><circle cx="1458.3" cy="1580.0" r="6.5"/><circle cx="1465.4" cy="1582.0" r="6.5"/><circle cx="1472.5" cy="1582.0" r="6.5"/><circle cx="1479.6" cy="1580.0" r="6.5"/><circle cx="1486.7" cy="1578.0" r="6.5"/><circle cx="1493.7" cy="1575.0" r="6.5"/><circle cx="1500.8" cy="1570.0" r="6.5"/><circle cx="1507.9" cy="1565.0" r="6.5"/><circle cx="1515.0" cy="1568.0" r="6.5"/><circle cx="1522.1" cy="1566.0" r="6.5"/><circle cx="1529.2" cy="1553.0" r="6.5"/><circle cx="1536.3" cy="1552.0" r="6.5"/><circle cx="1543.4" cy="1568.0" r="6.5"/><circle cx="1550.5" cy="1578.0" r="6.5"/><circle cx="1557.5" cy="1584.0" r="6.5"/><circle cx="1564.6" cy="1584.0" r="6.5"/><circle cx="1571.7" cy="1575.0" r="6.5"/><circle cx="1578.8" cy="1584.0" r="6.5"/><circle cx="1585.9" cy="1584.0" r="6.5"/></g>
<path d="M175.0 1584.0 L182.1 1575.0 L189.2 1570.0 L196.3 1544.0 L203.4 1567.0 L210.4 1567.0 L217.5 1543.0 L224.6 1514.0 L231.7 1544.0 L238.8 1527.0 L245.9 1511.0 L253.0 1512.0 L260.1 1512.0 L267.2 1523.0 L274.3 1529.0 L281.4 1488.0 L288.4 1527.0 L295.5 1560.0 L302.6 1553.0 L309.7 1553.0 L316.8 1485.0 L323.9 1527.0 L331.0 1511.0 L338.1 1526.0 L345.2 1549.0 L352.2 1532.0 L359.3 1493.0 L366.4 1484.0 L373.5 1484.0 L380.6 1521.0 L387.7 1556.0 L394.8 1540.0 L401.9 1545.0 L409.0 1538.0 L416.1 1568.0 L423.2 1555.0 L430.2 1563.0 L437.3 1575.0 L444.4 1572.0 L451.5 1560.0 L458.6 1556.0 L465.7 1555.0 L472.8 1558.0 L479.9 1568.0 L487.0 1570.0 L494.1 1565.0 L501.1 1560.0 L508.2 1534.0 L515.3 1532.0 L522.4 1564.0 L529.5 1538.0 L536.6 1555.0 L543.7 1573.0 L550.8 1581.0 L557.9 1569.0 L565.0 1571.0 L572.0 1532.0 L579.1 1541.0 L586.2 1577.0 L593.3 1548.0 L600.4 1529.0 L607.5 1564.0 L614.6 1552.0 L621.7 1528.0 L628.8 1521.0 L635.9 1502.0 L642.9 1530.0 L650.0 1544.0 L657.1 1535.0 L664.2 1522.0 L671.3 1521.0 L678.4 1495.0 L685.5 1503.0 L692.6 1538.0 L699.7 1507.0 L706.8 1525.0 L713.8 1547.0 L720.9 1562.0 L728.0 1538.0 L735.1 1521.0 L742.2 1552.0 L749.3 1528.0 L756.4 1540.0 L763.5 1563.0 L770.6 1571.0 L777.6 1570.0 L784.7 1558.0 L791.8 1575.0 L798.9 1567.0 L806.0 1547.0 L813.1 1564.0 L820.2 1541.0 L827.3 1533.0 L834.4 1549.0 L841.5 1528.0 L848.6 1521.0 L855.6 1537.0 L862.7 1551.0 L869.8 1533.0 L876.9 1513.0 L884.0 1544.0 L891.1 1563.0 L898.2 1559.0 L905.3 1530.0 L912.4 1526.0 L919.5 1532.0 L926.5 1541.0 L933.6 1532.0 L940.7 1560.0 L947.8 1541.0 L954.9 1528.0 L962.0 1522.0 L969.1 1532.0 L976.2 1507.0 L983.3 1500.0 L990.4 1493.0 L997.4 1480.0 L1004.5 1495.0 L1011.6 1497.0 L1018.7 1478.0 L1025.8 1514.0 L1032.9 1507.0 L1040.0 1489.0 L1047.1 1496.0 L1054.2 1514.0 L1061.2 1507.0 L1068.3 1495.0 L1075.4 1529.0 L1082.5 1506.0 L1089.6 1529.0 L1096.7 1502.0 L1103.8 1507.0 L1110.9 1467.0 L1118.0 1425.0 L1125.1 1472.0 L1132.2 1469.0 L1139.2 1497.0 L1146.3 1521.0 L1153.4 1510.0 L1160.5 1521.0 L1167.6 1505.0 L1174.7 1510.0 L1181.8 1529.0 L1188.9 1498.0 L1196.0 1505.0 L1203.0 1533.0 L1210.1 1505.0 L1217.2 1521.0 L1224.3 1508.0 L1231.4 1534.0 L1238.5 1505.0 L1245.6 1519.0 L1252.7 1505.0 L1259.8 1517.0 L1266.9 1544.0 L1274.0 1523.0 L1281.0 1541.0 L1288.1 1546.0 L1295.2 1544.0 L1302.3 1511.0 L1309.4 1514.0 L1316.5 1521.0 L1323.6 1530.0 L1330.7 1487.0 L1337.8 1514.0 L1344.9 1547.0 L1351.9 1533.0 L1359.0 1548.0 L1366.1 1554.0 L1373.2 1534.0 L1380.3 1543.0 L1387.4 1530.0 L1394.5 1530.0 L1401.6 1550.0 L1408.7 1564.0 L1415.8 1554.0 L1422.8 1537.0 L1429.9 1506.0 L1437.0 1507.0 L1444.1 1519.0 L1451.2 1528.0 L1458.3 1533.0 L1465.4 1530.0 L1472.5 1547.0 L1479.6 1544.0 L1486.7 1551.0 L1493.7 1544.0 L1500.8 1530.0 L1507.9 1514.0 L1515.0 1522.0 L1522.1 1514.0 L1529.2 1503.0 L1536.3 1525.0 L1543.4 1470.0 L1550.5 1487.0 L1557.5 1477.0 L1564.6 1530.0 L1571.7 1487.0 L1578.8 1428.0 L1585.9 1487.0" fill="none" stroke="#D55355" stroke-width="3.8" stroke-linejoin="round" clip-path="url(#clipb)"/>
<path d="M175.0 1577.0v14.0M182.1 1568.0v14.0M189.2 1563.0v14.0M196.3 1537.0v14.0M203.4 1560.0v14.0M210.4 1560.0v14.0M217.5 1536.0v14.0M224.6 1507.0v14.0M231.7 1537.0v14.0M238.8 1520.0v14.0M245.9 1504.0v14.0M253.0 1505.0v14.0M260.1 1505.0v14.0M267.2 1516.0v14.0M274.3 1522.0v14.0M281.4 1481.0v14.0M288.4 1520.0v14.0M295.5 1553.0v14.0M302.6 1546.0v14.0M309.7 1546.0v14.0M316.8 1478.0v14.0M323.9 1520.0v14.0M331.0 1504.0v14.0M338.1 1519.0v14.0M345.2 1542.0v14.0M352.2 1525.0v14.0M359.3 1486.0v14.0M366.4 1477.0v14.0M373.5 1477.0v14.0M380.6 1514.0v14.0M387.7 1549.0v14.0M394.8 1533.0v14.0M401.9 1538.0v14.0M409.0 1531.0v14.0M416.1 1561.0v14.0M423.2 1548.0v14.0M430.2 1556.0v14.0M437.3 1568.0v14.0M444.4 1565.0v14.0M451.5 1553.0v14.0M458.6 1549.0v14.0M465.7 1548.0v14.0M472.8 1551.0v14.0M479.9 1561.0v14.0M487.0 1563.0v14.0M494.1 1558.0v14.0M501.1 1553.0v14.0M508.2 1527.0v14.0M515.3 1525.0v14.0M522.4 1557.0v14.0M529.5 1531.0v14.0M536.6 1548.0v14.0M543.7 1566.0v14.0M550.8 1574.0v14.0M557.9 1562.0v14.0M565.0 1564.0v14.0M572.0 1525.0v14.0M579.1 1534.0v14.0M586.2 1570.0v14.0M593.3 1541.0v14.0M600.4 1522.0v14.0M607.5 1557.0v14.0M614.6 1545.0v14.0M621.7 1521.0v14.0M628.8 1514.0v14.0M635.9 1495.0v14.0M642.9 1523.0v14.0M650.0 1537.0v14.0M657.1 1528.0v14.0M664.2 1515.0v14.0M671.3 1514.0v14.0M678.4 1488.0v14.0M685.5 1496.0v14.0M692.6 1531.0v14.0M699.7 1500.0v14.0M706.8 1518.0v14.0M713.8 1540.0v14.0M720.9 1555.0v14.0M728.0 1531.0v14.0M735.1 1514.0v14.0M742.2 1545.0v14.0M749.3 1521.0v14.0M756.4 1533.0v14.0M763.5 1556.0v14.0M770.6 1564.0v14.0M777.6 1563.0v14.0M784.7 1551.0v14.0M791.8 1568.0v14.0M798.9 1560.0v14.0M806.0 1540.0v14.0M813.1 1557.0v14.0M820.2 1534.0v14.0M827.3 1526.0v14.0M834.4 1542.0v14.0M841.5 1521.0v14.0M848.6 1514.0v14.0M855.6 1530.0v14.0M862.7 1544.0v14.0M869.8 1526.0v14.0M876.9 1506.0v14.0M884.0 1537.0v14.0M891.1 1556.0v14.0M898.2 1552.0v14.0M905.3 1523.0v14.0M912.4 1519.0v14.0M919.5 1525.0v14.0M926.5 1534.0v14.0M933.6 1525.0v14.0M940.7 1553.0v14.0M947.8 1534.0v14.0M954.9 1521.0v14.0M962.0 1515.0v14.0M969.1 1525.0v14.0M976.2 1500.0v14.0M983.3 1493.0v14.0M990.4 1486.0v14.0M997.4 1473.0v14.0M1004.5 1488.0v14.0M1011.6 1490.0v14.0M1018.7 1471.0v14.0M1025.8 1507.0v14.0M1032.9 1500.0v14.0M1040.0 1482.0v14.0M1047.1 1489.0v14.0M1054.2 1507.0v14.0M1061.2 1500.0v14.0M1068.3 1488.0v14.0M1075.4 1522.0v14.0M1082.5 1499.0v14.0M1089.6 1522.0v14.0M1096.7 1495.0v14.0M1103.8 1500.0v14.0M1110.9 1460.0v14.0M1118.0 1418.0v14.0M1125.1 1465.0v14.0M1132.2 1462.0v14.0M1139.2 1490.0v14.0M1146.3 1514.0v14.0M1153.4 1503.0v14.0M1160.5 1514.0v14.0M1167.6 1498.0v14.0M1174.7 1503.0v14.0M1181.8 1522.0v14.0M1188.9 1491.0v14.0M1196.0 1498.0v14.0M1203.0 1526.0v14.0M1210.1 1498.0v14.0M1217.2 1514.0v14.0M1224.3 1501.0v14.0M1231.4 1527.0v14.0M1238.5 1498.0v14.0M1245.6 1512.0v14.0M1252.7 1498.0v14.0M1259.8 1510.0v14.0M1266.9 1537.0v14.0M1274.0 1516.0v14.0M1281.0 1534.0v14.0M1288.1 1539.0v14.0M1295.2 1537.0v14.0M1302.3 1504.0v14.0M1309.4 1507.0v14.0M1316.5 1514.0v14.0M1323.6 1523.0v14.0M1330.7 1480.0v14.0M1337.8 1507.0v14.0M1344.9 1540.0v14.0M1351.9 1526.0v14.0M1359.0 1541.0v14.0M1366.1 1547.0v14.0M1373.2 1527.0v14.0M1380.3 1536.0v14.0M1387.4 1523.0v14.0M1394.5 1523.0v14.0M1401.6 1543.0v14.0M1408.7 1557.0v14.0M1415.8 1547.0v14.0M1422.8 1530.0v14.0M1429.9 1499.0v14.0M1437.0 1500.0v14.0M1444.1 1512.0v14.0M1451.2 1521.0v14.0M1458.3 1526.0v14.0M1465.4 1523.0v14.0M1472.5 1540.0v14.0M1479.6 1537.0v14.0M1486.7 1544.0v14.0M1493.7 1537.0v14.0M1500.8 1523.0v14.0M1507.9 1507.0v14.0M1515.0 1515.0v14.0M1522.1 1507.0v14.0M1529.2 1496.0v14.0M1536.3 1518.0v14.0M1543.4 1463.0v14.0M1550.5 1480.0v14.0M1557.5 1470.0v14.0M1564.6 1523.0v14.0M1571.7 1480.0v14.0M1578.8 1421.0v14.0M1585.9 1480.0v14.0" stroke="#D55355" stroke-width="1.8" fill="none"/>
<g fill="#D55355"><circle cx="175.0" cy="1584.0" r="6.5"/><circle cx="182.1" cy="1575.0" r="6.5"/><circle cx="189.2" cy="1570.0" r="6.5"/><circle cx="196.3" cy="1544.0" r="6.5"/><circle cx="203.4" cy="1567.0" r="6.5"/><circle cx="210.4" cy="1567.0" r="6.5"/><circle cx="217.5" cy="1543.0" r="6.5"/><circle cx="224.6" cy="1514.0" r="6.5"/><circle cx="231.7" cy="1544.0" r="6.5"/><circle cx="238.8" cy="1527.0" r="6.5"/><circle cx="245.9" cy="1511.0" r="6.5"/><circle cx="253.0" cy="1512.0" r="6.5"/><circle cx="260.1" cy="1512.0" r="6.5"/><circle cx="267.2" cy="1523.0" r="6.5"/><circle cx="274.3" cy="1529.0" r="6.5"/><circle cx="281.4" cy="1488.0" r="6.5"/><circle cx="288.4" cy="1527.0" r="6.5"/><circle cx="295.5" cy="1560.0" r="6.5"/><circle cx="302.6" cy="1553.0" r="6.5"/><circle cx="309.7" cy="1553.0" r="6.5"/><circle cx="316.8" cy="1485.0" r="6.5"/><circle cx="323.9" cy="1527.0" r="6.5"/><circle cx="331.0" cy="1511.0" r="6.5"/><circle cx="338.1" cy="1526.0" r="6.5"/><circle cx="345.2" cy="1549.0" r="6.5"/><circle cx="352.2" cy="1532.0" r="6.5"/><circle cx="359.3" cy="1493.0" r="6.5"/><circle cx="366.4" cy="1484.0" r="6.5"/><circle cx="373.5" cy="1484.0" r="6.5"/><circle cx="380.6" cy="1521.0" r="6.5"/><circle cx="387.7" cy="1556.0" r="6.5"/><circle cx="394.8" cy="1540.0" r="6.5"/><circle cx="401.9" cy="1545.0" r="6.5"/><circle cx="409.0" cy="1538.0" r="6.5"/><circle cx="416.1" cy="1568.0" r="6.5"/><circle cx="423.2" cy="1555.0" r="6.5"/><circle cx="430.2" cy="1563.0" r="6.5"/><circle cx="437.3" cy="1575.0" r="6.5"/><circle cx="444.4" cy="1572.0" r="6.5"/><circle cx="451.5" cy="1560.0" r="6.5"/><circle cx="458.6" cy="1556.0" r="6.5"/><circle cx="465.7" cy="1555.0" r="6.5"/><circle cx="472.8" cy="1558.0" r="6.5"/><circle cx="479.9" cy="1568.0" r="6.5"/><circle cx="487.0" cy="1570.0" r="6.5"/><circle cx="494.1" cy="1565.0" r="6.5"/><circle cx="501.1" cy="1560.0" r="6.5"/><circle cx="508.2" cy="1534.0" r="6.5"/><circle cx="515.3" cy="1532.0" r="6.5"/><circle cx="522.4" cy="1564.0" r="6.5"/><circle cx="529.5" cy="1538.0" r="6.5"/><circle cx="536.6" cy="1555.0" r="6.5"/><circle cx="543.7" cy="1573.0" r="6.5"/><circle cx="550.8" cy="1581.0" r="6.5"/><circle cx="557.9" cy="1569.0" r="6.5"/><circle cx="565.0" cy="1571.0" r="6.5"/><circle cx="572.0" cy="1532.0" r="6.5"/><circle cx="579.1" cy="1541.0" r="6.5"/><circle cx="586.2" cy="1577.0" r="6.5"/><circle cx="593.3" cy="1548.0" r="6.5"/><circle cx="600.4" cy="1529.0" r="6.5"/><circle cx="607.5" cy="1564.0" r="6.5"/><circle cx="614.6" cy="1552.0" r="6.5"/><circle cx="621.7" cy="1528.0" r="6.5"/><circle cx="628.8" cy="1521.0" r="6.5"/><circle cx="635.9" cy="1502.0" r="6.5"/><circle cx="642.9" cy="1530.0" r="6.5"/><circle cx="650.0" cy="1544.0" r="6.5"/><circle cx="657.1" cy="1535.0" r="6.5"/><circle cx="664.2" cy="1522.0" r="6.5"/><circle cx="671.3" cy="1521.0" r="6.5"/><circle cx="678.4" cy="1495.0" r="6.5"/><circle cx="685.5" cy="1503.0" r="6.5"/><circle cx="692.6" cy="1538.0" r="6.5"/><circle cx="699.7" cy="1507.0" r="6.5"/><circle cx="706.8" cy="1525.0" r="6.5"/><circle cx="713.8" cy="1547.0" r="6.5"/><circle cx="720.9" cy="1562.0" r="6.5"/><circle cx="728.0" cy="1538.0" r="6.5"/><circle cx="735.1" cy="1521.0" r="6.5"/><circle cx="742.2" cy="1552.0" r="6.5"/><circle cx="749.3" cy="1528.0" r="6.5"/><circle cx="756.4" cy="1540.0" r="6.5"/><circle cx="763.5" cy="1563.0" r="6.5"/><circle cx="770.6" cy="1571.0" r="6.5"/><circle cx="777.6" cy="1570.0" r="6.5"/><circle cx="784.7" cy="1558.0" r="6.5"/><circle cx="791.8" cy="1575.0" r="6.5"/><circle cx="798.9" cy="1567.0" r="6.5"/><circle cx="806.0" cy="1547.0" r="6.5"/><circle cx="813.1" cy="1564.0" r="6.5"/><circle cx="820.2" cy="1541.0" r="6.5"/><circle cx="827.3" cy="1533.0" r="6.5"/><circle cx="834.4" cy="1549.0" r="6.5"/><circle cx="841.5" cy="1528.0" r="6.5"/><circle cx="848.6" cy="1521.0" r="6.5"/><circle cx="855.6" cy="1537.0" r="6.5"/><circle cx="862.7" cy="1551.0" r="6.5"/><circle cx="869.8" cy="1533.0" r="6.5"/><circle cx="876.9" cy="1513.0" r="6.5"/><circle cx="884.0" cy="1544.0" r="6.5"/><circle cx="891.1" cy="1563.0" r="6.5"/><circle cx="898.2" cy="1559.0" r="6.5"/><circle cx="905.3" cy="1530.0" r="6.5"/><circle cx="912.4" cy="1526.0" r="6.5"/><circle cx="919.5" cy="1532.0" r="6.5"/><circle cx="926.5" cy="1541.0" r="6.5"/><circle cx="933.6" cy="1532.0" r="6.5"/><circle cx="940.7" cy="1560.0" r="6.5"/><circle cx="947.8" cy="1541.0" r="6.5"/><circle cx="954.9" cy="1528.0" r="6.5"/><circle cx="962.0" cy="1522.0" r="6.5"/><circle cx="969.1" cy="1532.0" r="6.5"/><circle cx="976.2" cy="1507.0" r="6.5"/><circle cx="983.3" cy="1500.0" r="6.5"/><circle cx="990.4" cy="1493.0" r="6.5"/><circle cx="997.4" cy="1480.0" r="6.5"/><circle cx="1004.5" cy="1495.0" r="6.5"/><circle cx="1011.6" cy="1497.0" r="6.5"/><circle cx="1018.7" cy="1478.0" r="6.5"/><circle cx="1025.8" cy="1514.0" r="6.5"/><circle cx="1032.9" cy="1507.0" r="6.5"/><circle cx="1040.0" cy="1489.0" r="6.5"/><circle cx="1047.1" cy="1496.0" r="6.5"/><circle cx="1054.2" cy="1514.0" r="6.5"/><circle cx="1061.2" cy="1507.0" r="6.5"/><circle cx="1068.3" cy="1495.0" r="6.5"/><circle cx="1075.4" cy="1529.0" r="6.5"/><circle cx="1082.5" cy="1506.0" r="6.5"/><circle cx="1089.6" cy="1529.0" r="6.5"/><circle cx="1096.7" cy="1502.0" r="6.5"/><circle cx="1103.8" cy="1507.0" r="6.5"/><circle cx="1110.9" cy="1467.0" r="6.5"/><circle cx="1118.0" cy="1425.0" r="6.5"/><circle cx="1125.1" cy="1472.0" r="6.5"/><circle cx="1132.2" cy="1469.0" r="6.5"/><circle cx="1139.2" cy="1497.0" r="6.5"/><circle cx="1146.3" cy="1521.0" r="6.5"/><circle cx="1153.4" cy="1510.0" r="6.5"/><circle cx="1160.5" cy="1521.0" r="6.5"/><circle cx="1167.6" cy="1505.0" r="6.5"/><circle cx="1174.7" cy="1510.0" r="6.5"/><circle cx="1181.8" cy="1529.0" r="6.5"/><circle cx="1188.9" cy="1498.0" r="6.5"/><circle cx="1196.0" cy="1505.0" r="6.5"/><circle cx="1203.0" cy="1533.0" r="6.5"/><circle cx="1210.1" cy="1505.0" r="6.5"/><circle cx="1217.2" cy="1521.0" r="6.5"/><circle cx="1224.3" cy="1508.0" r="6.5"/><circle cx="1231.4" cy="1534.0" r="6.5"/><circle cx="1238.5" cy="1505.0" r="6.5"/><circle cx="1245.6" cy="1519.0" r="6.5"/><circle cx="1252.7" cy="1505.0" r="6.5"/><circle cx="1259.8" cy="1517.0" r="6.5"/><circle cx="1266.9" cy="1544.0" r="6.5"/><circle cx="1274.0" cy="1523.0" r="6.5"/><circle cx="1281.0" cy="1541.0" r="6.5"/><circle cx="1288.1" cy="1546.0" r="6.5"/><circle cx="1295.2" cy="1544.0" r="6.5"/><circle cx="1302.3" cy="1511.0" r="6.5"/><circle cx="1309.4" cy="1514.0" r="6.5"/><circle cx="1316.5" cy="1521.0" r="6.5"/><circle cx="1323.6" cy="1530.0" r="6.5"/><circle cx="1330.7" cy="1487.0" r="6.5"/><circle cx="1337.8" cy="1514.0" r="6.5"/><circle cx="1344.9" cy="1547.0" r="6.5"/><circle cx="1351.9" cy="1533.0" r="6.5"/><circle cx="1359.0" cy="1548.0" r="6.5"/><circle cx="1366.1" cy="1554.0" r="6.5"/><circle cx="1373.2" cy="1534.0" r="6.5"/><circle cx="1380.3" cy="1543.0" r="6.5"/><circle cx="1387.4" cy="1530.0" r="6.5"/><circle cx="1394.5" cy="1530.0" r="6.5"/><circle cx="1401.6" cy="1550.0" r="6.5"/><circle cx="1408.7" cy="1564.0" r="6.5"/><circle cx="1415.8" cy="1554.0" r="6.5"/><circle cx="1422.8" cy="1537.0" r="6.5"/><circle cx="1429.9" cy="1506.0" r="6.5"/><circle cx="1437.0" cy="1507.0" r="6.5"/><circle cx="1444.1" cy="1519.0" r="6.5"/><circle cx="1451.2" cy="1528.0" r="6.5"/><circle cx="1458.3" cy="1533.0" r="6.5"/><circle cx="1465.4" cy="1530.0" r="6.5"/><circle cx="1472.5" cy="1547.0" r="6.5"/><circle cx="1479.6" cy="1544.0" r="6.5"/><circle cx="1486.7" cy="1551.0" r="6.5"/><circle cx="1493.7" cy="1544.0" r="6.5"/><circle cx="1500.8" cy="1530.0" r="6.5"/><circle cx="1507.9" cy="1514.0" r="6.5"/><circle cx="1515.0" cy="1522.0" r="6.5"/><circle cx="1522.1" cy="1514.0" r="6.5"/><circle cx="1529.2" cy="1503.0" r="6.5"/><circle cx="1536.3" cy="1525.0" r="6.5"/><circle cx="1543.4" cy="1470.0" r="6.5"/><circle cx="1550.5" cy="1487.0" r="6.5"/><circle cx="1557.5" cy="1477.0" r="6.5"/><circle cx="1564.6" cy="1530.0" r="6.5"/><circle cx="1571.7" cy="1487.0" r="6.5"/><circle cx="1578.8" cy="1428.0" r="6.5"/><circle cx="1585.9" cy="1487.0" r="6.5"/></g>
</g>
<path d="M458.6 168.0V202.0M458.6 875.0V841.0M458.6 877.0V911.0M458.6 1582.0V1548.0M742.2 168.0V202.0M742.2 875.0V841.0M742.2 877.0V911.0M742.2 1582.0V1548.0M1025.8 168.0V202.0M1025.8 875.0V841.0M1025.8 877.0V911.0M1025.8 1582.0V1548.0M1309.4 168.0V202.0M1309.4 875.0V841.0M1309.4 877.0V911.0M1309.4 1582.0V1548.0" stroke="#767676" stroke-width="1.8" fill="none"/>
<path d="M175 166H1593V1584H175Z M175 875H1593" fill="none" stroke="#000" stroke-width="4"/>
<rect x="408" y="28" width="951.5" height="136" fill="#fff" stroke="#000" stroke-width="4"/>
<path d="M439 96H582" stroke="#4DBEFF" stroke-width="14"/>
<path d="M709 96H852" stroke="#006499" stroke-width="14"/>
<path d="M978 96H1121" stroke="#D55355" stroke-width="14"/>
<text><tspan x="606.24" y="118.88" font-size="85.42" textLength="49.67" lengthAdjust="spacingAndGlyphs" style="font-family:&quot;Liberation Sans&quot;, sans-serif;font-style:italic;">S</tspan><tspan x="650.99" y="131.00" font-size="56.55" textLength="31.27" lengthAdjust="spacingAndGlyphs" style="font-family:&quot;Liberation Sans&quot;, sans-serif;">2</tspan></text>
<text><tspan x="875.67" y="119.08" font-size="85.71" textLength="49.14" lengthAdjust="spacingAndGlyphs" style="font-family:&quot;Liberation Sans&quot;, sans-serif;font-style:italic;">S</tspan><tspan x="920.13" y="131.30" font-size="59.68" textLength="29.97" lengthAdjust="spacingAndGlyphs" style="font-family:&quot;Liberation Serif&quot;, serif;">1</tspan></text>
<text><tspan x="1150.10" y="119.90" font-size="86.21" textLength="54.52" lengthAdjust="spacingAndGlyphs" style="font-family:&quot;Liberation Sans&quot;, sans-serif;font-style:italic;">T</tspan><tspan x="1200.98" y="130.80" font-size="59.37" textLength="29.14" lengthAdjust="spacingAndGlyphs" style="font-family:&quot;Liberation Serif&quot;, serif;">1</tspan><tspan x="1232.44" y="138.60" font-size="65.73" textLength="47.50" lengthAdjust="spacingAndGlyphs" style="font-family:&quot;Liberation Serif&quot;, serif;">−</tspan><tspan x="1281.54" y="131.80" font-size="60.90" textLength="31.54" lengthAdjust="spacingAndGlyphs" style="font-family:&quot;Liberation Serif&quot;, serif;">3</tspan></text>
<text><tspan x="983.04" y="260.71" font-size="88.42" textLength="26.08" lengthAdjust="spacingAndGlyphs" style="font-family:&quot;Liberation Sans&quot;, sans-serif;">(</tspan><tspan x="1013.82" y="257.76" font-size="70.85" textLength="32.49" lengthAdjust="spacingAndGlyphs" style="font-family:&quot;Liberation Sans&quot;, sans-serif;">a</tspan><tspan x="1056.79" y="260.71" font-size="88.42" textLength="25.57" lengthAdjust="spacingAndGlyphs" style="font-family:&quot;Liberation Sans&quot;, sans-serif;">)</tspan> <tspan x="1114.12" y="258.10" font-size="85.18" textLength="57.03" lengthAdjust="spacingAndGlyphs" style="font-family:&quot;Liberation Sans&quot;, sans-serif;">D</tspan><tspan x="1173.45" y="259.65" font-size="74.38" textLength="151.39" lengthAdjust="spacingAndGlyphs" style="font-family:&quot;Liberation Sans&quot;, sans-serif;">yson</tspan> <tspan x="1356.37" y="256.97" font-size="69.39" textLength="207.34" lengthAdjust="spacingAndGlyphs" style="font-family:&quot;Liberation Sans&quot;, sans-serif;">norms</tspan></text>
<text><tspan x="1008.14" y="969.72" font-size="88.85" textLength="26.08" lengthAdjust="spacingAndGlyphs" style="font-family:&quot;Liberation Sans&quot;, sans-serif;">(</tspan><tspan x="1041.18" y="967.50" font-size="80.56" textLength="41.31" lengthAdjust="spacingAndGlyphs" style="font-family:&quot;Liberation Sans&quot;, sans-serif;">b</tspan><tspan x="1086.07" y="969.72" font-size="88.85" textLength="26.08" lengthAdjust="spacingAndGlyphs" style="font-family:&quot;Liberation Sans&quot;, sans-serif;">)</tspan> <tspan x="1144.19" y="966.98" font-size="85.45" textLength="53.72" lengthAdjust="spacingAndGlyphs" style="font-family:&quot;Liberation Sans&quot;, sans-serif;">U</tspan><tspan x="1200.63" y="967.74" font-size="77.86" textLength="125.66" lengthAdjust="spacingAndGlyphs" style="font-family:&quot;Liberation Sans&quot;, sans-serif;">nity</tspan> <tspan x="1356.05" y="965.97" font-size="69.39" textLength="207.97" lengthAdjust="spacingAndGlyphs" style="font-family:&quot;Liberation Sans&quot;, sans-serif;">norms</tspan></text>
<text><tspan x="625.70" y="443.82" font-size="73.60" textLength="46.48" lengthAdjust="spacingAndGlyphs" style="font-family:&quot;DejaVu Serif&quot;, serif;font-style:italic;stroke:#fff;stroke-width:1.4px;">τ</tspan><tspan x="666.90" y="454.90" font-size="59.53" textLength="29.00" lengthAdjust="spacingAndGlyphs" style="font-family:&quot;Liberation Serif&quot;, serif;">1</tspan> <tspan x="722.50" y="442.32" font-size="66.19" textLength="68.69" lengthAdjust="spacingAndGlyphs" style="font-family:&quot;Liberation Sans&quot;, sans-serif;stroke:#fff;stroke-width:1.4px;">=</tspan> <tspan x="812.64" y="441.14" font-size="77.05" textLength="82.55" lengthAdjust="spacingAndGlyphs" style="font-family:&quot;Liberation Sans&quot;, sans-serif;">43</tspan> <tspan x="911.01" y="441.01" font-size="79.19" textLength="55.58" lengthAdjust="spacingAndGlyphs" style="font-family:&quot;Liberation Sans&quot;, sans-serif;">fs</tspan></text>
<text><tspan x="625.70" y="543.42" font-size="73.80" textLength="46.48" lengthAdjust="spacingAndGlyphs" style="font-family:&quot;DejaVu Serif&quot;, serif;font-style:italic;stroke:#fff;stroke-width:1.4px;">τ</tspan><tspan x="666.12" y="553.80" font-size="56.55" textLength="31.02" lengthAdjust="spacingAndGlyphs" style="font-family:&quot;Liberation Sans&quot;, sans-serif;">2</tspan> <tspan x="722.50" y="541.92" font-size="64.51" textLength="68.69" lengthAdjust="spacingAndGlyphs" style="font-family:&quot;Liberation Sans&quot;, sans-serif;stroke:#fff;stroke-width:1.4px;">=</tspan> <tspan x="812.65" y="541.51" font-size="79.14" textLength="123.47" lengthAdjust="spacingAndGlyphs" style="font-family:&quot;Liberation Sans&quot;, sans-serif;">485</tspan> <tspan x="952.41" y="541.51" font-size="79.19" textLength="55.47" lengthAdjust="spacingAndGlyphs" style="font-family:&quot;Liberation Sans&quot;, sans-serif;">fs</tspan></text>
<text><tspan x="625.70" y="1211.82" font-size="73.60" textLength="46.48" lengthAdjust="spacingAndGlyphs" style="font-family:&quot;DejaVu Serif&quot;, serif;font-style:italic;stroke:#fff;stroke-width:1.4px;">τ</tspan><tspan x="666.90" y="1222.90" font-size="59.53" textLength="29.00" lengthAdjust="spacingAndGlyphs" style="font-family:&quot;Liberation Serif&quot;, serif;">1</tspan> <tspan x="722.50" y="1210.32" font-size="66.19" textLength="68.69" lengthAdjust="spacingAndGlyphs" style="font-family:&quot;Liberation Sans&quot;, sans-serif;stroke:#fff;stroke-width:1.4px;">=</tspan> <tspan x="812.68" y="1209.32" font-size="78.14" textLength="80.83" lengthAdjust="spacingAndGlyphs" style="font-family:&quot;Liberation Sans&quot;, sans-serif;">45</tspan> <tspan x="911.01" y="1209.01" font-size="79.19" textLength="55.58" lengthAdjust="spacingAndGlyphs" style="font-family:&quot;Liberation Sans&quot;, sans-serif;">fs</tspan></text>
<text><tspan x="625.70" y="1311.42" font-size="73.80" textLength="46.48" lengthAdjust="spacingAndGlyphs" style="font-family:&quot;DejaVu Serif&quot;, serif;font-style:italic;stroke:#fff;stroke-width:1.4px;">τ</tspan><tspan x="666.12" y="1321.80" font-size="56.55" textLength="31.02" lengthAdjust="spacingAndGlyphs" style="font-family:&quot;Liberation Sans&quot;, sans-serif;">2</tspan> <tspan x="722.50" y="1309.92" font-size="64.51" textLength="68.69" lengthAdjust="spacingAndGlyphs" style="font-family:&quot;Liberation Sans&quot;, sans-serif;stroke:#fff;stroke-width:1.4px;">=</tspan> <tspan x="813.34" y="1309.91" font-size="79.14" textLength="122.95" lengthAdjust="spacingAndGlyphs" style="font-family:&quot;Liberation Sans&quot;, sans-serif;">554</tspan> <tspan x="952.41" y="1309.51" font-size="79.19" textLength="55.47" lengthAdjust="spacingAndGlyphs" style="font-family:&quot;Liberation Sans&quot;, sans-serif;">fs</tspan></text>
<text transform="rotate(-90)"><tspan x="-812.00" y="97.00" font-size="84.31" textLength="23.06" lengthAdjust="spacingAndGlyphs" style="font-family:&quot;Liberation Sans&quot;, sans-serif;">I</tspan><tspan x="-787.63" y="97.76" font-size="77.36" textLength="268.62" lengthAdjust="spacingAndGlyphs" style="font-family:&quot;Liberation Sans&quot;, sans-serif;">ntensity</tspan> <tspan x="-488.82" y="99.89" font-size="88.43" textLength="258.16" lengthAdjust="spacingAndGlyphs" style="font-family:&quot;Liberation Sans&quot;, sans-serif;">(arb.u.)</tspan></text>
<text transform="rotate(-90)"><tspan x="-1521.00" y="97.00" font-size="84.31" textLength="23.06" lengthAdjust="spacingAndGlyphs" style="font-family:&quot;Liberation Sans&quot;, sans-serif;">I</tspan><tspan x="-1496.63" y="97.76" font-size="77.36" textLength="268.62" lengthAdjust="spacingAndGlyphs" style="font-family:&quot;Liberation Sans&quot;, sans-serif;">ntensity</tspan> <tspan x="-1197.82" y="99.89" font-size="88.43" textLength="258.16" lengthAdjust="spacingAndGlyphs" style="font-family:&quot;Liberation Sans&quot;, sans-serif;">(arb.u.)</tspan></text>
<text><tspan x="105.22" y="901.82" font-size="78.46" textLength="39.82" lengthAdjust="spacingAndGlyphs" style="font-family:&quot;Liberation Sans&quot;, sans-serif;">0</tspan></text>
<text><tspan x="105.22" y="1610.82" font-size="78.46" textLength="39.82" lengthAdjust="spacingAndGlyphs" style="font-family:&quot;Liberation Sans&quot;, sans-serif;">0</tspan></text>
<text><tspan x="123.07" y="1667.43" font-size="77.75" textLength="104.76" lengthAdjust="spacingAndGlyphs" style="font-family:&quot;Liberation Sans&quot;, sans-serif;">0.0</tspan></text>
<text><tspan x="406.79" y="1666.75" font-size="75.93" textLength="104.16" lengthAdjust="spacingAndGlyphs" style="font-family:&quot;Liberation Sans&quot;, sans-serif;">0.2</tspan></text>
<text><tspan x="688.94" y="1667.24" font-size="77.05" textLength="106.08" lengthAdjust="spacingAndGlyphs" style="font-family:&quot;Liberation Sans&quot;, sans-serif;">0.4</tspan></text>
<text><tspan x="973.25" y="1667.24" font-size="77.05" textLength="105.82" lengthAdjust="spacingAndGlyphs" style="font-family:&quot;Liberation Sans&quot;, sans-serif;">0.6</tspan></text>
<text><tspan x="1255.53" y="1667.24" font-size="77.05" textLength="106.56" lengthAdjust="spacingAndGlyphs" style="font-family:&quot;Liberation Sans&quot;, sans-serif;">0.8</tspan></text>
<text><tspan x="1542.27" y="1667.72" font-size="78.04" textLength="102.50" lengthAdjust="spacingAndGlyphs" style="font-family:&quot;Liberation Sans&quot;, sans-serif;">1.0</tspan></text>
<text><tspan x="711.73" y="1785.98" font-size="77.50" textLength="180.35" lengthAdjust="spacingAndGlyphs" style="font-family:&quot;Liberation Sans&quot;, sans-serif;">Time</tspan> <tspan x="920.55" y="1789.45" font-size="89.17" textLength="134.52" lengthAdjust="spacingAndGlyphs" style="font-family:&quot;Liberation Sans&quot;, sans-serif;">(ps)</tspan></text>
</svg>
</body></html>
